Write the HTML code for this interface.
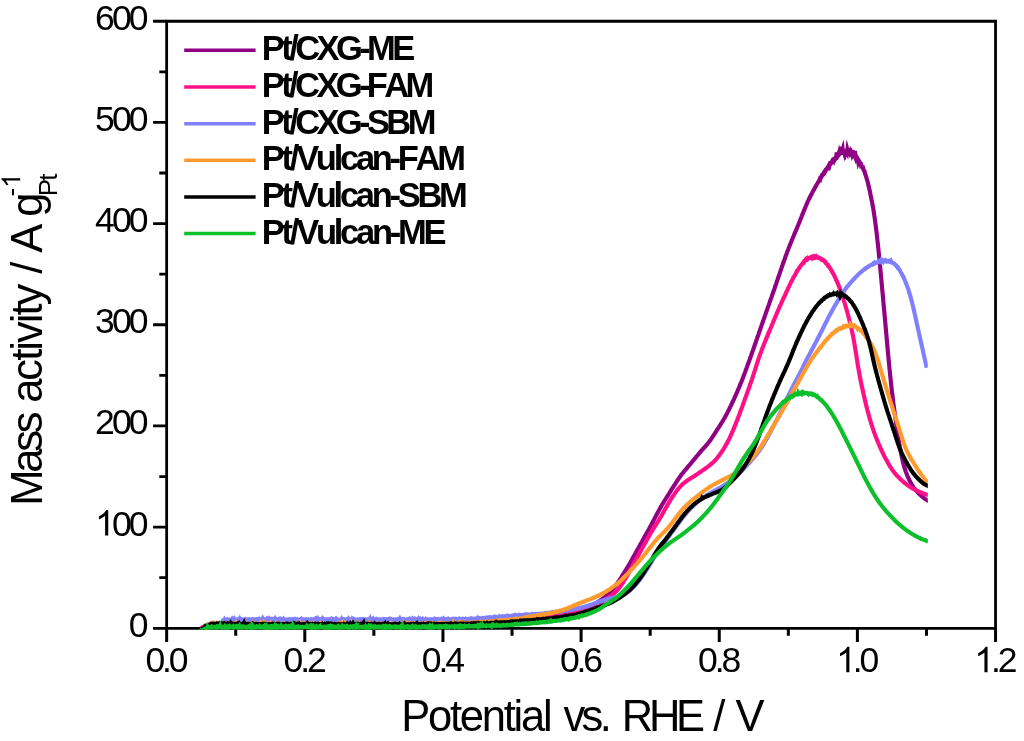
<!DOCTYPE html>
<html><head><meta charset="utf-8"><title>Mass activity</title>
<style>
html,body{margin:0;padding:0;background:#fff;}
svg{display:block;opacity:0.9999;will-change:transform;}
text{font-family:"Liberation Sans",sans-serif;fill:#000;font-kerning:none;white-space:pre;}
.tk{font-size:35px;}
.lg{font-size:34.5px;font-weight:bold;}
.ax{font-size:43.5px;}
</style></head><body>
<svg width="1024" height="741" viewBox="0 0 1024 741">
<rect width="1024" height="741" fill="#fff"/>
<g stroke="#000" stroke-width="2.8" fill="none" stroke-linecap="butt">
<path d="M166.65 19.85 V629.6999999999999 M165.25 21.25 H996.9499999999999 M995.55 19.85 V629.6999999999999 M165.25 628.3 H996.9499999999999"/>
<path stroke-width="3.0" d="M166.65 628.3 v13.60 M235.73 628.3 v7.40 M304.80 628.3 v13.60 M373.88 628.3 v7.40 M442.95 628.3 v13.60 M512.02 628.3 v7.40 M581.10 628.3 v13.60 M650.18 628.3 v7.40 M719.25 628.3 v13.60 M788.33 628.3 v7.40 M857.40 628.3 v13.60 M926.48 628.3 v7.40 M995.55 628.3 v13.60"/>
<path stroke-width="2.8" d="M166.65 628.30 h-13.55 M166.65 577.71 h-7.35 M166.65 527.12 h-13.55 M166.65 476.54 h-7.35 M166.65 425.95 h-13.55 M166.65 375.36 h-7.35 M166.65 324.77 h-13.55 M166.65 274.19 h-7.35 M166.65 223.60 h-13.55 M166.65 173.01 h-7.35 M166.65 122.42 h-13.55 M166.65 71.84 h-7.35 M166.65 21.25 h-13.55"/>
</g>
<clipPath id="cp"><rect x="150" y="0" width="777.8" height="629.70"/></clipPath>
<g clip-path="url(#cp)" fill="none" stroke-width="4.15" stroke-linejoin="miter" stroke-miterlimit="8" stroke-linecap="butt">
<path stroke="#900084" stroke-miterlimit="5" d="M201.0 628.6 L201.4 628.4 L201.8 628.1 L202.2 627.7 L202.6 627.6 L203.0 627.3 L203.4 627.3 L203.8 627.1 L204.2 626.8 L204.6 626.6 L205.0 626.7 L205.4 626.5 L205.8 626.3 L206.2 626.0 L206.6 626.1 L207.0 626.1 L207.4 625.6 L207.8 625.3 L208.2 625.4 L208.6 625.4 L209.0 625.2 L209.4 625.5 L209.8 625.2 L210.2 625.5 L210.6 625.4 L211.0 625.3 L211.4 624.8 L211.8 625.1 L212.2 625.2 L212.6 625.2 L213.0 624.9 L213.4 625.1 L213.8 625.0 L214.2 625.0 L214.6 625.4 L215.0 625.0 L215.4 625.2 L215.8 625.4 L216.2 625.1 L216.6 625.2 L217.0 625.2 L217.4 625.2 L217.8 624.9 L218.2 625.2 L218.6 625.5 L219.0 624.9 L219.4 625.4 L219.8 625.2 L220.2 625.1 L220.6 626.1 L221.0 625.4 L221.4 625.0 L221.8 625.2 L222.2 625.3 L222.6 625.2 L223.0 625.3 L223.4 625.2 L223.8 625.3 L224.2 625.5 L224.6 625.1 L225.0 625.2 L225.4 625.1 L225.8 625.2 L226.2 625.2 L226.6 625.1 L227.0 625.2 L227.4 625.4 L227.8 625.4 L228.2 624.9 L228.6 625.0 L229.0 625.3 L229.4 624.8 L229.8 625.1 L230.2 625.2 L230.6 625.5 L231.0 625.3 L231.4 625.1 L231.8 625.1 L232.2 625.1 L232.6 625.5 L233.0 625.1 L233.4 625.1 L233.8 625.3 L234.2 625.2 L234.6 625.2 L235.0 625.0 L235.4 625.2 L235.8 625.1 L236.2 625.4 L236.6 625.3 L237.0 625.2 L237.4 625.3 L237.8 625.1 L238.2 625.4 L238.6 625.2 L239.0 625.3 L239.4 624.9 L239.8 625.3 L240.2 624.8 L240.6 624.8 L241.0 625.1 L241.4 625.0 L241.8 625.2 L242.2 625.7 L242.6 625.0 L243.0 625.1 L243.4 625.2 L243.8 625.3 L244.2 625.2 L244.6 625.2 L245.0 625.3 L245.4 625.3 L245.8 625.0 L246.2 625.2 L246.6 625.2 L247.0 625.0 L247.4 625.3 L247.8 625.0 L248.2 625.4 L248.6 625.2 L249.0 625.2 L249.4 625.1 L249.8 625.2 L250.2 624.0 L250.6 625.0 L251.0 625.3 L251.4 624.8 L251.8 625.4 L252.2 624.6 L252.6 625.4 L253.0 625.0 L253.4 625.4 L253.8 625.2 L254.2 624.9 L254.6 625.5 L255.0 625.5 L255.4 625.2 L255.8 625.1 L256.2 625.2 L256.6 625.0 L257.0 625.4 L257.4 625.1 L257.8 625.2 L258.2 625.0 L258.6 625.1 L259.0 624.9 L259.4 625.5 L259.8 625.2 L260.2 625.4 L260.6 625.2 L261.0 625.1 L261.4 625.1 L261.8 624.6 L262.2 625.2 L262.6 625.1 L263.0 625.1 L263.4 624.9 L263.8 625.0 L264.2 625.5 L264.6 625.1 L265.0 625.0 L265.4 625.3 L265.8 625.5 L266.2 624.9 L266.6 625.2 L267.0 625.1 L267.4 624.8 L267.8 625.4 L268.2 625.2 L268.6 625.2 L269.0 623.6 L269.4 625.3 L269.8 625.1 L270.2 625.2 L270.6 625.0 L271.0 624.9 L271.4 625.5 L271.8 625.1 L272.2 624.7 L272.6 625.2 L273.0 625.1 L273.4 625.1 L273.8 625.3 L274.2 625.1 L274.6 625.2 L275.0 625.2 L275.4 625.4 L275.8 625.5 L276.2 625.3 L276.6 625.1 L277.0 624.6 L277.4 625.4 L277.8 625.4 L278.2 625.2 L278.6 625.3 L279.0 625.4 L279.4 625.4 L279.8 625.4 L280.2 625.1 L280.6 625.5 L281.0 624.9 L281.4 625.4 L281.8 625.3 L282.2 625.4 L282.6 625.6 L283.0 625.5 L283.4 625.0 L283.8 624.8 L284.2 625.4 L284.6 625.0 L285.0 625.2 L285.4 625.4 L285.8 624.9 L286.2 624.8 L286.6 625.3 L287.0 625.2 L287.4 625.1 L287.8 625.2 L288.2 625.0 L288.6 624.9 L289.0 625.2 L289.4 625.0 L289.8 625.0 L290.2 625.3 L290.6 625.2 L291.0 625.3 L291.4 625.0 L291.8 625.1 L292.2 625.0 L292.6 625.0 L293.0 625.2 L293.4 625.0 L293.8 625.3 L294.2 625.3 L294.6 626.7 L295.0 624.9 L295.4 625.4 L295.8 625.2 L296.2 625.2 L296.6 624.9 L297.0 625.1 L297.4 625.4 L297.8 625.2 L298.2 625.2 L298.6 625.1 L299.0 625.4 L299.4 625.2 L299.8 624.7 L300.2 625.1 L300.6 624.8 L301.0 624.5 L301.4 625.1 L301.8 625.5 L302.2 625.2 L302.6 625.0 L303.0 625.0 L303.4 625.4 L303.8 625.2 L304.2 625.2 L304.6 625.2 L305.0 625.2 L305.4 625.4 L305.8 625.1 L306.2 625.2 L306.6 625.0 L307.0 625.3 L307.4 625.1 L307.8 625.4 L308.2 624.9 L308.6 625.2 L309.0 625.2 L309.4 624.9 L309.8 625.6 L310.2 625.5 L310.6 625.1 L311.0 625.4 L311.4 625.3 L311.8 624.7 L312.2 625.2 L312.6 625.2 L313.0 625.2 L313.4 625.0 L313.8 625.1 L314.2 625.2 L314.6 625.4 L315.0 625.3 L315.4 625.2 L315.8 625.5 L316.2 625.1 L316.6 625.1 L317.0 624.8 L317.4 625.5 L317.8 625.4 L318.2 625.4 L318.6 625.3 L319.0 625.2 L319.4 625.2 L319.8 625.1 L320.2 625.1 L320.6 625.2 L321.0 625.5 L321.4 625.3 L321.8 625.2 L322.2 625.1 L322.6 625.1 L323.0 625.5 L323.4 625.3 L323.8 625.2 L324.2 625.1 L324.6 625.0 L325.0 625.2 L325.4 625.4 L325.8 625.1 L326.2 625.1 L326.6 625.1 L327.0 625.2 L327.4 624.9 L327.8 625.1 L328.2 625.0 L328.6 625.4 L329.0 625.0 L329.4 625.3 L329.8 625.5 L330.2 625.1 L330.6 625.1 L331.0 625.2 L331.4 625.2 L331.8 625.0 L332.2 625.3 L332.6 625.6 L333.0 625.1 L333.4 625.1 L333.8 625.0 L334.2 625.2 L334.6 624.9 L335.0 624.9 L335.4 625.4 L335.8 625.0 L336.2 625.4 L336.6 625.5 L337.0 625.2 L337.4 625.3 L337.8 625.6 L338.2 625.1 L338.6 624.9 L339.0 624.9 L339.4 625.2 L339.8 626.2 L340.2 625.4 L340.6 625.0 L341.0 625.0 L341.4 625.1 L341.8 625.2 L342.2 625.1 L342.6 625.2 L343.0 625.2 L343.4 625.1 L343.8 625.1 L344.2 625.2 L344.6 625.1 L345.0 625.3 L345.4 625.5 L345.8 625.1 L346.2 625.2 L346.6 624.8 L347.0 625.2 L347.4 624.7 L347.8 624.9 L348.2 625.3 L348.6 625.3 L349.0 625.1 L349.4 625.3 L349.8 625.1 L350.2 625.0 L350.6 625.6 L351.0 625.6 L351.4 625.2 L351.8 625.0 L352.2 624.9 L352.6 625.1 L353.0 625.1 L353.4 624.9 L353.8 625.2 L354.2 624.9 L354.6 625.4 L355.0 625.4 L355.4 625.4 L355.8 625.0 L356.2 625.2 L356.6 625.1 L357.0 625.0 L357.4 625.1 L357.8 624.9 L358.2 624.8 L358.6 625.3 L359.0 625.1 L359.4 625.2 L359.8 625.3 L360.2 624.8 L360.6 625.0 L361.0 625.2 L361.4 625.2 L361.8 625.0 L362.2 625.3 L362.6 625.2 L363.0 624.9 L363.4 624.9 L363.8 625.3 L364.2 625.2 L364.6 624.7 L365.0 625.4 L365.4 625.2 L365.8 625.4 L366.2 625.0 L366.6 625.0 L367.0 624.9 L367.4 625.6 L367.8 625.1 L368.2 625.4 L368.6 625.4 L369.0 625.1 L369.4 624.8 L369.8 625.0 L370.2 625.3 L370.6 624.8 L371.0 625.3 L371.4 625.2 L371.8 624.9 L372.2 625.0 L372.6 625.0 L373.0 625.1 L373.4 625.0 L373.8 624.9 L374.2 625.0 L374.6 624.9 L375.0 624.8 L375.4 625.1 L375.8 625.3 L376.2 624.8 L376.6 625.1 L377.0 624.9 L377.4 624.9 L377.8 625.2 L378.2 625.0 L378.6 624.8 L379.0 624.9 L379.4 625.1 L379.8 625.0 L380.2 624.9 L380.6 625.2 L381.0 625.0 L381.4 625.2 L381.8 625.1 L382.2 624.8 L382.6 625.0 L383.0 625.1 L383.4 625.2 L383.8 624.9 L384.2 625.0 L384.6 624.7 L385.0 625.2 L385.4 625.5 L385.8 624.7 L386.2 625.0 L386.6 625.3 L387.0 624.8 L387.4 624.8 L387.8 624.9 L388.2 624.8 L388.6 625.1 L389.0 624.9 L389.4 624.9 L389.8 625.1 L390.2 624.9 L390.6 625.1 L391.0 624.8 L391.4 624.8 L391.8 624.7 L392.2 625.4 L392.6 625.9 L393.0 625.1 L393.4 625.0 L393.8 625.1 L394.2 625.0 L394.6 625.4 L395.0 624.8 L395.4 624.7 L395.8 624.8 L396.2 624.8 L396.6 625.2 L397.0 625.9 L397.4 624.8 L397.8 624.8 L398.2 624.9 L398.6 625.3 L399.0 624.5 L399.4 625.0 L399.8 624.8 L400.2 625.2 L400.6 624.8 L401.0 624.9 L401.4 624.7 L401.8 624.8 L402.2 625.2 L402.6 625.1 L403.0 624.9 L403.4 624.8 L403.8 624.6 L404.2 624.9 L404.6 625.0 L405.0 625.0 L405.4 625.0 L405.8 624.8 L406.2 625.0 L406.6 625.4 L407.0 625.2 L407.4 625.3 L407.8 624.9 L408.2 624.8 L408.6 625.0 L409.0 624.9 L409.4 624.8 L409.8 624.9 L410.2 624.8 L410.6 625.1 L411.0 624.9 L411.4 625.0 L411.8 624.9 L412.2 624.8 L412.6 624.8 L413.0 624.9 L413.4 624.8 L413.8 625.0 L414.2 624.9 L414.6 623.9 L415.0 624.9 L415.4 624.7 L415.8 624.8 L416.2 624.9 L416.6 624.6 L417.0 624.9 L417.4 624.9 L417.8 624.9 L418.2 624.8 L418.6 624.8 L419.0 624.7 L419.4 624.8 L419.8 624.8 L420.2 624.9 L420.6 624.7 L421.0 624.9 L421.4 624.9 L421.8 624.9 L422.2 624.8 L422.6 625.0 L423.0 624.6 L423.4 624.9 L423.8 624.9 L424.2 624.9 L424.6 624.9 L425.0 624.7 L425.4 624.8 L425.8 625.0 L426.2 624.9 L426.6 624.9 L427.0 624.6 L427.4 624.9 L427.8 625.0 L428.2 625.0 L428.6 624.9 L429.0 624.6 L429.4 625.0 L429.8 624.8 L430.2 624.4 L430.6 624.9 L431.0 624.6 L431.4 624.6 L431.8 624.7 L432.2 625.0 L432.6 624.7 L433.0 624.8 L433.4 625.1 L433.8 625.0 L434.2 624.8 L434.6 624.7 L435.0 624.6 L435.4 624.6 L435.8 624.8 L436.2 624.8 L436.6 624.8 L437.0 624.9 L437.4 624.6 L437.8 624.7 L438.2 624.8 L438.6 624.8 L439.0 624.9 L439.4 624.8 L439.8 624.7 L440.2 624.8 L440.6 624.5 L441.0 624.4 L441.4 624.8 L441.8 624.7 L442.2 624.7 L442.6 624.4 L443.0 623.9 L443.4 624.6 L443.8 624.5 L444.2 624.3 L444.6 625.0 L445.0 624.8 L445.4 624.7 L445.8 624.5 L446.2 624.6 L446.6 624.7 L447.0 624.2 L447.4 624.6 L447.8 624.7 L448.2 624.7 L448.6 624.9 L449.0 624.8 L449.4 624.6 L449.8 624.6 L450.2 624.7 L450.6 624.5 L451.0 624.6 L451.4 624.7 L451.8 624.9 L452.2 624.5 L452.6 624.5 L453.0 624.6 L453.4 624.7 L453.8 624.5 L454.2 624.1 L454.6 624.4 L455.0 624.5 L455.4 624.5 L455.8 624.6 L456.2 624.7 L456.6 624.3 L457.0 624.4 L457.4 624.5 L457.8 624.4 L458.2 624.3 L458.6 624.6 L459.0 624.5 L459.4 624.6 L459.8 624.4 L460.2 624.6 L460.6 624.4 L461.0 624.6 L461.4 624.3 L461.8 624.3 L462.2 624.4 L462.6 624.3 L463.0 624.5 L463.4 624.4 L463.8 624.3 L464.2 624.4 L464.6 624.3 L465.0 624.5 L465.4 624.3 L465.8 624.3 L466.2 624.5 L466.6 624.7 L467.0 624.6 L467.4 624.3 L467.8 624.4 L468.2 624.5 L468.6 624.3 L469.0 624.2 L469.4 624.5 L469.8 624.4 L470.2 624.2 L470.6 624.1 L471.0 624.1 L471.4 624.4 L471.8 624.2 L472.2 624.2 L472.6 624.3 L473.0 624.3 L473.4 624.2 L473.8 624.0 L474.2 624.1 L474.6 624.2 L475.0 624.1 L475.4 624.4 L475.8 624.2 L476.2 624.1 L476.6 624.1 L477.0 624.1 L477.4 624.2 L477.8 623.9 L478.2 624.0 L478.6 624.1 L479.0 624.5 L479.4 624.2 L479.8 624.1 L480.2 624.2 L480.6 624.4 L481.0 624.0 L481.4 624.0 L481.8 624.2 L482.2 624.1 L482.6 624.1 L483.0 623.9 L483.4 624.3 L483.8 624.2 L484.2 624.0 L484.6 624.1 L485.0 623.7 L485.4 624.0 L485.8 623.9 L486.2 624.0 L486.6 624.0 L487.0 623.8 L487.4 623.7 L487.8 623.9 L488.2 623.8 L488.6 623.8 L489.0 623.7 L489.4 623.8 L489.8 623.5 L490.2 623.9 L490.6 623.8 L491.0 623.9 L491.4 624.0 L491.8 623.7 L492.2 623.5 L492.6 623.6 L493.0 623.5 L493.4 623.6 L493.8 623.7 L494.2 623.4 L494.6 623.7 L495.0 623.4 L495.4 623.6 L495.8 623.4 L496.2 623.5 L496.6 623.5 L497.0 623.5 L497.4 623.4 L497.8 623.3 L498.2 623.5 L498.6 623.7 L499.0 623.7 L499.4 623.6 L499.8 623.5 L500.2 623.3 L500.6 623.5 L501.0 623.3 L501.4 623.3 L501.8 623.3 L502.2 623.3 L502.6 623.2 L503.0 623.2 L503.4 623.1 L503.8 623.2 L504.2 623.4 L504.6 623.1 L505.0 623.1 L505.4 623.2 L505.8 623.2 L506.2 622.9 L506.6 623.0 L507.0 622.7 L507.4 622.8 L507.8 623.0 L508.2 623.1 L508.6 622.8 L509.0 622.9 L509.4 622.8 L509.8 623.0 L510.2 622.8 L510.6 622.7 L511.0 622.6 L511.4 622.7 L511.8 622.7 L512.2 622.8 L512.6 622.4 L513.0 622.8 L513.4 622.5 L513.8 622.4 L514.2 622.5 L514.6 622.3 L515.0 622.1 L515.4 622.3 L515.8 622.1 L516.2 622.2 L516.6 622.3 L517.0 622.3 L517.4 622.3 L517.8 622.1 L518.2 621.9 L518.6 622.0 L519.0 621.9 L519.4 621.8 L519.8 622.0 L520.2 621.8 L520.6 621.6 L521.0 622.0 L521.4 621.8 L521.8 621.8 L522.2 621.7 L522.6 621.7 L523.0 621.6 L523.4 621.7 L523.8 621.6 L524.2 621.6 L524.6 621.5 L525.0 621.1 L525.4 621.4 L525.8 621.4 L526.2 621.4 L526.6 621.2 L527.0 621.4 L527.4 621.2 L527.8 621.1 L528.2 621.0 L528.6 621.1 L529.0 621.1 L529.4 621.0 L529.8 621.0 L530.2 620.9 L530.6 621.0 L531.0 620.8 L531.4 620.9 L531.8 620.9 L532.2 621.0 L532.6 620.6 L533.0 620.7 L533.4 620.6 L533.8 620.7 L534.2 620.5 L534.6 620.5 L535.0 620.5 L535.4 620.4 L535.8 620.4 L536.2 620.4 L536.6 620.2 L537.0 620.2 L537.4 620.3 L537.8 620.3 L538.2 620.2 L538.6 620.0 L539.0 620.1 L539.4 620.2 L539.8 620.1 L540.2 620.0 L540.6 619.9 L541.0 620.0 L541.4 619.9 L541.8 619.8 L542.2 619.8 L542.6 619.9 L543.0 619.8 L543.4 619.8 L543.8 619.6 L544.2 619.7 L544.6 619.5 L545.0 619.5 L545.4 619.7 L545.8 619.5 L546.2 619.4 L546.6 619.4 L547.0 619.3 L547.4 619.4 L547.8 619.2 L548.2 618.9 L548.6 619.1 L549.0 619.1 L549.4 619.0 L549.8 619.1 L550.2 618.9 L550.6 618.9 L551.0 618.7 L551.4 618.8 L551.8 618.9 L552.2 618.7 L552.6 618.6 L553.0 618.5 L553.4 618.6 L553.8 618.3 L554.2 618.3 L554.6 618.3 L555.0 618.3 L555.4 618.0 L555.8 618.2 L556.2 618.0 L556.6 618.0 L557.0 617.9 L557.4 617.7 L557.8 617.7 L558.2 617.8 L558.6 617.5 L559.0 617.3 L559.4 617.5 L559.8 617.3 L560.2 617.3 L560.6 617.2 L561.0 617.3 L561.4 617.3 L561.8 617.2 L562.2 616.9 L562.6 616.9 L563.0 616.8 L563.4 616.7 L563.8 616.8 L564.2 616.4 L564.6 616.5 L565.0 616.4 L565.4 616.4 L565.8 616.2 L566.2 616.1 L566.6 616.0 L567.0 616.0 L567.4 615.8 L567.8 615.8 L568.2 615.6 L568.6 615.4 L569.0 615.5 L569.4 615.4 L569.8 615.3 L570.2 615.2 L570.6 615.1 L571.0 614.9 L571.4 614.8 L571.8 614.7 L572.2 614.7 L572.6 614.4 L573.0 614.5 L573.4 614.2 L573.8 614.1 L574.2 614.1 L574.6 613.9 L575.0 613.7 L575.4 613.6 L575.8 613.6 L576.2 613.5 L576.6 613.3 L577.0 613.2 L577.4 613.1 L577.8 612.8 L578.2 612.8 L578.6 612.6 L579.0 612.4 L579.4 612.3 L579.8 612.1 L580.2 612.0 L580.6 611.8 L581.0 611.6 L581.4 611.5 L581.8 611.3 L582.2 611.2 L582.6 611.0 L583.0 610.8 L583.4 610.7 L583.8 610.3 L584.2 610.2 L584.6 609.9 L585.0 609.9 L585.4 609.6 L585.8 609.2 L586.2 609.0 L586.6 608.9 L587.0 608.7 L587.4 608.5 L587.8 608.2 L588.2 608.0 L588.6 607.8 L589.0 607.5 L589.4 607.4 L589.8 606.9 L590.2 606.9 L590.6 606.6 L591.0 606.5 L591.4 606.2 L591.8 605.9 L592.2 605.7 L592.6 605.4 L593.0 605.2 L593.4 604.9 L593.8 604.7 L594.2 604.5 L594.6 604.3 L595.0 604.0 L595.4 603.8 L595.8 603.5 L596.2 603.2 L596.6 603.0 L597.0 602.8 L597.4 602.4 L597.8 602.1 L598.2 601.9 L598.6 601.6 L599.0 601.3 L599.4 601.1 L599.8 600.8 L600.2 600.5 L600.6 600.2 L601.0 600.0 L601.4 599.7 L601.8 599.3 L602.2 599.2 L602.6 598.8 L603.0 598.6 L603.4 598.3 L603.8 597.9 L604.2 597.6 L604.6 597.3 L605.0 597.0 L605.4 596.7 L605.8 596.4 L606.2 595.9 L606.6 595.7 L607.0 595.3 L607.4 595.1 L607.8 594.7 L608.2 594.3 L608.6 594.0 L609.0 593.6 L609.4 593.1 L609.8 592.7 L610.2 592.3 L610.6 591.8 L611.0 591.4 L611.4 591.1 L611.8 590.5 L612.2 590.1 L612.6 589.5 L613.0 589.1 L613.4 588.6 L613.8 588.0 L614.2 587.5 L614.6 587.1 L615.0 586.4 L615.4 585.9 L615.8 585.3 L616.2 584.8 L616.6 584.2 L617.0 583.6 L617.4 583.0 L617.8 582.5 L618.2 581.8 L618.6 581.3 L619.0 580.7 L619.4 580.1 L619.8 579.4 L620.2 578.9 L620.6 578.2 L621.0 577.7 L621.4 577.2 L621.8 576.5 L622.2 575.8 L622.6 575.2 L623.0 574.6 L623.4 574.0 L623.8 573.3 L624.2 572.6 L624.6 572.1 L625.0 571.4 L625.4 570.7 L625.8 570.0 L626.2 569.4 L626.6 568.7 L627.0 568.0 L627.4 567.5 L627.8 566.7 L628.2 566.1 L628.6 565.5 L629.0 564.8 L629.4 564.0 L629.8 563.4 L630.2 562.7 L630.6 561.9 L631.0 561.2 L631.4 560.6 L631.8 559.8 L632.2 559.2 L632.6 558.3 L633.0 557.7 L633.4 557.0 L633.8 556.3 L634.2 555.6 L634.6 554.9 L635.0 554.2 L635.4 553.5 L635.8 552.6 L636.2 552.0 L636.6 551.3 L637.0 550.6 L637.4 549.9 L637.8 549.1 L638.2 548.4 L638.6 547.7 L639.0 547.0 L639.4 546.2 L639.8 545.6 L640.2 544.9 L640.6 544.0 L641.0 543.4 L641.4 542.8 L641.8 541.9 L642.2 541.2 L642.6 540.5 L643.0 539.7 L643.4 539.0 L643.8 538.3 L644.2 537.6 L644.6 536.8 L645.0 536.1 L645.4 535.4 L645.8 534.7 L646.2 534.0 L646.6 533.3 L647.0 532.6 L647.4 531.9 L647.8 531.2 L648.2 530.4 L648.6 529.7 L649.0 529.0 L649.4 528.2 L649.8 527.6 L650.2 526.8 L650.6 526.1 L651.0 525.3 L651.4 524.6 L651.8 523.8 L652.2 523.1 L652.6 522.4 L653.0 521.6 L653.4 520.9 L653.8 520.1 L654.2 519.2 L654.6 518.5 L655.0 517.7 L655.4 517.0 L655.8 516.3 L656.2 515.5 L656.6 514.7 L657.0 513.9 L657.4 513.3 L657.8 512.5 L658.2 511.7 L658.6 511.0 L659.0 510.3 L659.4 509.5 L659.8 508.8 L660.2 508.1 L660.6 507.4 L661.0 506.6 L661.4 505.9 L661.8 505.3 L662.2 504.5 L662.6 503.9 L663.0 503.3 L663.4 502.7 L663.8 501.9 L664.2 501.3 L664.6 500.7 L665.0 500.1 L665.4 499.5 L665.8 498.7 L666.2 498.1 L666.6 497.4 L667.0 496.8 L667.4 496.3 L667.8 495.6 L668.2 494.9 L668.6 494.3 L669.0 493.7 L669.4 493.1 L669.8 492.4 L670.2 491.8 L670.6 491.0 L671.0 490.4 L671.4 489.9 L671.8 489.1 L672.2 488.6 L672.6 488.0 L673.0 487.3 L673.4 486.6 L673.8 486.1 L674.2 485.4 L674.6 484.8 L675.0 484.1 L675.4 483.6 L675.8 482.9 L676.2 482.3 L676.6 481.7 L677.0 481.1 L677.4 480.5 L677.8 479.9 L678.2 479.3 L678.6 478.8 L679.0 478.2 L679.4 477.6 L679.8 477.0 L680.2 476.4 L680.6 475.9 L681.0 475.3 L681.4 474.8 L681.8 474.2 L682.2 473.7 L682.6 473.2 L683.0 472.7 L683.4 472.2 L683.8 471.8 L684.2 471.3 L684.6 470.8 L685.0 470.3 L685.4 469.8 L685.8 469.4 L686.2 468.9 L686.6 468.5 L687.0 468.1 L687.4 467.5 L687.8 466.9 L688.2 466.5 L688.6 466.0 L689.0 465.5 L689.4 465.2 L689.8 464.7 L690.2 464.1 L690.6 463.7 L691.0 463.3 L691.4 462.7 L691.8 462.2 L692.2 461.7 L692.6 461.3 L693.0 460.8 L693.4 460.4 L693.8 459.9 L694.2 459.4 L694.6 458.9 L695.0 458.4 L695.4 457.8 L695.8 457.4 L696.2 456.9 L696.6 456.4 L697.0 456.0 L697.4 455.4 L697.8 454.9 L698.2 454.6 L698.6 454.0 L699.0 453.5 L699.4 453.1 L699.8 452.6 L700.2 452.1 L700.6 451.5 L701.0 451.2 L701.4 450.7 L701.8 450.2 L702.2 449.8 L702.6 449.4 L703.0 448.9 L703.4 448.4 L703.8 448.1 L704.2 447.6 L704.6 447.1 L705.0 446.7 L705.4 446.3 L705.8 445.8 L706.2 445.4 L706.6 444.9 L707.0 444.4 L707.4 444.0 L707.8 443.5 L708.2 443.0 L708.6 442.5 L709.0 442.0 L709.4 441.6 L709.8 440.9 L710.2 440.4 L710.6 439.8 L711.0 439.2 L711.4 438.7 L711.8 438.1 L712.2 437.5 L712.6 436.8 L713.0 436.2 L713.4 435.6 L713.8 435.0 L714.2 434.4 L714.6 433.8 L715.0 433.1 L715.4 432.5 L715.8 431.9 L716.2 431.2 L716.6 430.5 L717.0 429.9 L717.4 429.3 L717.8 428.8 L718.2 428.1 L718.6 427.6 L719.0 426.9 L719.4 426.4 L719.8 425.7 L720.2 425.0 L720.6 424.4 L721.0 423.8 L721.4 423.2 L721.8 422.5 L722.2 421.9 L722.6 421.3 L723.0 420.5 L723.4 419.9 L723.8 419.2 L724.2 418.6 L724.6 417.9 L725.0 417.2 L725.4 416.5 L725.8 415.6 L726.2 415.0 L726.6 414.2 L727.0 413.5 L727.4 412.7 L727.8 411.8 L728.2 411.1 L728.6 410.4 L729.0 409.6 L729.4 408.8 L729.8 407.9 L730.2 407.0 L730.6 406.3 L731.0 405.5 L731.4 404.6 L731.8 403.7 L732.2 402.8 L732.6 402.1 L733.0 401.3 L733.4 400.3 L733.8 399.5 L734.2 398.6 L734.6 397.6 L735.0 396.8 L735.4 395.8 L735.8 394.9 L736.2 394.1 L736.6 393.2 L737.0 392.2 L737.4 391.3 L737.8 390.3 L738.2 389.4 L738.6 388.5 L739.0 387.5 L739.4 386.6 L739.8 385.6 L740.2 384.7 L740.6 383.6 L741.0 382.7 L741.4 381.7 L741.8 380.8 L742.2 379.7 L742.6 378.8 L743.0 377.6 L743.4 376.6 L743.8 375.6 L744.2 374.4 L744.6 373.4 L745.0 372.4 L745.4 371.2 L745.8 370.1 L746.2 369.0 L746.6 368.0 L747.0 366.9 L747.4 365.7 L747.8 364.6 L748.2 363.6 L748.6 362.5 L749.0 361.4 L749.4 360.3 L749.8 359.2 L750.2 358.0 L750.6 356.9 L751.0 355.8 L751.4 354.7 L751.8 353.5 L752.2 352.4 L752.6 351.3 L753.0 350.2 L753.4 348.9 L753.8 348.0 L754.2 346.6 L754.6 345.6 L755.0 344.4 L755.4 343.3 L755.8 342.1 L756.2 340.8 L756.6 339.8 L757.0 338.6 L757.4 337.3 L757.8 336.4 L758.2 335.2 L758.6 334.1 L759.0 332.8 L759.4 331.8 L759.8 330.6 L760.2 329.5 L760.6 328.2 L761.0 327.0 L761.4 325.9 L761.8 324.7 L762.2 323.5 L762.6 322.5 L763.0 321.3 L763.4 320.2 L763.8 319.0 L764.2 318.0 L764.6 316.8 L765.0 315.6 L765.4 314.5 L765.8 313.3 L766.2 312.1 L766.6 311.1 L767.0 309.8 L767.4 308.7 L767.8 307.5 L768.2 306.5 L768.6 305.4 L769.0 304.2 L769.4 303.1 L769.8 301.9 L770.2 300.7 L770.6 299.6 L771.0 298.6 L771.4 297.5 L771.8 296.3 L772.2 295.1 L772.6 294.1 L773.0 292.9 L773.4 291.8 L773.8 290.6 L774.2 289.5 L774.6 288.3 L775.0 287.1 L775.4 286.0 L775.8 284.7 L776.2 283.6 L776.6 282.4 L777.0 281.3 L777.4 280.1 L777.8 278.9 L778.2 277.8 L778.6 276.5 L779.0 275.3 L779.4 274.1 L779.8 273.0 L780.2 271.9 L780.6 270.7 L781.0 269.5 L781.4 268.4 L781.8 267.1 L782.2 266.1 L782.6 264.8 L783.0 263.6 L783.4 262.7 L783.8 261.5 L784.2 260.2 L784.6 259.2 L785.0 258.0 L785.4 256.9 L785.8 255.8 L786.2 254.7 L786.6 253.7 L787.0 252.6 L787.4 251.6 L787.8 250.4 L788.2 249.5 L788.6 248.3 L789.0 247.3 L789.4 246.2 L789.8 245.2 L790.2 244.3 L790.6 243.2 L791.0 242.3 L791.4 241.3 L791.8 240.2 L792.2 239.3 L792.6 238.3 L793.0 237.4 L793.4 236.5 L793.8 235.5 L794.2 234.5 L794.6 233.5 L795.0 232.7 L795.4 231.7 L795.8 230.8 L796.2 229.9 L796.6 228.9 L797.0 227.9 L797.4 226.9 L797.8 225.9 L798.2 225.0 L798.6 224.0 L799.0 223.0 L799.4 222.1 L799.8 221.1 L800.2 220.1 L800.6 219.1 L801.0 218.0 L801.4 217.2 L801.8 216.1 L802.2 215.2 L802.6 214.1 L803.0 213.1 L803.4 212.0 L803.8 211.1 L804.2 210.2 L804.6 209.0 L805.0 208.2 L805.4 207.2 L805.8 206.2 L806.2 205.3 L806.6 204.4 L807.0 203.3 L807.4 202.5 L807.8 201.5 L808.2 200.7 L808.6 199.8 L809.0 199.0 L809.4 198.2 L809.8 197.4 L810.2 196.4 L810.6 195.9 L811.0 195.1 L811.4 194.4 L811.8 193.7 L812.2 192.7 L812.6 192.0 L813.0 191.3 L813.4 190.3 L813.8 189.9 L814.2 189.4 L814.6 188.1 L815.0 187.4 L815.4 187.0 L815.8 186.2 L816.2 185.7 L816.6 184.6 L817.0 184.2 L817.4 183.7 L817.8 182.7 L818.2 182.0 L818.6 181.4 L819.0 180.7 L819.4 180.4 L819.8 179.2 L820.2 179.5 L820.6 177.8 L821.0 177.6 L821.4 176.8 L821.8 175.5 L822.2 175.5 L822.6 174.6 L823.0 174.1 L823.4 174.1 L823.8 172.7 L824.2 172.1 L824.6 172.3 L825.0 171.2 L825.4 171.2 L825.8 169.5 L826.2 169.1 L826.6 168.8 L827.0 168.8 L827.4 168.1 L827.8 167.1 L828.2 166.6 L828.6 166.0 L829.0 165.2 L829.4 166.0 L829.8 164.5 L830.2 163.3 L830.6 163.2 L831.0 163.4 L831.4 162.8 L831.8 161.9 L832.2 161.1 L832.6 161.1 L833.0 159.5 L833.4 159.3 L833.8 160.2 L834.2 158.9 L834.6 158.9 L835.0 159.3 L835.4 158.5 L835.8 157.6 L836.2 158.9 L836.6 152.4 L837.0 156.2 L837.4 156.7 L837.8 156.0 L838.2 154.6 L838.6 155.1 L839.0 154.5 L839.4 152.6 L839.8 153.9 L840.2 153.5 L840.6 153.1 L841.0 151.7 L841.4 152.6 L841.8 152.7 L842.2 150.4 L842.6 149.2 L843.0 152.8 L843.4 150.9 L843.8 151.8 L844.2 153.1 L844.6 151.1 L845.0 151.3 L845.4 152.8 L845.8 151.3 L846.2 151.4 L846.6 151.9 L847.0 152.7 L847.4 149.6 L847.8 151.0 L848.2 150.8 L848.6 150.8 L849.0 151.1 L849.4 151.2 L849.8 152.4 L850.2 151.5 L850.6 152.6 L851.0 153.0 L851.4 152.2 L851.8 153.1 L852.2 154.8 L852.6 153.9 L853.0 153.4 L853.4 154.2 L853.8 153.8 L854.2 155.2 L854.6 156.1 L855.0 150.9 L855.4 156.1 L855.8 157.6 L856.2 156.8 L856.6 157.8 L857.0 157.5 L857.4 158.2 L857.8 159.0 L858.2 161.4 L858.6 160.2 L859.0 160.8 L859.4 161.4 L859.8 162.2 L860.2 163.4 L860.6 163.8 L861.0 165.5 L861.4 165.2 L861.8 166.6 L862.2 166.8 L862.6 167.7 L863.0 167.6 L863.4 169.1 L863.8 170.1 L864.2 171.1 L864.6 171.3 L865.0 173.7 L865.4 174.4 L865.8 175.6 L866.2 176.9 L866.6 178.3 L867.0 179.9 L867.4 180.9 L867.8 182.5 L868.2 184.1 L868.6 186.1 L869.0 187.6 L869.4 189.3 L869.8 190.9 L870.2 193.1 L870.6 195.2 L871.0 196.6 L871.4 199.3 L871.8 201.1 L872.2 202.9 L872.6 205.3 L873.0 207.2 L873.4 209.5 L873.8 212.1 L874.2 214.8 L874.6 217.5 L875.0 220.3 L875.4 223.4 L875.8 226.1 L876.2 229.7 L876.6 232.8 L877.0 236.3 L877.4 239.9 L877.8 243.5 L878.2 247.2 L878.6 251.1 L879.0 255.2 L879.4 259.3 L879.8 263.4 L880.2 267.4 L880.6 271.7 L881.0 275.9 L881.4 280.4 L881.8 284.5 L882.2 289.1 L882.6 293.3 L883.0 297.6 L883.4 302.1 L883.8 306.5 L884.2 310.8 L884.6 315.2 L885.0 319.5 L885.4 324.0 L885.8 328.4 L886.2 332.8 L886.6 337.3 L887.0 341.7 L887.4 346.1 L887.8 350.5 L888.2 354.9 L888.6 359.2 L889.0 363.3 L889.4 367.6 L889.8 371.6 L890.2 375.6 L890.6 379.3 L891.0 383.1 L891.4 386.8 L891.8 390.2 L892.2 393.7 L892.6 396.8 L893.0 400.2 L893.4 403.3 L893.8 406.4 L894.2 409.3 L894.6 412.4 L895.0 415.2 L895.4 418.2 L895.8 420.9 L896.2 423.7 L896.6 426.6 L897.0 429.1 L897.4 431.8 L897.8 434.4 L898.2 436.9 L898.6 439.5 L899.0 442.0 L899.4 444.3 L899.8 446.5 L900.2 448.9 L900.6 451.1 L901.0 453.2 L901.4 455.2 L901.8 457.0 L902.2 458.9 L902.6 460.5 L903.0 462.2 L903.4 463.8 L903.8 465.2 L904.2 466.8 L904.6 468.0 L905.0 469.2 L905.4 470.5 L905.8 471.7 L906.2 472.7 L906.6 473.7 L907.0 474.8 L907.4 475.8 L907.8 476.7 L908.2 477.6 L908.6 478.5 L909.0 479.4 L909.4 480.1 L909.8 481.0 L910.2 481.7 L910.6 482.5 L911.0 483.2 L911.4 484.0 L911.8 484.6 L912.2 485.2 L912.6 485.9 L913.0 486.5 L913.4 487.1 L913.8 487.7 L914.2 488.2 L914.6 488.7 L915.0 489.3 L915.4 489.7 L915.8 490.1 L916.2 490.7 L916.6 491.1 L917.0 491.6 L917.4 492.0 L917.8 492.4 L918.2 492.8 L918.6 493.3 L919.0 493.7 L919.4 494.0 L919.8 494.5 L920.2 494.8 L920.6 495.2 L921.0 495.6 L921.4 496.0 L921.8 496.2 L922.2 496.7 L922.6 496.9 L923.0 497.3 L923.4 497.6 L923.8 498.0 L924.2 498.3 L924.6 498.6 L925.0 498.8 L925.4 499.2 L925.8 499.4 L926.2 499.6 L926.6 500.0 L927.0 500.1 L927.4 500.4 L927.8 500.7 L928.2 500.9 L928.6 501.0 L929.0 501.4 L929.4 501.5 L929.8 501.9 L930.2 502.1 L930.6 502.3 L931.0 502.5"/>
<path stroke="#ff1088" stroke-miterlimit="3" d="M201.0 628.2 L201.4 628.4 L201.8 627.9 L202.2 627.9 L202.6 627.7 L203.0 627.3 L203.4 627.0 L203.8 627.0 L204.2 626.6 L204.6 626.2 L205.0 626.2 L205.4 626.1 L205.8 625.8 L206.2 625.7 L206.6 625.5 L207.0 625.4 L207.4 625.1 L207.8 624.9 L208.2 625.3 L208.6 624.8 L209.0 624.9 L209.4 624.5 L209.8 624.7 L210.2 624.4 L210.6 625.1 L211.0 624.3 L211.4 624.2 L211.8 624.6 L212.2 624.6 L212.6 623.9 L213.0 624.3 L213.4 624.5 L213.8 624.0 L214.2 624.4 L214.6 624.2 L215.0 624.1 L215.4 624.2 L215.8 624.2 L216.2 624.0 L216.6 624.7 L217.0 624.2 L217.4 624.1 L217.8 624.4 L218.2 624.2 L218.6 624.5 L219.0 624.2 L219.4 624.3 L219.8 624.3 L220.2 624.3 L220.6 624.2 L221.0 624.2 L221.4 624.6 L221.8 624.1 L222.2 624.1 L222.6 624.1 L223.0 624.3 L223.4 624.3 L223.8 624.4 L224.2 624.3 L224.6 624.3 L225.0 624.2 L225.4 624.1 L225.8 624.2 L226.2 623.8 L226.6 624.3 L227.0 624.2 L227.4 623.9 L227.8 624.2 L228.2 624.5 L228.6 624.1 L229.0 624.3 L229.4 624.1 L229.8 622.8 L230.2 624.0 L230.6 624.1 L231.0 624.7 L231.4 624.3 L231.8 624.0 L232.2 624.4 L232.6 624.1 L233.0 624.0 L233.4 624.3 L233.8 624.0 L234.2 623.8 L234.6 624.4 L235.0 623.8 L235.4 624.3 L235.8 623.8 L236.2 624.1 L236.6 624.1 L237.0 624.1 L237.4 623.5 L237.8 624.1 L238.2 624.1 L238.6 624.0 L239.0 624.1 L239.4 624.3 L239.8 624.0 L240.2 624.2 L240.6 623.9 L241.0 624.2 L241.4 624.3 L241.8 624.6 L242.2 624.3 L242.6 624.2 L243.0 624.4 L243.4 623.9 L243.8 624.4 L244.2 624.0 L244.6 624.0 L245.0 624.4 L245.4 624.2 L245.8 624.4 L246.2 624.1 L246.6 624.2 L247.0 624.0 L247.4 624.1 L247.8 623.7 L248.2 624.3 L248.6 624.2 L249.0 623.9 L249.4 623.8 L249.8 623.9 L250.2 624.4 L250.6 625.0 L251.0 624.1 L251.4 624.2 L251.8 624.1 L252.2 624.2 L252.6 624.3 L253.0 624.2 L253.4 624.3 L253.8 623.9 L254.2 624.1 L254.6 624.0 L255.0 624.1 L255.4 624.1 L255.8 624.0 L256.2 624.0 L256.6 624.3 L257.0 624.0 L257.4 624.2 L257.8 624.2 L258.2 624.3 L258.6 624.1 L259.0 624.1 L259.4 623.9 L259.8 624.1 L260.2 624.3 L260.6 625.4 L261.0 624.1 L261.4 624.1 L261.8 623.8 L262.2 624.2 L262.6 624.2 L263.0 624.3 L263.4 624.5 L263.8 624.2 L264.2 624.3 L264.6 623.9 L265.0 624.4 L265.4 624.3 L265.8 624.4 L266.2 624.2 L266.6 624.2 L267.0 624.4 L267.4 624.0 L267.8 624.2 L268.2 624.3 L268.6 623.9 L269.0 623.9 L269.4 624.2 L269.8 624.1 L270.2 624.2 L270.6 624.2 L271.0 623.9 L271.4 624.2 L271.8 624.3 L272.2 624.0 L272.6 624.0 L273.0 623.9 L273.4 624.3 L273.8 624.5 L274.2 623.8 L274.6 624.3 L275.0 624.3 L275.4 624.0 L275.8 624.0 L276.2 623.9 L276.6 623.9 L277.0 624.1 L277.4 624.2 L277.8 624.1 L278.2 624.3 L278.6 624.1 L279.0 623.9 L279.4 624.4 L279.8 624.3 L280.2 623.9 L280.6 624.4 L281.0 624.2 L281.4 624.1 L281.8 624.5 L282.2 623.6 L282.6 623.8 L283.0 624.2 L283.4 624.0 L283.8 623.9 L284.2 624.4 L284.6 624.2 L285.0 623.8 L285.4 623.9 L285.8 624.2 L286.2 624.4 L286.6 623.7 L287.0 624.1 L287.4 623.6 L287.8 623.7 L288.2 624.0 L288.6 623.7 L289.0 624.0 L289.4 624.4 L289.8 624.2 L290.2 624.2 L290.6 624.2 L291.0 624.6 L291.4 624.2 L291.8 623.8 L292.2 624.0 L292.6 624.2 L293.0 623.9 L293.4 624.0 L293.8 624.3 L294.2 624.4 L294.6 623.9 L295.0 623.9 L295.4 624.2 L295.8 624.1 L296.2 623.9 L296.6 624.1 L297.0 624.1 L297.4 624.0 L297.8 624.6 L298.2 624.3 L298.6 624.2 L299.0 624.2 L299.4 624.6 L299.8 624.2 L300.2 623.9 L300.6 624.1 L301.0 624.0 L301.4 623.9 L301.8 624.0 L302.2 624.0 L302.6 623.7 L303.0 623.9 L303.4 624.1 L303.8 623.6 L304.2 624.1 L304.6 624.0 L305.0 624.0 L305.4 623.5 L305.8 624.3 L306.2 623.6 L306.6 623.7 L307.0 624.0 L307.4 623.8 L307.8 623.8 L308.2 623.4 L308.6 623.8 L309.0 623.9 L309.4 624.0 L309.8 623.8 L310.2 623.9 L310.6 623.9 L311.0 623.7 L311.4 623.6 L311.8 624.2 L312.2 623.6 L312.6 624.0 L313.0 623.8 L313.4 624.0 L313.8 623.6 L314.2 623.8 L314.6 623.8 L315.0 623.6 L315.4 623.7 L315.8 623.5 L316.2 623.6 L316.6 623.6 L317.0 623.8 L317.4 623.6 L317.8 623.3 L318.2 623.5 L318.6 623.6 L319.0 623.4 L319.4 623.8 L319.8 623.6 L320.2 623.7 L320.6 623.4 L321.0 623.4 L321.4 623.7 L321.8 623.2 L322.2 623.5 L322.6 623.5 L323.0 623.3 L323.4 623.4 L323.8 623.2 L324.2 623.4 L324.6 623.1 L325.0 623.1 L325.4 623.6 L325.8 623.2 L326.2 622.9 L326.6 623.5 L327.0 623.1 L327.4 622.5 L327.8 623.2 L328.2 623.8 L328.6 623.7 L329.0 623.5 L329.4 623.2 L329.8 623.3 L330.2 622.9 L330.6 623.2 L331.0 623.4 L331.4 623.2 L331.8 623.1 L332.2 622.7 L332.6 623.1 L333.0 622.8 L333.4 623.2 L333.8 622.9 L334.2 623.1 L334.6 622.8 L335.0 623.4 L335.4 622.7 L335.8 623.0 L336.2 623.5 L336.6 623.0 L337.0 622.7 L337.4 623.0 L337.8 623.9 L338.2 623.1 L338.6 622.5 L339.0 622.9 L339.4 622.4 L339.8 623.2 L340.2 622.8 L340.6 622.7 L341.0 622.9 L341.4 622.9 L341.8 622.5 L342.2 623.1 L342.6 623.1 L343.0 622.4 L343.4 623.0 L343.8 623.7 L344.2 623.0 L344.6 622.8 L345.0 622.5 L345.4 622.9 L345.8 623.1 L346.2 622.8 L346.6 623.0 L347.0 622.6 L347.4 622.9 L347.8 622.8 L348.2 622.3 L348.6 622.3 L349.0 622.5 L349.4 622.6 L349.8 622.7 L350.2 622.6 L350.6 622.6 L351.0 622.6 L351.4 622.6 L351.8 622.7 L352.2 622.7 L352.6 622.6 L353.0 622.6 L353.4 622.5 L353.8 622.7 L354.2 622.5 L354.6 622.9 L355.0 622.5 L355.4 622.6 L355.8 622.4 L356.2 622.5 L356.6 622.6 L357.0 622.5 L357.4 622.4 L357.8 622.3 L358.2 622.5 L358.6 622.2 L359.0 622.6 L359.4 622.8 L359.8 622.4 L360.2 622.1 L360.6 622.5 L361.0 622.1 L361.4 622.2 L361.8 622.7 L362.2 622.6 L362.6 622.3 L363.0 622.3 L363.4 622.4 L363.8 622.1 L364.2 622.6 L364.6 622.4 L365.0 622.8 L365.4 622.2 L365.8 622.6 L366.2 622.3 L366.6 622.6 L367.0 622.2 L367.4 622.6 L367.8 622.3 L368.2 622.3 L368.6 622.4 L369.0 622.5 L369.4 622.5 L369.8 622.7 L370.2 622.6 L370.6 622.0 L371.0 622.3 L371.4 622.0 L371.8 622.3 L372.2 622.5 L372.6 622.1 L373.0 622.1 L373.4 622.4 L373.8 622.3 L374.2 622.7 L374.6 622.4 L375.0 622.5 L375.4 622.7 L375.8 622.3 L376.2 622.4 L376.6 622.2 L377.0 622.4 L377.4 622.5 L377.8 622.6 L378.2 622.3 L378.6 622.2 L379.0 622.2 L379.4 622.1 L379.8 622.3 L380.2 622.6 L380.6 621.9 L381.0 621.9 L381.4 622.6 L381.8 622.0 L382.2 622.4 L382.6 622.1 L383.0 622.5 L383.4 622.5 L383.8 622.3 L384.2 622.5 L384.6 622.3 L385.0 622.4 L385.4 622.6 L385.8 622.5 L386.2 622.2 L386.6 622.1 L387.0 622.2 L387.4 622.2 L387.8 622.3 L388.2 622.2 L388.6 622.4 L389.0 622.3 L389.4 622.3 L389.8 622.3 L390.2 622.4 L390.6 622.0 L391.0 622.6 L391.4 622.3 L391.8 622.6 L392.2 622.4 L392.6 622.5 L393.0 622.4 L393.4 622.3 L393.8 622.2 L394.2 621.9 L394.6 622.4 L395.0 622.2 L395.4 622.2 L395.8 622.7 L396.2 621.9 L396.6 622.1 L397.0 622.3 L397.4 622.4 L397.8 622.5 L398.2 622.0 L398.6 622.0 L399.0 622.3 L399.4 622.2 L399.8 622.5 L400.2 622.3 L400.6 622.2 L401.0 622.3 L401.4 622.2 L401.8 622.2 L402.2 622.1 L402.6 622.2 L403.0 622.1 L403.4 622.1 L403.8 621.9 L404.2 621.9 L404.6 621.8 L405.0 622.2 L405.4 622.0 L405.8 622.2 L406.2 622.0 L406.6 622.6 L407.0 621.9 L407.4 621.9 L407.8 622.1 L408.2 622.3 L408.6 622.1 L409.0 622.1 L409.4 622.3 L409.8 622.3 L410.2 622.1 L410.6 622.0 L411.0 622.5 L411.4 622.4 L411.8 622.2 L412.2 622.1 L412.6 622.2 L413.0 622.2 L413.4 622.4 L413.8 622.0 L414.2 622.2 L414.6 622.0 L415.0 622.4 L415.4 622.5 L415.8 622.1 L416.2 622.3 L416.6 622.4 L417.0 622.1 L417.4 622.0 L417.8 622.1 L418.2 622.2 L418.6 622.1 L419.0 622.1 L419.4 622.2 L419.8 621.9 L420.2 622.2 L420.6 622.1 L421.0 622.5 L421.4 622.1 L421.8 622.1 L422.2 622.2 L422.6 622.2 L423.0 621.9 L423.4 622.2 L423.8 622.1 L424.2 622.4 L424.6 622.5 L425.0 622.0 L425.4 622.0 L425.8 622.0 L426.2 622.0 L426.6 622.0 L427.0 622.2 L427.4 622.3 L427.8 621.9 L428.2 621.9 L428.6 621.8 L429.0 622.3 L429.4 622.4 L429.8 621.9 L430.2 621.9 L430.6 622.2 L431.0 622.3 L431.4 622.3 L431.8 622.2 L432.2 622.2 L432.6 622.2 L433.0 622.0 L433.4 622.4 L433.8 622.1 L434.2 621.9 L434.6 622.1 L435.0 621.9 L435.4 622.1 L435.8 622.3 L436.2 621.9 L436.6 622.3 L437.0 622.5 L437.4 622.2 L437.8 621.9 L438.2 622.0 L438.6 622.1 L439.0 621.9 L439.4 621.9 L439.8 622.1 L440.2 622.1 L440.6 622.2 L441.0 621.9 L441.4 622.4 L441.8 622.7 L442.2 622.3 L442.6 622.0 L443.0 622.4 L443.4 622.1 L443.8 622.4 L444.2 622.3 L444.6 622.0 L445.0 622.0 L445.4 622.4 L445.8 622.3 L446.2 622.1 L446.6 622.1 L447.0 622.1 L447.4 622.0 L447.8 622.1 L448.2 622.0 L448.6 622.0 L449.0 622.2 L449.4 621.9 L449.8 622.2 L450.2 622.1 L450.6 622.2 L451.0 622.2 L451.4 622.3 L451.8 622.2 L452.2 622.2 L452.6 622.1 L453.0 622.2 L453.4 621.9 L453.8 622.0 L454.2 622.2 L454.6 622.1 L455.0 622.1 L455.4 621.9 L455.8 622.3 L456.2 622.0 L456.6 622.1 L457.0 622.1 L457.4 622.2 L457.8 622.0 L458.2 622.2 L458.6 621.8 L459.0 622.0 L459.4 621.9 L459.8 622.1 L460.2 622.3 L460.6 621.7 L461.0 621.8 L461.4 622.1 L461.8 622.3 L462.2 622.1 L462.6 622.1 L463.0 622.1 L463.4 622.1 L463.8 622.3 L464.2 622.1 L464.6 621.9 L465.0 622.0 L465.4 622.1 L465.8 621.9 L466.2 622.0 L466.6 622.0 L467.0 621.9 L467.4 622.1 L467.8 622.0 L468.2 621.9 L468.6 621.9 L469.0 622.0 L469.4 622.3 L469.8 622.0 L470.2 622.2 L470.6 622.0 L471.0 621.7 L471.4 622.1 L471.8 621.9 L472.2 621.8 L472.6 621.8 L473.0 622.2 L473.4 621.8 L473.8 621.9 L474.2 622.1 L474.6 622.1 L475.0 621.7 L475.4 621.9 L475.8 621.9 L476.2 621.9 L476.6 622.0 L477.0 621.9 L477.4 621.9 L477.8 622.1 L478.2 621.7 L478.6 621.9 L479.0 622.0 L479.4 621.7 L479.8 621.8 L480.2 621.7 L480.6 621.9 L481.0 621.8 L481.4 622.0 L481.8 622.0 L482.2 621.8 L482.6 621.8 L483.0 621.9 L483.4 621.8 L483.8 621.6 L484.2 621.9 L484.6 621.8 L485.0 621.9 L485.4 621.6 L485.8 621.9 L486.2 622.0 L486.6 621.8 L487.0 621.5 L487.4 621.7 L487.8 621.7 L488.2 621.7 L488.6 621.6 L489.0 621.7 L489.4 621.6 L489.8 621.8 L490.2 621.5 L490.6 621.6 L491.0 621.7 L491.4 621.5 L491.8 621.7 L492.2 621.5 L492.6 621.5 L493.0 621.5 L493.4 621.7 L493.8 621.4 L494.2 621.7 L494.6 621.3 L495.0 621.5 L495.4 621.6 L495.8 621.5 L496.2 621.3 L496.6 621.3 L497.0 621.5 L497.4 621.2 L497.8 621.5 L498.2 621.4 L498.6 621.4 L499.0 621.6 L499.4 621.5 L499.8 621.4 L500.2 621.1 L500.6 621.3 L501.0 621.3 L501.4 621.2 L501.8 621.4 L502.2 621.0 L502.6 621.2 L503.0 621.2 L503.4 621.1 L503.8 621.3 L504.2 621.0 L504.6 621.1 L505.0 621.1 L505.4 620.8 L505.8 620.8 L506.2 620.9 L506.6 621.1 L507.0 621.1 L507.4 621.0 L507.8 620.9 L508.2 620.6 L508.6 620.9 L509.0 620.5 L509.4 620.9 L509.8 620.9 L510.2 621.0 L510.6 620.8 L511.0 620.8 L511.4 620.5 L511.8 620.6 L512.2 620.4 L512.6 620.7 L513.0 620.4 L513.4 620.5 L513.8 620.4 L514.2 620.4 L514.6 620.4 L515.0 620.3 L515.4 620.3 L515.8 620.2 L516.2 620.4 L516.6 620.1 L517.0 620.3 L517.4 620.4 L517.8 619.8 L518.2 620.0 L518.6 620.0 L519.0 620.1 L519.4 619.9 L519.8 620.0 L520.2 619.8 L520.6 619.9 L521.0 619.7 L521.4 619.9 L521.8 619.4 L522.2 619.5 L522.6 620.1 L523.0 619.7 L523.4 619.5 L523.8 619.8 L524.2 619.6 L524.6 619.6 L525.0 619.4 L525.4 619.5 L525.8 619.4 L526.2 619.2 L526.6 619.4 L527.0 619.2 L527.4 619.4 L527.8 619.3 L528.2 619.1 L528.6 619.1 L529.0 619.1 L529.4 619.1 L529.8 619.0 L530.2 619.0 L530.6 619.0 L531.0 618.9 L531.4 619.0 L531.8 618.9 L532.2 618.7 L532.6 618.6 L533.0 618.8 L533.4 618.6 L533.8 618.6 L534.2 618.6 L534.6 618.4 L535.0 618.5 L535.4 618.5 L535.8 618.4 L536.2 618.5 L536.6 618.6 L537.0 618.4 L537.4 618.3 L537.8 618.3 L538.2 618.3 L538.6 618.1 L539.0 618.1 L539.4 618.1 L539.8 618.3 L540.2 618.1 L540.6 617.8 L541.0 618.1 L541.4 618.2 L541.8 618.0 L542.2 618.2 L542.6 617.8 L543.0 617.9 L543.4 617.7 L543.8 617.7 L544.2 617.5 L544.6 617.5 L545.0 617.3 L545.4 617.6 L545.8 617.3 L546.2 617.4 L546.6 617.4 L547.0 617.3 L547.4 617.3 L547.8 617.2 L548.2 617.1 L548.6 617.1 L549.0 617.1 L549.4 616.9 L549.8 616.8 L550.2 616.8 L550.6 616.9 L551.0 616.9 L551.4 616.9 L551.8 616.7 L552.2 616.7 L552.6 616.6 L553.0 616.6 L553.4 616.4 L553.8 616.4 L554.2 616.3 L554.6 616.2 L555.0 616.3 L555.4 616.0 L555.8 616.0 L556.2 615.9 L556.6 616.0 L557.0 616.0 L557.4 615.7 L557.8 615.4 L558.2 615.7 L558.6 615.6 L559.0 615.3 L559.4 615.4 L559.8 615.3 L560.2 615.0 L560.6 615.2 L561.0 615.1 L561.4 615.0 L561.8 614.8 L562.2 614.8 L562.6 614.7 L563.0 614.7 L563.4 614.5 L563.8 614.7 L564.2 614.5 L564.6 614.2 L565.0 614.4 L565.4 614.2 L565.8 614.1 L566.2 614.1 L566.6 613.9 L567.0 613.9 L567.4 613.6 L567.8 613.6 L568.2 613.7 L568.6 613.7 L569.0 613.4 L569.4 613.3 L569.8 613.4 L570.2 613.2 L570.6 613.1 L571.0 613.1 L571.4 612.8 L571.8 612.9 L572.2 612.6 L572.6 612.8 L573.0 612.4 L573.4 612.4 L573.8 612.3 L574.2 612.3 L574.6 612.2 L575.0 612.1 L575.4 612.0 L575.8 611.9 L576.2 611.7 L576.6 611.5 L577.0 611.3 L577.4 611.2 L577.8 611.3 L578.2 611.1 L578.6 611.1 L579.0 611.0 L579.4 610.9 L579.8 610.7 L580.2 610.5 L580.6 610.4 L581.0 610.5 L581.4 610.4 L581.8 610.1 L582.2 610.0 L582.6 610.0 L583.0 610.0 L583.4 609.7 L583.8 609.6 L584.2 609.5 L584.6 609.2 L585.0 609.2 L585.4 609.1 L585.8 608.9 L586.2 609.0 L586.6 608.7 L587.0 608.6 L587.4 608.3 L587.8 608.3 L588.2 608.2 L588.6 607.8 L589.0 607.8 L589.4 607.6 L589.8 607.6 L590.2 607.5 L590.6 607.3 L591.0 607.1 L591.4 607.0 L591.8 606.8 L592.2 606.6 L592.6 606.6 L593.0 606.3 L593.4 606.1 L593.8 606.0 L594.2 605.4 L594.6 605.7 L595.0 605.5 L595.4 605.2 L595.8 605.1 L596.2 605.0 L596.6 604.7 L597.0 604.4 L597.4 604.3 L597.8 604.0 L598.2 603.9 L598.6 603.6 L599.0 603.5 L599.4 603.2 L599.8 603.0 L600.2 602.9 L600.6 602.5 L601.0 602.2 L601.4 602.1 L601.8 601.8 L602.2 601.6 L602.6 601.3 L603.0 601.1 L603.4 600.8 L603.8 600.4 L604.2 600.3 L604.6 600.0 L605.0 599.8 L605.4 599.5 L605.8 599.2 L606.2 599.1 L606.6 598.7 L607.0 598.5 L607.4 598.2 L607.8 598.0 L608.2 597.7 L608.6 597.3 L609.0 597.2 L609.4 596.8 L609.8 596.6 L610.2 596.4 L610.6 596.1 L611.0 595.7 L611.4 595.4 L611.8 595.1 L612.2 594.8 L612.6 594.4 L613.0 594.3 L613.4 594.0 L613.8 593.6 L614.2 593.2 L614.6 592.9 L615.0 592.6 L615.4 592.1 L615.8 591.8 L616.2 591.3 L616.6 591.0 L617.0 590.5 L617.4 590.0 L617.8 589.6 L618.2 589.2 L618.6 588.6 L619.0 588.2 L619.4 587.6 L619.8 587.2 L620.2 586.6 L620.6 586.0 L621.0 585.4 L621.4 584.8 L621.8 584.3 L622.2 583.7 L622.6 583.0 L623.0 582.5 L623.4 581.8 L623.8 581.1 L624.2 580.5 L624.6 579.8 L625.0 579.2 L625.4 578.5 L625.8 577.9 L626.2 577.2 L626.6 576.5 L627.0 575.9 L627.4 575.1 L627.8 574.5 L628.2 573.8 L628.6 573.1 L629.0 572.3 L629.4 571.7 L629.8 570.9 L630.2 570.1 L630.6 569.4 L631.0 568.5 L631.4 567.9 L631.8 567.2 L632.2 566.4 L632.6 565.8 L633.0 565.0 L633.4 564.2 L633.8 563.5 L634.2 562.8 L634.6 562.0 L635.0 561.3 L635.4 560.6 L635.8 559.9 L636.2 559.2 L636.6 558.4 L637.0 557.6 L637.4 557.0 L637.8 556.3 L638.2 555.5 L638.6 554.9 L639.0 554.1 L639.4 553.3 L639.8 552.6 L640.2 551.8 L640.6 551.2 L641.0 550.5 L641.4 549.7 L641.8 548.9 L642.2 548.2 L642.6 547.5 L643.0 546.7 L643.4 546.0 L643.8 545.3 L644.2 544.6 L644.6 543.9 L645.0 543.2 L645.4 542.5 L645.8 541.7 L646.2 541.0 L646.6 540.3 L647.0 539.6 L647.4 538.9 L647.8 538.1 L648.2 537.4 L648.6 536.7 L649.0 536.0 L649.4 535.4 L649.8 534.6 L650.2 534.0 L650.6 533.2 L651.0 532.7 L651.4 532.0 L651.8 531.3 L652.2 530.6 L652.6 529.9 L653.0 529.3 L653.4 528.7 L653.8 528.2 L654.2 527.4 L654.6 526.9 L655.0 526.1 L655.4 525.6 L655.8 525.0 L656.2 524.3 L656.6 523.7 L657.0 523.0 L657.4 522.4 L657.8 521.8 L658.2 521.2 L658.6 520.4 L659.0 519.8 L659.4 519.1 L659.8 518.4 L660.2 517.8 L660.6 517.2 L661.0 516.6 L661.4 515.8 L661.8 515.0 L662.2 514.4 L662.6 513.6 L663.0 513.0 L663.4 512.3 L663.8 511.6 L664.2 510.8 L664.6 510.1 L665.0 509.3 L665.4 508.5 L665.8 507.9 L666.2 507.2 L666.6 506.6 L667.0 505.8 L667.4 505.1 L667.8 504.4 L668.2 503.8 L668.6 503.0 L669.0 502.3 L669.4 501.8 L669.8 501.1 L670.2 500.4 L670.6 499.7 L671.0 499.1 L671.4 498.4 L671.8 497.7 L672.2 497.2 L672.6 496.6 L673.0 496.0 L673.4 495.5 L673.8 494.8 L674.2 494.3 L674.6 493.6 L675.0 493.1 L675.4 492.5 L675.8 492.0 L676.2 491.5 L676.6 490.9 L677.0 490.5 L677.4 489.8 L677.8 489.4 L678.2 488.9 L678.6 488.4 L679.0 488.0 L679.4 487.5 L679.8 487.0 L680.2 486.6 L680.6 486.2 L681.0 485.8 L681.4 485.4 L681.8 484.9 L682.2 484.7 L682.6 484.2 L683.0 483.9 L683.4 483.5 L683.8 483.2 L684.2 482.9 L684.6 482.6 L685.0 482.2 L685.4 482.0 L685.8 481.6 L686.2 481.3 L686.6 481.1 L687.0 480.7 L687.4 480.5 L687.8 480.2 L688.2 479.8 L688.6 479.7 L689.0 479.4 L689.4 479.2 L689.8 478.8 L690.2 478.6 L690.6 478.4 L691.0 478.0 L691.4 477.9 L691.8 477.6 L692.2 477.5 L692.6 477.2 L693.0 476.9 L693.4 476.6 L693.8 476.4 L694.2 476.2 L694.6 476.0 L695.0 475.6 L695.4 475.3 L695.8 475.1 L696.2 474.8 L696.6 474.7 L697.0 474.3 L697.4 474.0 L697.8 473.8 L698.2 473.4 L698.6 473.2 L699.0 472.9 L699.4 472.6 L699.8 472.4 L700.2 472.2 L700.6 471.8 L701.0 471.5 L701.4 471.2 L701.8 471.0 L702.2 470.7 L702.6 470.4 L703.0 470.1 L703.4 469.9 L703.8 469.6 L704.2 469.3 L704.6 469.0 L705.0 468.8 L705.4 468.4 L705.8 468.3 L706.2 467.9 L706.6 467.6 L707.0 467.4 L707.4 467.0 L707.8 466.8 L708.2 466.5 L708.6 466.1 L709.0 465.8 L709.4 465.5 L709.8 465.3 L710.2 464.8 L710.6 464.5 L711.0 464.2 L711.4 463.9 L711.8 463.6 L712.2 463.1 L712.6 462.8 L713.0 462.4 L713.4 462.0 L713.8 461.6 L714.2 461.2 L714.6 460.9 L715.0 460.4 L715.4 459.9 L715.8 459.6 L716.2 459.1 L716.6 458.7 L717.0 458.1 L717.4 457.7 L717.8 457.2 L718.2 456.7 L718.6 456.3 L719.0 455.6 L719.4 455.1 L719.8 454.6 L720.2 454.1 L720.6 453.5 L721.0 452.8 L721.4 452.3 L721.8 451.7 L722.2 451.1 L722.6 450.5 L723.0 449.9 L723.4 449.3 L723.8 448.5 L724.2 448.1 L724.6 447.4 L725.0 446.6 L725.4 445.8 L725.8 445.1 L726.2 444.5 L726.6 443.8 L727.0 443.1 L727.4 442.4 L727.8 441.5 L728.2 440.8 L728.6 440.0 L729.0 439.2 L729.4 438.4 L729.8 437.6 L730.2 436.7 L730.6 435.8 L731.0 435.0 L731.4 434.2 L731.8 433.2 L732.2 432.2 L732.6 431.4 L733.0 430.3 L733.4 429.6 L733.8 428.5 L734.2 427.6 L734.6 426.7 L735.0 425.6 L735.4 424.6 L735.8 423.7 L736.2 422.6 L736.6 421.6 L737.0 420.5 L737.4 419.6 L737.8 418.5 L738.2 417.4 L738.6 416.3 L739.0 415.3 L739.4 414.2 L739.8 413.2 L740.2 412.1 L740.6 411.1 L741.0 409.9 L741.4 408.8 L741.8 407.8 L742.2 406.7 L742.6 405.6 L743.0 404.4 L743.4 403.3 L743.8 402.2 L744.2 401.2 L744.6 400.0 L745.0 398.9 L745.4 397.8 L745.8 396.7 L746.2 395.7 L746.6 394.4 L747.0 393.4 L747.4 392.2 L747.8 391.1 L748.2 390.2 L748.6 388.9 L749.0 387.8 L749.4 386.7 L749.8 385.5 L750.2 384.3 L750.6 383.3 L751.0 382.1 L751.4 381.0 L751.8 379.7 L752.2 378.6 L752.6 377.4 L753.0 376.0 L753.4 374.9 L753.8 373.6 L754.2 372.4 L754.6 371.2 L755.0 369.9 L755.4 368.6 L755.8 367.3 L756.2 366.1 L756.6 364.9 L757.0 363.6 L757.4 362.3 L757.8 361.1 L758.2 360.0 L758.6 358.6 L759.0 357.5 L759.4 356.4 L759.8 355.3 L760.2 354.2 L760.6 353.0 L761.0 352.0 L761.4 350.8 L761.8 349.8 L762.2 348.7 L762.6 347.7 L763.0 346.7 L763.4 345.7 L763.8 344.6 L764.2 343.7 L764.6 342.7 L765.0 341.8 L765.4 340.7 L765.8 339.9 L766.2 338.8 L766.6 337.8 L767.0 336.9 L767.4 335.9 L767.8 335.0 L768.2 333.6 L768.6 333.0 L769.0 332.1 L769.4 331.0 L769.8 330.0 L770.2 329.2 L770.6 328.2 L771.0 327.2 L771.4 326.3 L771.8 325.3 L772.2 324.4 L772.6 323.5 L773.0 322.5 L773.4 321.4 L773.8 320.5 L774.2 319.6 L774.6 318.5 L775.0 317.7 L775.4 316.7 L775.8 315.7 L776.2 314.7 L776.6 314.0 L777.0 312.9 L777.4 312.0 L777.8 311.1 L778.2 310.2 L778.6 309.2 L779.0 308.3 L779.4 307.3 L779.8 306.5 L780.2 305.4 L780.6 304.7 L781.0 303.8 L781.4 302.7 L781.8 302.1 L782.2 301.0 L782.6 300.2 L783.0 299.3 L783.4 298.4 L783.8 297.5 L784.2 296.9 L784.6 295.9 L785.0 295.1 L785.4 294.2 L785.8 293.3 L786.2 292.4 L786.6 291.5 L787.0 290.7 L787.4 289.9 L787.8 289.0 L788.2 288.0 L788.6 287.3 L789.0 286.6 L789.4 285.6 L789.8 284.9 L790.2 284.0 L790.6 283.1 L791.0 282.3 L791.4 281.5 L791.8 280.8 L792.2 280.0 L792.6 279.4 L793.0 278.4 L793.4 277.5 L793.8 277.1 L794.2 276.4 L794.6 275.5 L795.0 275.2 L795.4 274.3 L795.8 273.5 L796.2 272.9 L796.6 271.5 L797.0 271.5 L797.4 270.6 L797.8 270.0 L798.2 269.4 L798.6 269.1 L799.0 268.4 L799.4 267.5 L799.8 267.2 L800.2 266.4 L800.6 266.1 L801.0 265.3 L801.4 265.0 L801.8 264.3 L802.2 263.7 L802.6 263.3 L803.0 262.9 L803.4 262.3 L803.8 261.7 L804.2 262.0 L804.6 261.1 L805.0 260.5 L805.4 260.0 L805.8 259.4 L806.2 259.7 L806.6 259.8 L807.0 258.8 L807.4 258.9 L807.8 258.3 L808.2 258.7 L808.6 258.3 L809.0 258.1 L809.4 258.2 L809.8 258.1 L810.2 257.8 L810.6 257.3 L811.0 257.0 L811.4 256.9 L811.8 256.7 L812.2 257.5 L812.6 256.9 L813.0 257.0 L813.4 256.9 L813.8 257.4 L814.2 256.7 L814.6 257.1 L815.0 256.9 L815.4 256.8 L815.8 256.4 L816.2 257.2 L816.6 256.9 L817.0 257.0 L817.4 257.3 L817.8 257.4 L818.2 257.8 L818.6 257.5 L819.0 257.8 L819.4 258.0 L819.8 258.1 L820.2 258.5 L820.6 258.5 L821.0 259.1 L821.4 258.9 L821.8 259.0 L822.2 259.6 L822.6 260.1 L823.0 260.1 L823.4 260.4 L823.8 260.4 L824.2 261.2 L824.6 261.5 L825.0 262.0 L825.4 262.0 L825.8 263.1 L826.2 263.3 L826.6 263.5 L827.0 264.4 L827.4 264.7 L827.8 265.4 L828.2 265.4 L828.6 266.5 L829.0 266.8 L829.4 267.0 L829.8 268.0 L830.2 268.5 L830.6 269.0 L831.0 269.8 L831.4 270.2 L831.8 271.2 L832.2 272.1 L832.6 272.5 L833.0 273.5 L833.4 274.0 L833.8 274.7 L834.2 275.5 L834.6 276.4 L835.0 277.3 L835.4 278.0 L835.8 278.8 L836.2 279.9 L836.6 280.8 L837.0 281.6 L837.4 282.7 L837.8 283.3 L838.2 284.5 L838.6 285.3 L839.0 286.4 L839.4 287.5 L839.8 288.6 L840.2 289.5 L840.6 290.7 L841.0 291.8 L841.4 292.9 L841.8 294.3 L842.2 295.2 L842.6 296.4 L843.0 297.7 L843.4 298.8 L843.8 300.3 L844.2 301.6 L844.6 302.8 L845.0 304.2 L845.4 305.6 L845.8 307.0 L846.2 308.3 L846.6 309.7 L847.0 311.1 L847.4 312.7 L847.8 314.1 L848.2 315.7 L848.6 317.2 L849.0 318.7 L849.4 320.3 L849.8 322.0 L850.2 323.5 L850.6 325.2 L851.0 326.9 L851.4 328.5 L851.8 330.2 L852.2 332.3 L852.6 334.0 L853.0 335.9 L853.4 338.1 L853.8 340.2 L854.2 342.4 L854.6 344.8 L855.0 347.2 L855.4 349.7 L855.8 352.3 L856.2 354.7 L856.6 357.3 L857.0 359.9 L857.4 362.4 L857.8 365.0 L858.2 367.3 L858.6 369.6 L859.0 371.9 L859.4 374.1 L859.8 376.3 L860.2 378.4 L860.6 380.5 L861.0 382.4 L861.4 384.3 L861.8 386.2 L862.2 388.1 L862.6 389.8 L863.0 391.7 L863.4 393.6 L863.8 395.3 L864.2 397.0 L864.6 398.8 L865.0 400.5 L865.4 402.1 L865.8 403.8 L866.2 405.4 L866.6 407.0 L867.0 408.6 L867.4 410.2 L867.8 411.6 L868.2 413.0 L868.6 414.5 L869.0 416.0 L869.4 417.4 L869.8 418.8 L870.2 420.2 L870.6 421.5 L871.0 422.8 L871.4 424.1 L871.8 425.3 L872.2 426.6 L872.6 427.9 L873.0 429.0 L873.4 430.2 L873.8 431.4 L874.2 432.5 L874.6 433.6 L875.0 434.7 L875.4 435.7 L875.8 436.7 L876.2 437.8 L876.6 438.8 L877.0 439.9 L877.4 440.8 L877.8 441.8 L878.2 442.8 L878.6 443.7 L879.0 444.7 L879.4 445.6 L879.8 446.4 L880.2 447.4 L880.6 448.3 L881.0 449.3 L881.4 450.1 L881.8 451.0 L882.2 451.9 L882.6 452.6 L883.0 453.5 L883.4 454.3 L883.8 455.1 L884.2 456.0 L884.6 456.7 L885.0 457.5 L885.4 458.2 L885.8 459.0 L886.2 459.7 L886.6 460.5 L887.0 461.1 L887.4 461.9 L887.8 462.7 L888.2 463.3 L888.6 464.0 L889.0 464.7 L889.4 465.4 L889.8 466.0 L890.2 466.8 L890.6 467.3 L891.0 468.0 L891.4 468.6 L891.8 469.1 L892.2 469.7 L892.6 470.2 L893.0 470.8 L893.4 471.4 L893.8 472.0 L894.2 472.4 L894.6 472.9 L895.0 473.4 L895.4 473.9 L895.8 474.4 L896.2 474.8 L896.6 475.3 L897.0 475.6 L897.4 476.1 L897.8 476.5 L898.2 476.9 L898.6 477.3 L899.0 477.7 L899.4 478.2 L899.8 478.6 L900.2 478.9 L900.6 479.3 L901.0 479.7 L901.4 480.1 L901.8 480.4 L902.2 480.8 L902.6 481.1 L903.0 481.5 L903.4 481.8 L903.8 482.2 L904.2 482.5 L904.6 483.0 L905.0 483.2 L905.4 483.6 L905.8 483.8 L906.2 484.1 L906.6 484.5 L907.0 484.8 L907.4 485.1 L907.8 485.5 L908.2 485.6 L908.6 485.9 L909.0 486.2 L909.4 486.5 L909.8 486.8 L910.2 487.0 L910.6 487.2 L911.0 487.5 L911.4 487.7 L911.8 488.0 L912.2 488.3 L912.6 488.4 L913.0 488.7 L913.4 488.9 L913.8 489.1 L914.2 489.3 L914.6 489.5 L915.0 489.7 L915.4 489.9 L915.8 490.2 L916.2 490.4 L916.6 490.5 L917.0 490.8 L917.4 490.9 L917.8 491.0 L918.2 491.4 L918.6 491.6 L919.0 491.6 L919.4 491.8 L919.8 492.1 L920.2 492.2 L920.6 492.3 L921.0 492.5 L921.4 492.7 L921.8 492.8 L922.2 493.0 L922.6 493.2 L923.0 493.3 L923.4 493.5 L923.8 493.5 L924.2 493.8 L924.6 493.8 L925.0 494.0 L925.4 494.2 L925.8 494.3 L926.2 494.4 L926.6 494.5 L927.0 494.5 L927.4 494.7 L927.8 494.8 L928.2 494.9 L928.6 495.0 L929.0 495.2 L929.4 495.2 L929.8 495.3 L930.2 495.4 L930.6 495.6 L931.0 495.7"/>
<path stroke="#8080ff" stroke-miterlimit="3" d="M221.5 622.5 L221.9 622.4 L222.3 622.1 L222.7 621.3 L223.1 621.6 L223.5 620.8 L223.9 621.1 L224.3 620.9 L224.7 619.9 L225.1 620.5 L225.5 620.2 L225.9 619.9 L226.3 620.2 L226.7 620.4 L227.1 620.0 L227.5 619.6 L227.9 619.9 L228.3 619.5 L228.7 619.5 L229.1 620.1 L229.5 619.8 L229.9 619.8 L230.3 620.0 L230.7 619.8 L231.1 619.8 L231.5 619.5 L231.9 619.0 L232.3 619.7 L232.7 619.4 L233.1 620.2 L233.5 619.8 L233.9 619.6 L234.3 618.9 L234.7 619.5 L235.1 620.0 L235.5 619.7 L235.9 619.4 L236.3 619.5 L236.7 619.6 L237.1 619.5 L237.5 619.4 L237.9 619.8 L238.3 619.4 L238.7 619.8 L239.1 619.5 L239.5 620.0 L239.9 619.1 L240.3 619.8 L240.7 619.7 L241.1 619.7 L241.5 619.5 L241.9 620.1 L242.3 619.6 L242.7 619.8 L243.1 619.6 L243.5 619.6 L243.9 619.7 L244.3 619.8 L244.7 619.4 L245.1 619.6 L245.5 619.3 L245.9 619.8 L246.3 619.5 L246.7 619.5 L247.1 619.8 L247.5 619.7 L247.9 619.8 L248.3 619.6 L248.7 619.8 L249.1 619.7 L249.5 619.4 L249.9 619.7 L250.3 619.6 L250.7 619.6 L251.1 619.7 L251.5 619.5 L251.9 619.4 L252.3 619.9 L252.7 620.1 L253.1 619.6 L253.5 619.9 L253.9 619.7 L254.3 619.5 L254.7 619.4 L255.1 619.6 L255.5 619.5 L255.9 619.6 L256.3 619.6 L256.7 619.4 L257.1 619.9 L257.5 619.3 L257.9 619.4 L258.3 619.9 L258.7 619.8 L259.1 620.0 L259.5 619.2 L259.9 619.5 L260.3 619.9 L260.7 619.6 L261.1 619.6 L261.5 619.4 L261.9 619.7 L262.3 619.0 L262.7 619.8 L263.1 619.1 L263.5 619.8 L263.9 619.2 L264.3 619.2 L264.7 620.2 L265.1 619.5 L265.5 619.3 L265.9 620.1 L266.3 619.5 L266.7 619.3 L267.1 619.9 L267.5 618.9 L267.9 619.2 L268.3 619.3 L268.7 619.4 L269.1 619.1 L269.5 619.8 L269.9 620.0 L270.3 619.6 L270.7 619.5 L271.1 619.2 L271.5 619.7 L271.9 619.4 L272.3 619.8 L272.7 619.9 L273.1 619.6 L273.5 619.1 L273.9 619.4 L274.3 619.9 L274.7 619.7 L275.1 620.0 L275.5 619.0 L275.9 619.6 L276.3 619.6 L276.7 619.2 L277.1 619.4 L277.5 619.8 L277.9 619.7 L278.3 619.5 L278.7 619.7 L279.1 619.9 L279.5 619.3 L279.9 619.7 L280.3 619.9 L280.7 619.4 L281.1 619.9 L281.5 619.6 L281.9 619.9 L282.3 619.8 L282.7 619.7 L283.1 619.5 L283.5 619.0 L283.9 619.6 L284.3 619.7 L284.7 620.0 L285.1 619.6 L285.5 619.7 L285.9 620.0 L286.3 619.7 L286.7 619.7 L287.1 620.0 L287.5 619.6 L287.9 619.7 L288.3 619.8 L288.7 619.6 L289.1 619.3 L289.5 619.6 L289.9 619.5 L290.3 619.9 L290.7 619.8 L291.1 620.0 L291.5 620.8 L291.9 619.4 L292.3 619.2 L292.7 619.5 L293.1 619.5 L293.5 619.4 L293.9 619.8 L294.3 619.4 L294.7 619.7 L295.1 619.8 L295.5 619.2 L295.9 619.5 L296.3 619.9 L296.7 619.8 L297.1 619.6 L297.5 619.3 L297.9 619.4 L298.3 619.6 L298.7 619.9 L299.1 619.7 L299.5 619.6 L299.9 619.7 L300.3 619.8 L300.7 619.2 L301.1 618.9 L301.5 619.6 L301.9 619.9 L302.3 619.9 L302.7 619.4 L303.1 619.6 L303.5 619.4 L303.9 619.5 L304.3 619.6 L304.7 619.5 L305.1 619.5 L305.5 619.3 L305.9 619.2 L306.3 619.5 L306.7 619.6 L307.1 619.8 L307.5 619.4 L307.9 619.4 L308.3 619.9 L308.7 619.7 L309.1 619.8 L309.5 619.5 L309.9 619.4 L310.3 619.3 L310.7 619.8 L311.1 619.3 L311.5 619.2 L311.9 619.4 L312.3 619.9 L312.7 619.6 L313.1 619.7 L313.5 619.6 L313.9 619.6 L314.3 619.6 L314.7 619.2 L315.1 620.0 L315.5 619.6 L315.9 619.9 L316.3 619.2 L316.7 619.7 L317.1 619.3 L317.5 618.8 L317.9 619.7 L318.3 619.9 L318.7 619.9 L319.1 619.9 L319.5 619.5 L319.9 619.8 L320.3 619.4 L320.7 619.5 L321.1 619.7 L321.5 619.6 L321.9 619.8 L322.3 619.1 L322.7 619.9 L323.1 619.4 L323.5 620.0 L323.9 619.9 L324.3 619.4 L324.7 619.6 L325.1 619.8 L325.5 619.4 L325.9 619.4 L326.3 619.5 L326.7 619.8 L327.1 619.8 L327.5 619.5 L327.9 619.8 L328.3 620.0 L328.7 619.8 L329.1 619.4 L329.5 619.4 L329.9 619.7 L330.3 619.8 L330.7 619.7 L331.1 620.1 L331.5 619.4 L331.9 619.9 L332.3 619.6 L332.7 620.1 L333.1 619.3 L333.5 619.5 L333.9 619.4 L334.3 620.1 L334.7 619.9 L335.1 619.5 L335.5 619.1 L335.9 619.9 L336.3 619.6 L336.7 618.9 L337.1 619.2 L337.5 619.7 L337.9 619.5 L338.3 619.6 L338.7 619.7 L339.1 619.5 L339.5 619.5 L339.9 619.8 L340.3 619.6 L340.7 619.5 L341.1 619.8 L341.5 619.1 L341.9 619.9 L342.3 619.7 L342.7 619.4 L343.1 619.6 L343.5 619.9 L343.9 619.7 L344.3 619.2 L344.7 619.3 L345.1 619.6 L345.5 620.0 L345.9 619.8 L346.3 620.5 L346.7 619.7 L347.1 619.6 L347.5 619.5 L347.9 619.7 L348.3 619.1 L348.7 619.9 L349.1 619.7 L349.5 619.5 L349.9 619.4 L350.3 619.3 L350.7 619.7 L351.1 619.6 L351.5 619.8 L351.9 620.0 L352.3 619.0 L352.7 619.4 L353.1 619.4 L353.5 619.1 L353.9 619.5 L354.3 619.4 L354.7 619.7 L355.1 619.7 L355.5 620.0 L355.9 619.7 L356.3 619.5 L356.7 619.5 L357.1 619.6 L357.5 619.7 L357.9 619.8 L358.3 619.5 L358.7 619.6 L359.1 619.9 L359.5 619.6 L359.9 619.7 L360.3 619.3 L360.7 619.4 L361.1 619.1 L361.5 619.3 L361.9 619.7 L362.3 619.9 L362.7 619.5 L363.1 619.3 L363.5 619.6 L363.9 619.9 L364.3 619.6 L364.7 619.8 L365.1 619.6 L365.5 619.3 L365.9 619.4 L366.3 619.5 L366.7 620.2 L367.1 619.7 L367.5 619.5 L367.9 619.7 L368.3 619.7 L368.7 619.5 L369.1 619.6 L369.5 619.5 L369.9 618.8 L370.3 620.0 L370.7 619.9 L371.1 619.5 L371.5 619.7 L371.9 619.4 L372.3 619.3 L372.7 619.6 L373.1 619.0 L373.5 619.6 L373.9 619.8 L374.3 619.8 L374.7 619.8 L375.1 619.6 L375.5 619.3 L375.9 619.0 L376.3 619.5 L376.7 619.8 L377.1 619.7 L377.5 619.5 L377.9 620.0 L378.3 619.8 L378.7 619.6 L379.1 619.5 L379.5 619.4 L379.9 619.3 L380.3 619.7 L380.7 619.5 L381.1 619.5 L381.5 619.7 L381.9 618.0 L382.3 619.8 L382.7 619.5 L383.1 619.3 L383.5 619.8 L383.9 619.4 L384.3 619.7 L384.7 619.7 L385.1 619.6 L385.5 619.2 L385.9 619.3 L386.3 619.3 L386.7 619.3 L387.1 620.2 L387.5 619.4 L387.9 619.3 L388.3 619.5 L388.7 619.6 L389.1 619.2 L389.5 619.7 L389.9 619.8 L390.3 619.5 L390.7 619.8 L391.1 619.2 L391.5 619.5 L391.9 619.6 L392.3 619.6 L392.7 619.9 L393.1 619.5 L393.5 619.4 L393.9 619.6 L394.3 619.6 L394.7 619.7 L395.1 619.5 L395.5 619.6 L395.9 619.5 L396.3 619.7 L396.7 619.5 L397.1 619.5 L397.5 619.9 L397.9 619.4 L398.3 619.6 L398.7 619.7 L399.1 619.5 L399.5 619.8 L399.9 619.0 L400.3 619.8 L400.7 619.3 L401.1 619.3 L401.5 619.6 L401.9 619.9 L402.3 619.9 L402.7 619.4 L403.1 619.6 L403.5 619.5 L403.9 619.1 L404.3 619.3 L404.7 619.5 L405.1 619.9 L405.5 619.7 L405.9 619.5 L406.3 619.4 L406.7 619.6 L407.1 619.7 L407.5 619.5 L407.9 620.2 L408.3 619.6 L408.7 619.3 L409.1 619.0 L409.5 619.8 L409.9 619.7 L410.3 619.5 L410.7 619.4 L411.1 619.4 L411.5 619.3 L411.9 619.5 L412.3 618.9 L412.7 619.5 L413.1 619.9 L413.5 619.6 L413.9 619.5 L414.3 619.6 L414.7 619.9 L415.1 619.2 L415.5 619.6 L415.9 620.1 L416.3 619.8 L416.7 619.4 L417.1 619.6 L417.5 619.5 L417.9 620.1 L418.3 619.4 L418.7 620.3 L419.1 619.5 L419.5 619.3 L419.9 618.9 L420.3 619.5 L420.7 619.6 L421.1 619.4 L421.5 619.6 L421.9 619.7 L422.3 619.7 L422.7 619.2 L423.1 619.8 L423.5 619.7 L423.9 619.6 L424.3 619.5 L424.7 619.5 L425.1 619.4 L425.5 619.6 L425.9 620.6 L426.3 619.4 L426.7 619.7 L427.1 619.4 L427.5 619.6 L427.9 619.5 L428.3 619.7 L428.7 619.9 L429.1 619.5 L429.5 619.4 L429.9 619.4 L430.3 619.6 L430.7 619.4 L431.1 619.7 L431.5 619.5 L431.9 619.5 L432.3 619.3 L432.7 619.3 L433.1 619.3 L433.5 619.5 L433.9 619.3 L434.3 619.6 L434.7 619.0 L435.1 619.3 L435.5 619.4 L435.9 619.1 L436.3 619.3 L436.7 619.8 L437.1 619.3 L437.5 619.4 L437.9 619.6 L438.3 619.3 L438.7 619.6 L439.1 619.3 L439.5 619.4 L439.9 619.4 L440.3 619.4 L440.7 619.6 L441.1 619.3 L441.5 618.9 L441.9 619.2 L442.3 619.3 L442.7 619.6 L443.1 619.4 L443.5 618.9 L443.9 619.6 L444.3 619.0 L444.7 619.3 L445.1 619.5 L445.5 619.4 L445.9 619.5 L446.3 619.5 L446.7 619.4 L447.1 619.1 L447.5 619.4 L447.9 619.2 L448.3 618.9 L448.7 619.3 L449.1 619.4 L449.5 619.3 L449.9 619.3 L450.3 619.6 L450.7 619.4 L451.1 619.5 L451.5 619.4 L451.9 619.6 L452.3 619.2 L452.7 619.5 L453.1 619.6 L453.5 619.2 L453.9 619.5 L454.3 619.0 L454.7 619.3 L455.1 619.4 L455.5 619.1 L455.9 618.9 L456.3 619.2 L456.7 619.2 L457.1 619.3 L457.5 619.3 L457.9 619.4 L458.3 619.5 L458.7 619.3 L459.1 618.9 L459.5 619.3 L459.9 619.7 L460.3 619.2 L460.7 619.4 L461.1 619.2 L461.5 619.1 L461.9 619.2 L462.3 618.9 L462.7 619.3 L463.1 619.1 L463.5 619.4 L463.9 619.2 L464.3 619.2 L464.7 619.1 L465.1 618.9 L465.5 619.5 L465.9 619.1 L466.3 619.2 L466.7 619.1 L467.1 619.2 L467.5 619.2 L467.9 619.0 L468.3 619.1 L468.7 619.0 L469.1 618.8 L469.5 618.8 L469.9 619.1 L470.3 619.2 L470.7 619.4 L471.1 618.8 L471.5 619.2 L471.9 619.2 L472.3 618.8 L472.7 619.0 L473.1 619.2 L473.5 618.9 L473.9 619.0 L474.3 618.7 L474.7 618.8 L475.1 618.9 L475.5 618.8 L475.9 618.8 L476.3 618.8 L476.7 618.5 L477.1 618.9 L477.5 618.6 L477.9 618.0 L478.3 618.5 L478.7 618.6 L479.1 618.4 L479.5 618.7 L479.9 618.4 L480.3 618.6 L480.7 618.3 L481.1 618.3 L481.5 618.2 L481.9 618.4 L482.3 618.1 L482.7 618.4 L483.1 618.2 L483.5 618.4 L483.9 618.1 L484.3 618.3 L484.7 618.0 L485.1 617.9 L485.5 618.1 L485.9 617.9 L486.3 618.1 L486.7 617.8 L487.1 618.0 L487.5 617.8 L487.9 617.6 L488.3 618.0 L488.7 617.7 L489.1 617.9 L489.5 617.7 L489.9 617.4 L490.3 617.7 L490.7 617.8 L491.1 617.8 L491.5 617.8 L491.9 617.5 L492.3 617.4 L492.7 617.4 L493.1 617.2 L493.5 617.5 L493.9 617.4 L494.3 617.3 L494.7 616.9 L495.1 617.3 L495.5 617.1 L495.9 617.3 L496.3 617.0 L496.7 617.0 L497.1 617.0 L497.5 616.9 L497.9 616.8 L498.3 616.9 L498.7 616.6 L499.1 617.3 L499.5 616.9 L499.9 616.9 L500.3 616.7 L500.7 616.8 L501.1 616.7 L501.5 616.7 L501.9 616.5 L502.3 616.6 L502.7 616.3 L503.1 616.5 L503.5 616.4 L503.9 616.4 L504.3 616.4 L504.7 616.6 L505.1 616.6 L505.5 616.4 L505.9 616.2 L506.3 616.6 L506.7 616.1 L507.1 616.2 L507.5 616.8 L507.9 616.1 L508.3 616.4 L508.7 616.2 L509.1 616.3 L509.5 616.1 L509.9 616.2 L510.3 616.1 L510.7 616.0 L511.1 616.1 L511.5 616.0 L511.9 616.2 L512.3 615.9 L512.7 615.7 L513.1 615.8 L513.5 615.5 L513.9 615.8 L514.3 615.7 L514.7 615.9 L515.1 615.4 L515.5 616.0 L515.9 615.6 L516.3 615.4 L516.7 615.7 L517.1 615.6 L517.5 615.6 L517.9 615.8 L518.3 615.4 L518.7 615.1 L519.1 615.5 L519.5 615.3 L519.9 615.4 L520.3 615.5 L520.7 615.2 L521.1 615.3 L521.5 615.4 L521.9 615.5 L522.3 615.0 L522.7 615.2 L523.1 615.1 L523.5 615.3 L523.9 615.1 L524.3 615.3 L524.7 614.9 L525.1 615.0 L525.5 614.6 L525.9 615.1 L526.3 615.1 L526.7 614.8 L527.1 614.9 L527.5 614.8 L527.9 614.6 L528.3 614.6 L528.7 614.7 L529.1 614.7 L529.5 614.6 L529.9 614.6 L530.3 614.6 L530.7 614.6 L531.1 614.4 L531.5 614.5 L531.9 614.5 L532.3 614.2 L532.7 614.6 L533.1 614.5 L533.5 614.3 L533.9 614.4 L534.3 614.2 L534.7 614.1 L535.1 614.1 L535.5 614.1 L535.9 614.3 L536.3 614.1 L536.7 614.0 L537.1 614.1 L537.5 614.2 L537.9 614.0 L538.3 613.9 L538.7 613.9 L539.1 614.0 L539.5 613.8 L539.9 613.9 L540.3 613.8 L540.7 613.7 L541.1 613.7 L541.5 613.7 L541.9 613.6 L542.3 613.7 L542.7 613.6 L543.1 613.5 L543.5 613.5 L543.9 613.5 L544.3 613.4 L544.7 613.4 L545.1 613.4 L545.5 613.2 L545.9 613.1 L546.3 613.1 L546.7 613.1 L547.1 613.2 L547.5 613.0 L547.9 613.1 L548.3 612.9 L548.7 612.9 L549.1 613.0 L549.5 613.0 L549.9 612.8 L550.3 612.9 L550.7 612.8 L551.1 612.5 L551.5 612.6 L551.9 612.4 L552.3 612.4 L552.7 612.5 L553.1 612.2 L553.5 612.4 L553.9 612.3 L554.3 612.2 L554.7 612.2 L555.1 612.0 L555.5 611.9 L555.9 612.0 L556.3 611.9 L556.7 611.9 L557.1 611.7 L557.5 611.7 L557.9 611.6 L558.3 611.5 L558.7 611.5 L559.1 611.5 L559.5 611.5 L559.9 611.7 L560.3 611.3 L560.7 611.1 L561.1 611.3 L561.5 611.1 L561.9 611.2 L562.3 611.0 L562.7 611.0 L563.1 610.9 L563.5 610.9 L563.9 610.8 L564.3 610.9 L564.7 610.8 L565.1 610.6 L565.5 610.5 L565.9 610.4 L566.3 610.5 L566.7 610.4 L567.1 610.5 L567.5 610.2 L567.9 610.3 L568.3 610.0 L568.7 609.9 L569.1 609.9 L569.5 610.0 L569.9 610.0 L570.3 609.7 L570.7 609.8 L571.1 609.6 L571.5 609.6 L571.9 609.5 L572.3 609.6 L572.7 609.4 L573.1 609.4 L573.5 609.3 L573.9 609.2 L574.3 609.1 L574.7 609.2 L575.1 608.9 L575.5 608.8 L575.9 608.7 L576.3 608.7 L576.7 608.7 L577.1 608.5 L577.5 608.6 L577.9 608.4 L578.3 608.2 L578.7 608.2 L579.1 608.0 L579.5 608.3 L579.9 608.0 L580.3 607.9 L580.7 607.7 L581.1 607.6 L581.5 607.7 L581.9 607.4 L582.3 607.4 L582.7 607.3 L583.1 607.1 L583.5 607.0 L583.9 606.9 L584.3 606.8 L584.7 606.6 L585.1 606.6 L585.5 606.5 L585.9 606.3 L586.3 606.3 L586.7 606.1 L587.1 605.8 L587.5 605.7 L587.9 605.8 L588.3 605.7 L588.7 605.5 L589.1 605.3 L589.5 605.2 L589.9 605.2 L590.3 605.0 L590.7 604.7 L591.1 604.8 L591.5 604.6 L591.9 604.4 L592.3 604.3 L592.7 604.2 L593.1 604.0 L593.5 603.8 L593.9 603.7 L594.3 603.6 L594.7 603.4 L595.1 603.2 L595.5 603.2 L595.9 603.0 L596.3 602.9 L596.7 602.7 L597.1 602.3 L597.5 602.5 L597.9 602.2 L598.3 602.0 L598.7 601.8 L599.1 601.7 L599.5 601.5 L599.9 601.4 L600.3 601.3 L600.7 601.1 L601.1 601.0 L601.5 600.8 L601.9 600.7 L602.3 600.5 L602.7 600.4 L603.1 600.3 L603.5 600.1 L603.9 600.1 L604.3 600.0 L604.7 599.7 L605.1 599.7 L605.5 599.6 L605.9 599.3 L606.3 599.2 L606.7 599.2 L607.1 599.1 L607.5 599.0 L607.9 598.9 L608.3 598.8 L608.7 598.7 L609.1 598.6 L609.5 598.5 L609.9 598.4 L610.3 598.4 L610.7 598.2 L611.1 598.1 L611.5 598.0 L611.9 598.0 L612.3 597.9 L612.7 597.8 L613.1 597.7 L613.5 597.6 L613.9 597.6 L614.3 597.5 L614.7 597.5 L615.1 597.3 L615.5 597.2 L615.9 597.2 L616.3 597.1 L616.7 597.1 L617.1 596.9 L617.5 596.9 L617.9 596.7 L618.3 596.6 L618.7 596.4 L619.1 596.4 L619.5 596.3 L619.9 596.1 L620.3 596.0 L620.7 595.8 L621.1 595.6 L621.5 595.5 L621.9 595.4 L622.3 595.2 L622.7 595.0 L623.1 594.8 L623.5 594.6 L623.9 594.3 L624.3 594.2 L624.7 594.0 L625.1 593.6 L625.5 593.5 L625.9 593.3 L626.3 592.9 L626.7 592.8 L627.1 592.4 L627.5 592.2 L627.9 591.9 L628.3 591.6 L628.7 591.2 L629.1 591.1 L629.5 590.6 L629.9 590.4 L630.3 590.1 L630.7 589.7 L631.1 589.4 L631.5 588.9 L631.9 588.6 L632.3 588.2 L632.7 587.8 L633.1 587.5 L633.5 587.2 L633.9 586.7 L634.3 586.3 L634.7 585.9 L635.1 585.5 L635.5 584.9 L635.9 584.6 L636.3 584.1 L636.7 583.6 L637.1 583.1 L637.5 582.7 L637.9 582.2 L638.3 581.7 L638.7 581.1 L639.1 580.7 L639.5 580.1 L639.9 579.7 L640.3 579.1 L640.7 578.6 L641.1 578.1 L641.5 577.4 L641.9 577.0 L642.3 576.3 L642.7 575.8 L643.1 575.2 L643.5 574.6 L643.9 573.9 L644.3 573.4 L644.7 572.9 L645.1 572.3 L645.5 571.5 L645.9 570.9 L646.3 570.3 L646.7 569.8 L647.1 569.1 L647.5 568.5 L647.9 567.8 L648.3 567.2 L648.7 566.5 L649.1 565.9 L649.5 565.3 L649.9 564.7 L650.3 563.9 L650.7 563.4 L651.1 562.7 L651.5 562.0 L651.9 561.4 L652.3 560.5 L652.7 560.0 L653.1 559.4 L653.5 558.7 L653.9 558.0 L654.3 557.3 L654.7 556.7 L655.1 555.9 L655.5 555.2 L655.9 554.6 L656.3 553.9 L656.7 553.2 L657.1 552.7 L657.5 552.0 L657.9 551.3 L658.3 550.8 L658.7 550.2 L659.1 549.5 L659.5 549.0 L659.9 548.5 L660.3 547.9 L660.7 547.2 L661.1 546.7 L661.5 546.2 L661.9 545.7 L662.3 545.1 L662.7 544.6 L663.1 544.2 L663.5 543.6 L663.9 543.1 L664.3 542.5 L664.7 542.1 L665.1 541.5 L665.5 540.9 L665.9 540.4 L666.3 539.8 L666.7 539.3 L667.1 538.7 L667.5 538.2 L667.9 537.7 L668.3 537.2 L668.7 536.7 L669.1 536.1 L669.5 535.5 L669.9 535.0 L670.3 534.4 L670.7 533.9 L671.1 533.2 L671.5 532.7 L671.9 532.3 L672.3 531.7 L672.7 531.1 L673.1 530.7 L673.5 530.0 L673.9 529.6 L674.3 529.0 L674.7 528.4 L675.1 527.8 L675.5 527.4 L675.9 526.7 L676.3 526.2 L676.7 525.8 L677.1 525.1 L677.5 524.7 L677.9 524.1 L678.3 523.6 L678.7 523.0 L679.1 522.4 L679.5 521.9 L679.9 521.3 L680.3 520.9 L680.7 520.3 L681.1 519.8 L681.5 519.3 L681.9 518.8 L682.3 518.2 L682.7 517.7 L683.1 517.2 L683.5 516.7 L683.9 516.1 L684.3 515.6 L684.7 515.1 L685.1 514.7 L685.5 514.1 L685.9 513.6 L686.3 513.2 L686.7 512.8 L687.1 512.3 L687.5 511.8 L687.9 511.3 L688.3 511.0 L688.7 510.6 L689.1 510.1 L689.5 509.7 L689.9 509.2 L690.3 508.9 L690.7 508.5 L691.1 507.9 L691.5 507.5 L691.9 507.2 L692.3 506.9 L692.7 506.4 L693.1 506.0 L693.5 505.7 L693.9 505.2 L694.3 504.8 L694.7 504.4 L695.1 504.2 L695.5 503.6 L695.9 503.3 L696.3 503.0 L696.7 502.7 L697.1 502.4 L697.5 501.9 L697.9 501.6 L698.3 501.3 L698.7 500.9 L699.1 500.6 L699.5 500.3 L699.9 500.0 L700.3 499.7 L700.7 499.3 L701.1 499.1 L701.5 498.8 L701.9 498.5 L702.3 498.2 L702.7 497.9 L703.1 497.6 L703.5 497.2 L703.9 497.0 L704.3 496.8 L704.7 496.6 L705.1 496.2 L705.5 496.0 L705.9 495.8 L706.3 495.4 L706.7 495.2 L707.1 494.9 L707.5 494.7 L707.9 494.4 L708.3 494.3 L708.7 494.0 L709.1 493.8 L709.5 493.5 L709.9 493.2 L710.3 493.1 L710.7 492.8 L711.1 492.5 L711.5 492.4 L711.9 492.1 L712.3 491.9 L712.7 491.6 L713.1 491.4 L713.5 491.2 L713.9 490.9 L714.3 490.8 L714.7 490.6 L715.1 490.3 L715.5 490.2 L715.9 489.9 L716.3 489.6 L716.7 489.5 L717.1 489.3 L717.5 489.0 L717.9 488.7 L718.3 488.6 L718.7 488.4 L719.1 488.2 L719.5 488.1 L719.9 487.7 L720.3 487.5 L720.7 487.3 L721.1 487.1 L721.5 486.9 L721.9 486.6 L722.3 486.4 L722.7 486.1 L723.1 485.8 L723.5 485.7 L723.9 485.4 L724.3 485.1 L724.7 484.9 L725.1 484.6 L725.5 484.4 L725.9 484.2 L726.3 483.9 L726.7 483.6 L727.1 483.2 L727.5 483.1 L727.9 482.8 L728.3 482.4 L728.7 482.2 L729.1 481.9 L729.5 481.6 L729.9 481.3 L730.3 481.1 L730.7 480.6 L731.1 480.3 L731.5 480.1 L731.9 479.7 L732.3 479.3 L732.7 479.1 L733.1 478.8 L733.5 478.5 L733.9 478.1 L734.3 477.7 L734.7 477.4 L735.1 477.0 L735.5 476.7 L735.9 476.3 L736.3 476.0 L736.7 475.6 L737.1 475.3 L737.5 474.8 L737.9 474.6 L738.3 474.2 L738.7 473.7 L739.1 473.3 L739.5 473.0 L739.9 472.6 L740.3 472.1 L740.7 471.9 L741.1 471.4 L741.5 470.9 L741.9 470.6 L742.3 470.2 L742.7 469.8 L743.1 469.3 L743.5 469.0 L743.9 468.5 L744.3 468.2 L744.7 467.7 L745.1 467.3 L745.5 466.9 L745.9 466.5 L746.3 466.0 L746.7 465.5 L747.1 465.1 L747.5 464.7 L747.9 464.3 L748.3 463.9 L748.7 463.5 L749.1 463.1 L749.5 462.7 L749.9 462.1 L750.3 461.7 L750.7 461.3 L751.1 460.8 L751.5 460.3 L751.9 459.9 L752.3 459.4 L752.7 458.9 L753.1 458.5 L753.5 458.1 L753.9 457.6 L754.3 457.0 L754.7 456.5 L755.1 456.0 L755.5 455.6 L755.9 455.1 L756.3 454.6 L756.7 454.1 L757.1 453.6 L757.5 453.0 L757.9 452.5 L758.3 452.1 L758.7 451.5 L759.1 451.0 L759.5 450.4 L759.9 449.9 L760.3 449.2 L760.7 448.6 L761.1 448.0 L761.5 447.5 L761.9 446.9 L762.3 446.1 L762.7 445.6 L763.1 445.0 L763.5 444.3 L763.9 443.7 L764.3 442.9 L764.7 442.2 L765.1 441.7 L765.5 441.0 L765.9 440.2 L766.3 439.4 L766.7 438.8 L767.1 438.0 L767.5 437.4 L767.9 436.6 L768.3 436.0 L768.7 435.2 L769.1 434.5 L769.5 433.7 L769.9 432.9 L770.3 432.1 L770.7 431.5 L771.1 430.6 L771.5 430.0 L771.9 429.1 L772.3 428.3 L772.7 427.6 L773.1 426.8 L773.5 426.0 L773.9 425.2 L774.3 424.4 L774.7 423.7 L775.1 422.9 L775.5 422.1 L775.9 421.4 L776.3 420.5 L776.7 419.8 L777.1 419.0 L777.5 418.2 L777.9 417.4 L778.3 416.6 L778.7 415.8 L779.1 415.0 L779.5 414.1 L779.9 413.4 L780.3 412.6 L780.7 411.7 L781.1 410.9 L781.5 410.0 L781.9 409.3 L782.3 408.3 L782.7 407.6 L783.1 406.7 L783.5 405.9 L783.9 405.0 L784.3 404.3 L784.7 403.4 L785.1 402.6 L785.5 401.7 L785.9 400.8 L786.3 400.0 L786.7 399.2 L787.1 398.4 L787.5 397.5 L787.9 396.7 L788.3 395.9 L788.7 395.0 L789.1 394.2 L789.5 393.4 L789.9 392.6 L790.3 391.7 L790.7 390.9 L791.1 390.2 L791.5 389.3 L791.9 388.5 L792.3 387.7 L792.7 386.9 L793.1 386.2 L793.5 385.3 L793.9 384.6 L794.3 383.8 L794.7 382.9 L795.1 382.2 L795.5 381.5 L795.9 380.7 L796.3 379.9 L796.7 379.2 L797.1 378.4 L797.5 377.7 L797.9 377.0 L798.3 376.2 L798.7 375.5 L799.1 374.7 L799.5 374.0 L799.9 373.2 L800.3 372.4 L800.7 371.7 L801.1 370.8 L801.5 369.9 L801.9 369.2 L802.3 368.5 L802.7 367.7 L803.1 366.8 L803.5 365.9 L803.9 365.1 L804.3 364.5 L804.7 363.6 L805.1 362.8 L805.5 361.9 L805.9 361.1 L806.3 360.3 L806.7 359.5 L807.1 358.8 L807.5 358.0 L807.9 357.3 L808.3 356.5 L808.7 355.7 L809.1 355.0 L809.5 354.3 L809.9 353.5 L810.3 352.7 L810.7 352.0 L811.1 351.1 L811.5 350.4 L811.9 349.7 L812.3 349.0 L812.7 348.3 L813.1 347.5 L813.5 346.7 L813.9 345.9 L814.3 345.1 L814.7 344.4 L815.1 343.7 L815.5 342.9 L815.9 342.2 L816.3 341.5 L816.7 340.7 L817.1 339.8 L817.5 339.1 L817.9 338.3 L818.3 337.6 L818.7 336.8 L819.1 336.1 L819.5 335.2 L819.9 334.4 L820.3 333.6 L820.7 332.9 L821.1 332.1 L821.5 331.3 L821.9 330.5 L822.3 329.8 L822.7 329.0 L823.1 328.1 L823.5 327.2 L823.9 326.5 L824.3 325.7 L824.7 324.8 L825.1 324.1 L825.5 323.2 L825.9 322.5 L826.3 321.6 L826.7 320.9 L827.1 320.2 L827.5 319.4 L827.9 318.5 L828.3 317.8 L828.7 317.1 L829.1 316.3 L829.5 315.5 L829.9 314.8 L830.3 313.9 L830.7 313.3 L831.1 312.6 L831.5 311.9 L831.9 311.1 L832.3 310.3 L832.7 309.7 L833.1 309.0 L833.5 308.2 L833.9 307.5 L834.3 306.8 L834.7 306.1 L835.1 305.3 L835.5 304.6 L835.9 303.9 L836.3 303.3 L836.7 302.7 L837.1 301.9 L837.5 301.3 L837.9 300.7 L838.3 300.1 L838.7 299.3 L839.1 298.6 L839.5 298.0 L839.9 297.3 L840.3 296.7 L840.7 296.1 L841.1 295.5 L841.5 294.7 L841.9 294.1 L842.3 293.6 L842.7 293.0 L843.1 292.5 L843.5 291.8 L843.9 291.2 L844.3 290.6 L844.7 290.0 L845.1 289.5 L845.5 288.9 L845.9 288.4 L846.3 287.9 L846.7 287.4 L847.1 286.9 L847.5 286.4 L847.9 285.9 L848.3 285.4 L848.7 285.0 L849.1 284.5 L849.5 283.8 L849.9 283.5 L850.3 283.1 L850.7 282.6 L851.1 282.2 L851.5 281.7 L851.9 281.3 L852.3 280.8 L852.7 280.4 L853.1 280.0 L853.5 279.4 L853.9 279.0 L854.3 278.7 L854.7 278.2 L855.1 277.8 L855.5 277.3 L855.9 276.9 L856.3 276.5 L856.7 276.1 L857.1 275.7 L857.5 275.2 L857.9 274.9 L858.3 274.5 L858.7 274.0 L859.1 273.7 L859.5 273.3 L859.9 272.9 L860.3 272.7 L860.7 272.4 L861.1 272.0 L861.5 271.5 L861.9 271.2 L862.3 271.0 L862.7 270.6 L863.1 270.3 L863.5 269.9 L863.9 269.5 L864.3 269.5 L864.7 268.9 L865.1 268.6 L865.5 268.6 L865.9 268.1 L866.3 268.1 L866.7 267.7 L867.1 267.4 L867.5 267.1 L867.9 266.7 L868.3 266.4 L868.7 266.4 L869.1 266.1 L869.5 265.7 L869.9 265.5 L870.3 265.3 L870.7 265.2 L871.1 265.0 L871.5 264.9 L871.9 264.5 L872.3 264.6 L872.7 264.2 L873.1 264.2 L873.5 263.5 L873.9 263.6 L874.3 263.5 L874.7 262.8 L875.1 263.2 L875.5 262.9 L875.9 262.9 L876.3 262.6 L876.7 262.6 L877.1 262.2 L877.5 262.0 L877.9 262.2 L878.3 262.1 L878.7 261.5 L879.1 262.0 L879.5 261.9 L879.9 261.8 L880.3 261.3 L880.7 261.7 L881.1 260.8 L881.5 261.5 L881.9 261.2 L882.3 261.1 L882.7 261.0 L883.1 261.5 L883.5 260.5 L883.9 260.8 L884.3 260.8 L884.7 261.0 L885.1 260.9 L885.5 260.4 L885.9 260.8 L886.3 260.9 L886.7 261.4 L887.1 261.2 L887.5 260.8 L887.9 260.8 L888.3 261.0 L888.7 261.3 L889.1 261.1 L889.5 261.5 L889.9 261.2 L890.3 261.7 L890.7 262.0 L891.1 261.3 L891.5 262.1 L891.9 262.3 L892.3 262.5 L892.7 262.7 L893.1 262.9 L893.5 263.2 L893.9 263.5 L894.3 263.8 L894.7 264.4 L895.1 264.7 L895.5 265.0 L895.9 265.1 L896.3 265.6 L896.7 266.4 L897.1 266.5 L897.5 267.4 L897.9 267.4 L898.3 268.6 L898.7 269.0 L899.1 269.3 L899.5 269.9 L899.9 270.3 L900.3 271.3 L900.7 272.2 L901.1 272.8 L901.5 273.3 L901.9 274.4 L902.3 275.0 L902.7 275.7 L903.1 276.4 L903.5 276.7 L903.9 278.4 L904.3 279.1 L904.7 279.8 L905.1 280.9 L905.5 282.2 L905.9 282.8 L906.3 283.8 L906.7 285.0 L907.1 285.9 L907.5 287.2 L907.9 288.2 L908.3 289.4 L908.7 290.6 L909.1 291.9 L909.5 293.4 L909.9 294.7 L910.3 295.9 L910.7 297.4 L911.1 299.0 L911.5 300.3 L911.9 301.8 L912.3 303.4 L912.7 305.2 L913.1 306.8 L913.5 308.5 L913.9 310.2 L914.3 311.9 L914.7 313.9 L915.1 315.5 L915.5 317.4 L915.9 319.2 L916.3 321.0 L916.7 322.9 L917.1 324.8 L917.5 326.5 L917.9 328.4 L918.3 330.2 L918.7 331.9 L919.1 333.9 L919.5 335.6 L919.9 337.3 L920.3 339.2 L920.7 341.0 L921.1 342.7 L921.5 344.5 L921.9 346.3 L922.3 348.1 L922.7 349.8 L923.1 351.6 L923.5 353.5 L923.9 355.2 L924.3 357.0 L924.7 358.8 L925.1 360.6 L925.5 362.4 L925.9 364.1 L926.3 365.9 L926.7 367.7"/>
<path stroke="#ff9a2e" stroke-miterlimit="3" d="M205.0 628.7 L205.4 628.8 L205.8 627.5 L206.2 626.6 L206.6 626.6 L207.0 626.7 L207.4 626.0 L207.8 625.4 L208.2 625.3 L208.6 625.0 L209.0 624.7 L209.4 624.8 L209.8 624.9 L210.2 624.6 L210.6 624.5 L211.0 624.3 L211.4 624.9 L211.8 623.9 L212.2 624.2 L212.6 624.3 L213.0 624.1 L213.4 624.2 L213.8 623.4 L214.2 623.8 L214.6 623.8 L215.0 623.7 L215.4 623.6 L215.8 624.2 L216.2 623.7 L216.6 624.3 L217.0 624.2 L217.4 623.9 L217.8 623.7 L218.2 623.9 L218.6 623.8 L219.0 623.8 L219.4 623.6 L219.8 624.0 L220.2 623.9 L220.6 624.0 L221.0 624.0 L221.4 624.3 L221.8 624.5 L222.2 624.0 L222.6 624.0 L223.0 624.0 L223.4 624.2 L223.8 623.6 L224.2 624.0 L224.6 624.0 L225.0 624.2 L225.4 624.3 L225.8 623.9 L226.2 624.1 L226.6 623.6 L227.0 623.8 L227.4 624.1 L227.8 623.6 L228.2 623.6 L228.6 624.1 L229.0 623.5 L229.4 623.9 L229.8 624.5 L230.2 624.1 L230.6 624.5 L231.0 623.7 L231.4 623.8 L231.8 624.0 L232.2 624.1 L232.6 624.3 L233.0 624.4 L233.4 624.2 L233.8 624.1 L234.2 623.8 L234.6 624.3 L235.0 623.9 L235.4 624.3 L235.8 624.4 L236.2 623.7 L236.6 624.5 L237.0 624.0 L237.4 624.3 L237.8 624.3 L238.2 624.5 L238.6 624.3 L239.0 624.5 L239.4 624.3 L239.8 623.8 L240.2 624.0 L240.6 624.2 L241.0 624.3 L241.4 624.1 L241.8 623.9 L242.2 623.7 L242.6 624.1 L243.0 624.8 L243.4 624.0 L243.8 623.9 L244.2 624.2 L244.6 624.2 L245.0 624.1 L245.4 623.6 L245.8 623.9 L246.2 623.9 L246.6 624.2 L247.0 623.9 L247.4 624.0 L247.8 623.8 L248.2 623.9 L248.6 624.6 L249.0 624.3 L249.4 624.2 L249.8 623.9 L250.2 623.8 L250.6 624.3 L251.0 624.1 L251.4 624.2 L251.8 624.2 L252.2 624.1 L252.6 623.5 L253.0 624.3 L253.4 624.5 L253.8 624.1 L254.2 624.1 L254.6 624.2 L255.0 624.0 L255.4 623.6 L255.8 624.0 L256.2 624.1 L256.6 624.4 L257.0 623.9 L257.4 624.0 L257.8 624.1 L258.2 624.2 L258.6 624.6 L259.0 624.3 L259.4 624.3 L259.8 623.8 L260.2 624.5 L260.6 623.7 L261.0 624.5 L261.4 624.3 L261.8 624.2 L262.2 623.9 L262.6 624.3 L263.0 624.0 L263.4 624.5 L263.8 623.4 L264.2 624.2 L264.6 623.5 L265.0 624.2 L265.4 624.1 L265.8 624.4 L266.2 623.9 L266.6 623.9 L267.0 623.6 L267.4 624.0 L267.8 624.2 L268.2 624.1 L268.6 623.9 L269.0 623.9 L269.4 624.3 L269.8 624.2 L270.2 623.7 L270.6 625.3 L271.0 623.9 L271.4 622.6 L271.8 624.3 L272.2 624.2 L272.6 623.9 L273.0 624.3 L273.4 624.2 L273.8 624.0 L274.2 624.2 L274.6 624.1 L275.0 624.0 L275.4 624.4 L275.8 623.8 L276.2 624.6 L276.6 624.2 L277.0 624.1 L277.4 624.3 L277.8 623.9 L278.2 624.1 L278.6 624.7 L279.0 624.3 L279.4 624.1 L279.8 624.1 L280.2 624.4 L280.6 624.4 L281.0 624.1 L281.4 624.5 L281.8 624.2 L282.2 624.2 L282.6 624.4 L283.0 624.0 L283.4 623.8 L283.8 624.1 L284.2 624.4 L284.6 624.1 L285.0 624.4 L285.4 624.5 L285.8 624.1 L286.2 624.2 L286.6 624.2 L287.0 624.4 L287.4 624.3 L287.8 624.2 L288.2 624.5 L288.6 624.3 L289.0 624.3 L289.4 624.0 L289.8 624.2 L290.2 624.5 L290.6 624.4 L291.0 624.2 L291.4 624.2 L291.8 624.0 L292.2 624.0 L292.6 624.5 L293.0 624.2 L293.4 624.2 L293.8 625.3 L294.2 624.1 L294.6 624.1 L295.0 624.6 L295.4 624.4 L295.8 624.4 L296.2 623.8 L296.6 624.0 L297.0 624.1 L297.4 624.2 L297.8 623.8 L298.2 624.0 L298.6 624.7 L299.0 624.2 L299.4 624.1 L299.8 624.3 L300.2 623.5 L300.6 624.2 L301.0 624.5 L301.4 624.2 L301.8 624.3 L302.2 624.2 L302.6 624.3 L303.0 624.4 L303.4 624.2 L303.8 624.2 L304.2 624.3 L304.6 623.7 L305.0 623.9 L305.4 624.7 L305.8 624.4 L306.2 624.3 L306.6 624.1 L307.0 624.3 L307.4 624.7 L307.8 624.6 L308.2 624.0 L308.6 624.6 L309.0 624.0 L309.4 624.1 L309.8 624.2 L310.2 624.4 L310.6 624.2 L311.0 624.5 L311.4 624.3 L311.8 624.6 L312.2 623.9 L312.6 624.2 L313.0 624.4 L313.4 624.6 L313.8 623.7 L314.2 624.2 L314.6 623.7 L315.0 624.3 L315.4 624.1 L315.8 624.3 L316.2 624.5 L316.6 624.4 L317.0 624.3 L317.4 624.8 L317.8 625.0 L318.2 624.1 L318.6 624.4 L319.0 624.1 L319.4 624.4 L319.8 624.0 L320.2 624.4 L320.6 623.8 L321.0 624.3 L321.4 624.8 L321.8 623.9 L322.2 624.1 L322.6 624.4 L323.0 623.9 L323.4 623.6 L323.8 623.8 L324.2 624.3 L324.6 624.5 L325.0 624.2 L325.4 624.2 L325.8 624.5 L326.2 624.2 L326.6 624.5 L327.0 624.6 L327.4 622.4 L327.8 624.5 L328.2 624.4 L328.6 624.2 L329.0 624.2 L329.4 624.5 L329.8 623.9 L330.2 623.8 L330.6 624.5 L331.0 624.7 L331.4 624.3 L331.8 624.5 L332.2 623.8 L332.6 623.9 L333.0 624.1 L333.4 624.1 L333.8 624.2 L334.2 624.1 L334.6 624.2 L335.0 624.1 L335.4 624.3 L335.8 624.5 L336.2 624.4 L336.6 624.5 L337.0 624.1 L337.4 624.1 L337.8 624.1 L338.2 623.8 L338.6 624.4 L339.0 624.3 L339.4 624.2 L339.8 624.1 L340.2 623.9 L340.6 623.6 L341.0 624.0 L341.4 624.1 L341.8 623.5 L342.2 624.5 L342.6 624.0 L343.0 624.3 L343.4 624.5 L343.8 624.6 L344.2 624.1 L344.6 624.4 L345.0 623.7 L345.4 624.2 L345.8 624.3 L346.2 623.9 L346.6 624.2 L347.0 624.4 L347.4 624.1 L347.8 624.2 L348.2 624.4 L348.6 624.1 L349.0 624.1 L349.4 624.1 L349.8 624.9 L350.2 624.1 L350.6 624.3 L351.0 623.5 L351.4 624.2 L351.8 623.2 L352.2 624.0 L352.6 624.3 L353.0 624.6 L353.4 624.2 L353.8 624.3 L354.2 624.2 L354.6 624.0 L355.0 624.2 L355.4 624.4 L355.8 624.2 L356.2 624.1 L356.6 624.0 L357.0 624.3 L357.4 624.1 L357.8 624.4 L358.2 623.8 L358.6 624.5 L359.0 623.9 L359.4 624.1 L359.8 624.7 L360.2 624.4 L360.6 624.0 L361.0 624.0 L361.4 624.4 L361.8 624.4 L362.2 624.1 L362.6 624.3 L363.0 624.0 L363.4 623.4 L363.8 624.4 L364.2 624.0 L364.6 623.5 L365.0 624.1 L365.4 624.1 L365.8 623.9 L366.2 624.3 L366.6 624.3 L367.0 624.4 L367.4 624.3 L367.8 624.2 L368.2 624.0 L368.6 624.1 L369.0 624.2 L369.4 623.3 L369.8 623.8 L370.2 624.1 L370.6 624.3 L371.0 624.5 L371.4 624.5 L371.8 623.0 L372.2 624.1 L372.6 624.0 L373.0 623.9 L373.4 624.0 L373.8 623.8 L374.2 624.3 L374.6 623.7 L375.0 624.1 L375.4 623.9 L375.8 624.4 L376.2 624.5 L376.6 624.0 L377.0 623.9 L377.4 622.7 L377.8 624.3 L378.2 623.8 L378.6 624.0 L379.0 624.1 L379.4 623.8 L379.8 624.4 L380.2 624.1 L380.6 624.1 L381.0 623.8 L381.4 624.4 L381.8 623.8 L382.2 623.9 L382.6 623.9 L383.0 624.0 L383.4 623.7 L383.8 623.9 L384.2 624.2 L384.6 624.1 L385.0 624.1 L385.4 624.3 L385.8 624.2 L386.2 624.3 L386.6 624.1 L387.0 623.8 L387.4 624.4 L387.8 623.7 L388.2 623.7 L388.6 623.8 L389.0 624.6 L389.4 624.1 L389.8 624.3 L390.2 623.7 L390.6 623.8 L391.0 623.4 L391.4 623.9 L391.8 624.1 L392.2 624.2 L392.6 624.1 L393.0 624.5 L393.4 624.1 L393.8 624.0 L394.2 624.1 L394.6 624.2 L395.0 623.8 L395.4 624.1 L395.8 624.2 L396.2 624.0 L396.6 624.0 L397.0 624.4 L397.4 624.4 L397.8 624.5 L398.2 624.4 L398.6 623.9 L399.0 623.9 L399.4 623.9 L399.8 624.2 L400.2 623.2 L400.6 625.5 L401.0 624.3 L401.4 624.0 L401.8 624.1 L402.2 624.0 L402.6 623.6 L403.0 624.2 L403.4 623.9 L403.8 623.2 L404.2 624.0 L404.6 624.4 L405.0 624.1 L405.4 624.1 L405.8 624.0 L406.2 623.8 L406.6 624.1 L407.0 624.2 L407.4 624.0 L407.8 623.5 L408.2 623.8 L408.6 624.4 L409.0 623.8 L409.4 624.0 L409.8 623.6 L410.2 624.3 L410.6 623.8 L411.0 624.1 L411.4 624.1 L411.8 624.1 L412.2 623.9 L412.6 623.8 L413.0 625.8 L413.4 623.9 L413.8 624.0 L414.2 624.4 L414.6 623.8 L415.0 624.0 L415.4 623.9 L415.8 623.9 L416.2 624.0 L416.6 623.9 L417.0 623.9 L417.4 624.1 L417.8 623.6 L418.2 623.7 L418.6 623.8 L419.0 623.6 L419.4 624.0 L419.8 623.8 L420.2 623.7 L420.6 623.6 L421.0 623.8 L421.4 624.0 L421.8 623.6 L422.2 624.0 L422.6 624.0 L423.0 623.9 L423.4 623.5 L423.8 623.7 L424.2 624.1 L424.6 623.8 L425.0 623.7 L425.4 624.3 L425.8 623.9 L426.2 623.4 L426.6 624.0 L427.0 624.6 L427.4 623.6 L427.8 623.7 L428.2 623.3 L428.6 623.5 L429.0 623.8 L429.4 624.1 L429.8 623.5 L430.2 623.5 L430.6 623.8 L431.0 623.8 L431.4 624.6 L431.8 623.6 L432.2 624.0 L432.6 623.6 L433.0 623.4 L433.4 623.6 L433.8 624.0 L434.2 623.8 L434.6 623.7 L435.0 623.5 L435.4 623.7 L435.8 624.2 L436.2 623.8 L436.6 623.9 L437.0 623.4 L437.4 623.6 L437.8 623.6 L438.2 624.0 L438.6 623.6 L439.0 623.6 L439.4 623.5 L439.8 623.1 L440.2 623.8 L440.6 623.3 L441.0 623.5 L441.4 623.3 L441.8 623.5 L442.2 623.5 L442.6 623.5 L443.0 623.9 L443.4 623.3 L443.8 623.5 L444.2 623.7 L444.6 623.5 L445.0 623.4 L445.4 623.9 L445.8 623.7 L446.2 623.4 L446.6 623.6 L447.0 623.3 L447.4 623.6 L447.8 623.2 L448.2 623.6 L448.6 623.6 L449.0 623.5 L449.4 623.5 L449.8 623.5 L450.2 623.3 L450.6 623.5 L451.0 623.5 L451.4 623.5 L451.8 623.2 L452.2 623.5 L452.6 623.2 L453.0 622.5 L453.4 623.2 L453.8 623.3 L454.2 623.3 L454.6 623.5 L455.0 623.5 L455.4 623.4 L455.8 623.0 L456.2 623.5 L456.6 623.5 L457.0 623.2 L457.4 623.1 L457.8 623.3 L458.2 623.6 L458.6 623.2 L459.0 623.2 L459.4 623.4 L459.8 622.5 L460.2 623.1 L460.6 623.2 L461.0 623.4 L461.4 623.2 L461.8 623.1 L462.2 622.9 L462.6 623.5 L463.0 623.0 L463.4 623.4 L463.8 623.2 L464.2 623.3 L464.6 623.4 L465.0 623.0 L465.4 623.2 L465.8 623.5 L466.2 623.3 L466.6 623.0 L467.0 623.3 L467.4 623.1 L467.8 622.9 L468.2 623.2 L468.6 623.2 L469.0 623.0 L469.4 623.0 L469.8 623.1 L470.2 623.3 L470.6 622.8 L471.0 623.1 L471.4 623.3 L471.8 622.8 L472.2 623.0 L472.6 623.3 L473.0 622.9 L473.4 623.1 L473.8 622.6 L474.2 622.8 L474.6 622.6 L475.0 622.7 L475.4 623.1 L475.8 622.6 L476.2 622.7 L476.6 622.6 L477.0 622.8 L477.4 622.6 L477.8 622.5 L478.2 622.5 L478.6 622.6 L479.0 622.4 L479.4 622.2 L479.8 622.7 L480.2 622.5 L480.6 622.1 L481.0 622.4 L481.4 622.5 L481.8 622.2 L482.2 622.3 L482.6 622.2 L483.0 622.5 L483.4 621.9 L483.8 622.0 L484.2 622.4 L484.6 622.0 L485.0 622.0 L485.4 621.9 L485.8 621.7 L486.2 622.0 L486.6 622.1 L487.0 622.0 L487.4 621.7 L487.8 621.8 L488.2 622.1 L488.6 621.8 L489.0 621.6 L489.4 621.9 L489.8 621.7 L490.2 621.4 L490.6 621.5 L491.0 621.7 L491.4 621.5 L491.8 621.5 L492.2 621.6 L492.6 621.3 L493.0 621.2 L493.4 621.4 L493.8 621.3 L494.2 621.3 L494.6 621.2 L495.0 621.1 L495.4 621.0 L495.8 621.2 L496.2 621.5 L496.6 620.9 L497.0 621.2 L497.4 621.1 L497.8 620.9 L498.2 620.8 L498.6 621.0 L499.0 620.8 L499.4 620.8 L499.8 620.6 L500.2 621.1 L500.6 620.5 L501.0 620.8 L501.4 620.9 L501.8 620.7 L502.2 620.9 L502.6 620.6 L503.0 620.6 L503.4 620.6 L503.8 620.4 L504.2 620.4 L504.6 620.5 L505.0 620.3 L505.4 620.7 L505.8 620.4 L506.2 620.1 L506.6 620.2 L507.0 620.2 L507.4 620.0 L507.8 620.2 L508.2 620.2 L508.6 619.9 L509.0 620.5 L509.4 619.9 L509.8 619.9 L510.2 619.9 L510.6 619.8 L511.0 619.8 L511.4 619.7 L511.8 619.9 L512.2 619.8 L512.6 619.5 L513.0 619.6 L513.4 619.9 L513.8 619.4 L514.2 619.6 L514.6 619.6 L515.0 619.3 L515.4 619.4 L515.8 618.9 L516.2 619.4 L516.6 619.2 L517.0 619.2 L517.4 619.0 L517.8 619.1 L518.2 619.0 L518.6 618.9 L519.0 618.7 L519.4 618.7 L519.8 618.7 L520.2 618.6 L520.6 618.4 L521.0 618.3 L521.4 618.4 L521.8 618.2 L522.2 618.2 L522.6 618.0 L523.0 617.9 L523.4 618.0 L523.8 617.9 L524.2 618.1 L524.6 617.8 L525.0 617.9 L525.4 617.7 L525.8 617.6 L526.2 617.3 L526.6 617.5 L527.0 617.4 L527.4 617.1 L527.8 617.3 L528.2 617.1 L528.6 616.8 L529.0 616.9 L529.4 617.0 L529.8 616.9 L530.2 616.6 L530.6 616.8 L531.0 616.7 L531.4 616.3 L531.8 616.3 L532.2 616.3 L532.6 616.2 L533.0 616.2 L533.4 616.2 L533.8 615.9 L534.2 615.9 L534.6 615.8 L535.0 616.1 L535.4 615.7 L535.8 615.7 L536.2 615.8 L536.6 615.6 L537.0 615.4 L537.4 615.3 L537.8 615.5 L538.2 615.4 L538.6 615.1 L539.0 615.1 L539.4 615.2 L539.8 615.3 L540.2 614.9 L540.6 615.1 L541.0 614.7 L541.4 614.6 L541.8 614.6 L542.2 614.7 L542.6 614.6 L543.0 614.6 L543.4 614.3 L543.8 614.6 L544.2 614.3 L544.6 614.5 L545.0 614.2 L545.4 613.9 L545.8 614.0 L546.2 613.9 L546.6 614.0 L547.0 613.8 L547.4 613.8 L547.8 613.5 L548.2 613.5 L548.6 613.5 L549.0 613.4 L549.4 613.2 L549.8 613.3 L550.2 613.3 L550.6 613.0 L551.0 612.9 L551.4 612.8 L551.8 612.8 L552.2 612.7 L552.6 612.7 L553.0 612.6 L553.4 612.4 L553.8 612.3 L554.2 612.2 L554.6 612.3 L555.0 612.0 L555.4 612.1 L555.8 611.8 L556.2 611.9 L556.6 611.7 L557.0 611.5 L557.4 611.6 L557.8 611.4 L558.2 611.4 L558.6 611.2 L559.0 611.0 L559.4 610.8 L559.8 610.9 L560.2 610.9 L560.6 610.5 L561.0 610.5 L561.4 610.4 L561.8 610.3 L562.2 610.2 L562.6 610.0 L563.0 609.9 L563.4 609.9 L563.8 609.5 L564.2 609.6 L564.6 609.3 L565.0 609.3 L565.4 609.1 L565.8 609.0 L566.2 608.8 L566.6 608.7 L567.0 608.4 L567.4 608.4 L567.8 608.2 L568.2 608.1 L568.6 607.8 L569.0 607.9 L569.4 607.5 L569.8 607.5 L570.2 607.1 L570.6 607.0 L571.0 606.8 L571.4 606.6 L571.8 606.4 L572.2 606.4 L572.6 606.1 L573.0 606.1 L573.4 606.0 L573.8 605.7 L574.2 605.3 L574.6 605.4 L575.0 605.2 L575.4 604.8 L575.8 604.7 L576.2 604.5 L576.6 604.5 L577.0 604.1 L577.4 604.0 L577.8 603.8 L578.2 603.8 L578.6 603.6 L579.0 603.3 L579.4 603.3 L579.8 603.1 L580.2 602.8 L580.6 602.8 L581.0 602.7 L581.4 602.5 L581.8 602.3 L582.2 602.2 L582.6 602.0 L583.0 601.8 L583.4 601.8 L583.8 601.5 L584.2 601.3 L584.6 601.1 L585.0 601.0 L585.4 600.8 L585.8 600.7 L586.2 600.5 L586.6 600.5 L587.0 600.2 L587.4 600.0 L587.8 600.0 L588.2 600.0 L588.6 599.8 L589.0 599.7 L589.4 599.4 L589.8 599.2 L590.2 599.2 L590.6 599.0 L591.0 598.8 L591.4 598.7 L591.8 598.6 L592.2 598.3 L592.6 598.1 L593.0 598.0 L593.4 597.7 L593.8 597.8 L594.2 597.4 L594.6 597.2 L595.0 597.2 L595.4 596.9 L595.8 596.6 L596.2 596.6 L596.6 596.5 L597.0 596.1 L597.4 596.0 L597.8 595.9 L598.2 595.8 L598.6 595.5 L599.0 595.3 L599.4 595.1 L599.8 594.9 L600.2 594.8 L600.6 594.5 L601.0 594.2 L601.4 594.1 L601.8 594.0 L602.2 593.6 L602.6 593.4 L603.0 593.2 L603.4 593.1 L603.8 592.7 L604.2 592.5 L604.6 592.3 L605.0 592.2 L605.4 591.9 L605.8 591.7 L606.2 591.4 L606.6 591.1 L607.0 591.0 L607.4 590.7 L607.8 590.5 L608.2 590.2 L608.6 589.9 L609.0 589.6 L609.4 589.4 L609.8 589.3 L610.2 588.9 L610.6 588.7 L611.0 588.3 L611.4 588.2 L611.8 587.8 L612.2 587.4 L612.6 587.2 L613.0 587.0 L613.4 586.7 L613.8 586.3 L614.2 586.1 L614.6 585.8 L615.0 585.5 L615.4 585.1 L615.8 584.8 L616.2 584.6 L616.6 584.2 L617.0 583.8 L617.4 583.7 L617.8 583.2 L618.2 582.9 L618.6 582.4 L619.0 582.2 L619.4 581.7 L619.8 581.5 L620.2 581.1 L620.6 580.7 L621.0 580.3 L621.4 580.0 L621.8 579.6 L622.2 579.1 L622.6 578.9 L623.0 578.3 L623.4 578.0 L623.8 577.6 L624.2 577.3 L624.6 576.7 L625.0 576.5 L625.4 576.0 L625.8 575.4 L626.2 575.1 L626.6 574.7 L627.0 574.3 L627.4 573.9 L627.8 573.5 L628.2 573.1 L628.6 572.6 L629.0 572.3 L629.4 571.8 L629.8 571.4 L630.2 571.0 L630.6 570.5 L631.0 570.1 L631.4 569.7 L631.8 569.2 L632.2 568.8 L632.6 568.3 L633.0 568.0 L633.4 567.5 L633.8 567.1 L634.2 566.7 L634.6 566.2 L635.0 565.7 L635.4 565.3 L635.8 564.9 L636.2 564.5 L636.6 563.9 L637.0 563.4 L637.4 563.1 L637.8 562.6 L638.2 562.1 L638.6 561.6 L639.0 560.9 L639.4 560.7 L639.8 560.2 L640.2 559.8 L640.6 559.3 L641.0 558.9 L641.4 558.4 L641.8 557.9 L642.2 557.5 L642.6 557.0 L643.0 556.5 L643.4 556.0 L643.8 555.5 L644.2 555.0 L644.6 554.5 L645.0 554.0 L645.4 553.5 L645.8 553.1 L646.2 552.5 L646.6 551.9 L647.0 551.5 L647.4 550.9 L647.8 550.4 L648.2 550.0 L648.6 549.4 L649.0 548.9 L649.4 548.4 L649.8 547.9 L650.2 547.4 L650.6 546.9 L651.0 546.3 L651.4 545.9 L651.8 545.3 L652.2 544.8 L652.6 544.2 L653.0 543.8 L653.4 543.4 L653.8 542.8 L654.2 542.3 L654.6 541.8 L655.0 541.3 L655.4 541.0 L655.8 540.6 L656.2 540.1 L656.6 539.6 L657.0 539.1 L657.4 538.7 L657.8 538.3 L658.2 537.8 L658.6 537.5 L659.0 537.0 L659.4 536.5 L659.8 536.1 L660.2 535.8 L660.6 535.5 L661.0 535.0 L661.4 534.7 L661.8 534.2 L662.2 533.8 L662.6 533.4 L663.0 533.1 L663.4 532.5 L663.8 532.3 L664.2 531.9 L664.6 531.4 L665.0 531.0 L665.4 530.7 L665.8 530.2 L666.2 529.8 L666.6 529.4 L667.0 528.9 L667.4 528.6 L667.8 528.0 L668.2 527.6 L668.6 527.0 L669.0 526.6 L669.4 526.1 L669.8 525.7 L670.2 525.1 L670.6 524.6 L671.0 524.2 L671.4 523.7 L671.8 523.2 L672.2 522.7 L672.6 522.2 L673.0 521.6 L673.4 521.2 L673.8 520.5 L674.2 520.0 L674.6 519.6 L675.0 518.9 L675.4 518.4 L675.8 517.8 L676.2 517.3 L676.6 516.8 L677.0 516.3 L677.4 515.7 L677.8 515.3 L678.2 514.7 L678.6 514.1 L679.0 513.7 L679.4 513.1 L679.8 512.6 L680.2 512.1 L680.6 511.7 L681.0 511.1 L681.4 510.6 L681.8 510.2 L682.2 509.7 L682.6 509.2 L683.0 508.9 L683.4 508.3 L683.8 507.9 L684.2 507.5 L684.6 507.1 L685.0 506.7 L685.4 506.3 L685.8 505.8 L686.2 505.6 L686.6 505.1 L687.0 504.7 L687.4 504.3 L687.8 503.9 L688.2 503.6 L688.6 503.3 L689.0 502.9 L689.4 502.5 L689.8 502.3 L690.2 501.9 L690.6 501.6 L691.0 501.2 L691.4 500.9 L691.8 500.6 L692.2 500.3 L692.6 500.0 L693.0 499.6 L693.4 499.3 L693.8 498.9 L694.2 498.6 L694.6 498.3 L695.0 498.0 L695.4 497.7 L695.8 497.4 L696.2 497.0 L696.6 496.7 L697.0 496.4 L697.4 496.1 L697.8 495.8 L698.2 495.4 L698.6 495.1 L699.0 494.7 L699.4 494.5 L699.8 494.1 L700.2 493.9 L700.6 493.5 L701.0 493.3 L701.4 492.9 L701.8 492.6 L702.2 492.3 L702.6 492.0 L703.0 491.7 L703.4 491.3 L703.8 491.1 L704.2 490.8 L704.6 490.5 L705.0 490.2 L705.4 489.9 L705.8 489.7 L706.2 489.4 L706.6 489.1 L707.0 488.9 L707.4 488.5 L707.8 488.3 L708.2 488.1 L708.6 487.8 L709.0 487.4 L709.4 487.2 L709.8 486.9 L710.2 486.8 L710.6 486.5 L711.0 486.2 L711.4 486.0 L711.8 485.7 L712.2 485.5 L712.6 485.2 L713.0 485.0 L713.4 484.8 L713.8 484.5 L714.2 484.3 L714.6 484.0 L715.0 483.8 L715.4 483.7 L715.8 483.5 L716.2 483.2 L716.6 483.0 L717.0 482.6 L717.4 482.5 L717.8 482.3 L718.2 482.1 L718.6 481.9 L719.0 481.8 L719.4 481.5 L719.8 481.4 L720.2 481.2 L720.6 481.0 L721.0 480.7 L721.4 480.5 L721.8 480.4 L722.2 480.2 L722.6 479.9 L723.0 479.8 L723.4 479.5 L723.8 479.3 L724.2 479.2 L724.6 478.9 L725.0 478.8 L725.4 478.6 L725.8 478.3 L726.2 478.2 L726.6 477.9 L727.0 477.7 L727.4 477.6 L727.8 477.4 L728.2 477.2 L728.6 476.9 L729.0 476.8 L729.4 476.5 L729.8 476.4 L730.2 476.0 L730.6 475.9 L731.0 475.6 L731.4 475.5 L731.8 475.2 L732.2 474.9 L732.6 474.7 L733.0 474.5 L733.4 474.3 L733.8 474.1 L734.2 473.7 L734.6 473.5 L735.0 473.2 L735.4 473.1 L735.8 472.7 L736.2 472.5 L736.6 472.2 L737.0 471.9 L737.4 471.6 L737.8 471.3 L738.2 471.1 L738.6 470.8 L739.0 470.5 L739.4 470.2 L739.8 469.9 L740.2 469.6 L740.6 469.3 L741.0 468.9 L741.4 468.5 L741.8 468.1 L742.2 467.9 L742.6 467.5 L743.0 467.1 L743.4 466.8 L743.8 466.6 L744.2 466.1 L744.6 465.8 L745.0 465.4 L745.4 465.0 L745.8 464.6 L746.2 464.3 L746.6 463.9 L747.0 463.5 L747.4 463.1 L747.8 462.7 L748.2 462.3 L748.6 461.8 L749.0 461.4 L749.4 461.0 L749.8 460.6 L750.2 460.2 L750.6 459.7 L751.0 459.3 L751.4 458.8 L751.8 458.4 L752.2 457.9 L752.6 457.5 L753.0 457.0 L753.4 456.5 L753.8 456.0 L754.2 455.5 L754.6 455.0 L755.0 454.5 L755.4 454.0 L755.8 453.6 L756.2 453.0 L756.6 452.5 L757.0 452.0 L757.4 451.4 L757.8 451.0 L758.2 450.4 L758.6 449.8 L759.0 449.2 L759.4 448.6 L759.8 448.0 L760.2 447.4 L760.6 446.9 L761.0 446.3 L761.4 445.7 L761.8 445.0 L762.2 444.4 L762.6 443.8 L763.0 443.2 L763.4 442.6 L763.8 442.0 L764.2 441.4 L764.6 440.8 L765.0 440.1 L765.4 439.3 L765.8 438.7 L766.2 438.1 L766.6 437.4 L767.0 436.8 L767.4 436.1 L767.8 435.3 L768.2 434.8 L768.6 434.1 L769.0 433.3 L769.4 432.7 L769.8 432.1 L770.2 431.3 L770.6 430.6 L771.0 430.0 L771.4 429.2 L771.8 428.5 L772.2 427.9 L772.6 427.3 L773.0 426.5 L773.4 425.9 L773.8 425.2 L774.2 424.5 L774.6 423.8 L775.0 423.1 L775.4 422.4 L775.8 421.8 L776.2 421.1 L776.6 420.4 L777.0 419.7 L777.4 419.1 L777.8 418.3 L778.2 417.8 L778.6 417.0 L779.0 416.4 L779.4 415.6 L779.8 414.9 L780.2 414.3 L780.6 413.6 L781.0 412.8 L781.4 412.1 L781.8 411.4 L782.2 410.7 L782.6 410.1 L783.0 409.3 L783.4 408.8 L783.8 408.1 L784.2 407.3 L784.6 406.7 L785.0 406.0 L785.4 405.3 L785.8 404.4 L786.2 403.8 L786.6 403.2 L787.0 402.4 L787.4 401.8 L787.8 401.0 L788.2 400.4 L788.6 399.6 L789.0 398.9 L789.4 398.1 L789.8 397.5 L790.2 396.7 L790.6 396.1 L791.0 395.3 L791.4 394.6 L791.8 393.9 L792.2 393.1 L792.6 392.4 L793.0 391.7 L793.4 390.9 L793.8 390.3 L794.2 389.4 L794.6 388.7 L795.0 388.1 L795.4 387.3 L795.8 386.6 L796.2 385.9 L796.6 385.0 L797.0 384.4 L797.4 383.7 L797.8 383.0 L798.2 382.3 L798.6 381.6 L799.0 380.8 L799.4 380.1 L799.8 379.4 L800.2 378.7 L800.6 377.9 L801.0 377.3 L801.4 376.5 L801.8 375.8 L802.2 375.1 L802.6 374.3 L803.0 373.7 L803.4 372.9 L803.8 372.2 L804.2 371.5 L804.6 370.8 L805.0 370.1 L805.4 369.4 L805.8 368.7 L806.2 368.0 L806.6 367.3 L807.0 366.6 L807.4 365.9 L807.8 365.2 L808.2 364.5 L808.6 363.8 L809.0 363.1 L809.4 362.6 L809.8 361.9 L810.2 361.3 L810.6 360.6 L811.0 360.0 L811.4 359.4 L811.8 358.8 L812.2 358.3 L812.6 357.6 L813.0 357.1 L813.4 356.5 L813.8 356.0 L814.2 355.4 L814.6 354.9 L815.0 354.3 L815.4 353.8 L815.8 353.3 L816.2 352.6 L816.6 352.1 L817.0 351.7 L817.4 351.2 L817.8 350.6 L818.2 350.2 L818.6 349.6 L819.0 349.0 L819.4 348.6 L819.8 348.1 L820.2 347.4 L820.6 347.1 L821.0 346.4 L821.4 346.1 L821.8 345.5 L822.2 345.1 L822.6 344.5 L823.0 344.0 L823.4 343.4 L823.8 343.1 L824.2 342.4 L824.6 342.1 L825.0 341.5 L825.4 340.9 L825.8 340.7 L826.2 340.1 L826.6 339.7 L827.0 339.3 L827.4 338.7 L827.8 338.4 L828.2 337.9 L828.6 337.5 L829.0 337.2 L829.4 336.6 L829.8 336.2 L830.2 335.9 L830.6 335.6 L831.0 335.1 L831.4 334.8 L831.8 333.9 L832.2 333.8 L832.6 333.6 L833.0 333.5 L833.4 333.0 L833.8 332.5 L834.2 332.2 L834.6 332.1 L835.0 331.7 L835.4 331.1 L835.8 330.7 L836.2 331.0 L836.6 330.5 L837.0 330.2 L837.4 330.0 L837.8 329.7 L838.2 329.4 L838.6 329.2 L839.0 328.6 L839.4 328.7 L839.8 328.4 L840.2 328.5 L840.6 328.3 L841.0 328.5 L841.4 327.7 L841.8 327.6 L842.2 327.7 L842.6 327.4 L843.0 326.9 L843.4 327.2 L843.8 326.6 L844.2 326.9 L844.6 326.6 L845.0 326.2 L845.4 326.4 L845.8 326.5 L846.2 326.4 L846.6 326.3 L847.0 325.7 L847.4 325.8 L847.8 326.1 L848.2 325.9 L848.6 325.9 L849.0 325.9 L849.4 325.9 L849.8 326.0 L850.2 324.6 L850.6 325.2 L851.0 325.8 L851.4 325.6 L851.8 325.4 L852.2 325.8 L852.6 325.7 L853.0 325.9 L853.4 325.6 L853.8 326.3 L854.2 326.3 L854.6 326.5 L855.0 326.1 L855.4 326.6 L855.8 327.1 L856.2 327.3 L856.6 327.3 L857.0 327.4 L857.4 327.9 L857.8 328.9 L858.2 328.5 L858.6 328.5 L859.0 329.0 L859.4 329.3 L859.8 329.5 L860.2 330.0 L860.6 330.1 L861.0 330.9 L861.4 331.0 L861.8 331.4 L862.2 331.9 L862.6 332.3 L863.0 332.7 L863.4 333.3 L863.8 333.6 L864.2 334.2 L864.6 334.7 L865.0 335.2 L865.4 335.6 L865.8 336.4 L866.2 337.1 L866.6 337.3 L867.0 338.1 L867.4 338.5 L867.8 339.1 L868.2 339.6 L868.6 340.3 L869.0 340.9 L869.4 341.6 L869.8 342.2 L870.2 343.6 L870.6 343.5 L871.0 344.4 L871.4 345.1 L871.8 345.5 L872.2 346.3 L872.6 347.3 L873.0 347.7 L873.4 348.9 L873.8 349.3 L874.2 350.3 L874.6 351.3 L875.0 352.3 L875.4 353.4 L875.8 354.2 L876.2 355.4 L876.6 356.4 L877.0 357.5 L877.4 358.7 L877.8 359.9 L878.2 361.1 L878.6 362.5 L879.0 363.7 L879.4 365.2 L879.8 366.7 L880.2 367.8 L880.6 369.3 L881.0 370.5 L881.4 371.9 L881.8 373.4 L882.2 374.7 L882.6 376.1 L883.0 377.5 L883.4 378.7 L883.8 380.1 L884.2 381.5 L884.6 382.8 L885.0 384.2 L885.4 385.3 L885.8 386.8 L886.2 388.1 L886.6 389.4 L887.0 390.7 L887.4 392.0 L887.8 393.3 L888.2 394.7 L888.6 395.9 L889.0 397.1 L889.4 398.4 L889.8 399.7 L890.2 401.0 L890.6 402.2 L891.0 403.5 L891.4 404.7 L891.8 406.0 L892.2 407.2 L892.6 408.4 L893.0 409.6 L893.4 410.9 L893.8 412.1 L894.2 413.3 L894.6 414.6 L895.0 415.8 L895.4 417.0 L895.8 418.2 L896.2 419.5 L896.6 420.7 L897.0 421.9 L897.4 423.1 L897.8 424.4 L898.2 425.6 L898.6 426.8 L899.0 428.1 L899.4 429.4 L899.8 430.7 L900.2 431.9 L900.6 433.3 L901.0 434.6 L901.4 435.9 L901.8 437.1 L902.2 438.4 L902.6 439.6 L903.0 440.8 L903.4 442.0 L903.8 443.1 L904.2 444.3 L904.6 445.5 L905.0 446.4 L905.4 447.4 L905.8 448.5 L906.2 449.3 L906.6 450.3 L907.0 451.1 L907.4 452.0 L907.8 452.8 L908.2 453.6 L908.6 454.3 L909.0 455.1 L909.4 455.9 L909.8 456.6 L910.2 457.3 L910.6 458.0 L911.0 458.7 L911.4 459.3 L911.8 460.0 L912.2 460.6 L912.6 461.2 L913.0 462.0 L913.4 462.5 L913.8 463.3 L914.2 463.9 L914.6 464.5 L915.0 465.2 L915.4 465.8 L915.8 466.5 L916.2 467.1 L916.6 467.7 L917.0 468.4 L917.4 469.0 L917.8 469.6 L918.2 470.2 L918.6 470.8 L919.0 471.4 L919.4 471.9 L919.8 472.5 L920.2 472.6 L920.6 473.7 L921.0 474.3 L921.4 474.9 L921.8 475.3 L922.2 476.0 L922.6 476.3 L923.0 476.9 L923.4 477.4 L923.8 478.0 L924.2 478.5 L924.6 479.0 L925.0 479.4 L925.4 480.1 L925.8 480.4 L926.2 480.8 L926.6 481.1 L927.0 481.6 L927.4 482.0 L927.8 482.4 L928.2 482.8 L928.6 483.2 L929.0 483.2 L929.4 484.1 L929.8 484.5 L930.2 484.9 L930.6 485.3 L931.0 485.8"/>
<path stroke="#000000" stroke-miterlimit="3" d="M200.5 630.5 L200.9 630.1 L201.3 629.9 L201.7 629.7 L202.1 629.4 L202.5 628.8 L202.9 628.5 L203.3 628.4 L203.7 628.0 L204.1 627.7 L204.5 627.2 L204.9 627.1 L205.3 626.4 L205.7 626.7 L206.1 626.4 L206.5 626.4 L206.9 626.1 L207.3 625.8 L207.7 625.7 L208.1 625.6 L208.5 625.5 L208.9 625.4 L209.3 625.2 L209.7 624.8 L210.1 625.0 L210.5 624.4 L210.9 624.1 L211.3 624.6 L211.7 624.4 L212.1 624.1 L212.5 624.0 L212.9 624.3 L213.3 624.2 L213.7 623.9 L214.1 623.9 L214.5 624.1 L214.9 624.3 L215.3 624.5 L215.7 624.0 L216.1 624.1 L216.5 623.8 L216.9 624.0 L217.3 623.5 L217.7 623.6 L218.1 624.2 L218.5 624.1 L218.9 623.9 L219.3 623.5 L219.7 624.0 L220.1 623.9 L220.5 623.8 L220.9 624.0 L221.3 624.3 L221.7 623.9 L222.1 624.4 L222.5 624.1 L222.9 624.2 L223.3 624.0 L223.7 623.7 L224.1 624.2 L224.5 623.8 L224.9 624.2 L225.3 624.2 L225.7 624.0 L226.1 623.8 L226.5 623.9 L226.9 624.1 L227.3 623.8 L227.7 623.4 L228.1 623.7 L228.5 624.2 L228.9 624.1 L229.3 623.8 L229.7 623.9 L230.1 623.9 L230.5 624.5 L230.9 623.3 L231.3 623.8 L231.7 624.0 L232.1 624.1 L232.5 623.9 L232.9 624.1 L233.3 624.0 L233.7 623.9 L234.1 623.9 L234.5 624.0 L234.9 624.0 L235.3 624.1 L235.7 624.3 L236.1 624.0 L236.5 624.2 L236.9 624.2 L237.3 623.9 L237.7 623.6 L238.1 624.0 L238.5 624.1 L238.9 624.3 L239.3 623.6 L239.7 624.2 L240.1 624.0 L240.5 624.1 L240.9 624.3 L241.3 624.1 L241.7 624.2 L242.1 624.1 L242.5 623.8 L242.9 624.1 L243.3 624.0 L243.7 624.1 L244.1 623.2 L244.5 624.2 L244.9 624.1 L245.3 624.0 L245.7 624.0 L246.1 624.3 L246.5 624.1 L246.9 624.2 L247.3 624.2 L247.7 624.0 L248.1 624.1 L248.5 624.2 L248.9 624.0 L249.3 624.2 L249.7 624.1 L250.1 624.3 L250.5 624.1 L250.9 624.1 L251.3 623.9 L251.7 624.0 L252.1 624.2 L252.5 624.3 L252.9 623.7 L253.3 624.0 L253.7 624.1 L254.1 624.2 L254.5 623.9 L254.9 623.9 L255.3 624.0 L255.7 624.2 L256.1 624.2 L256.5 624.0 L256.9 624.2 L257.3 624.0 L257.7 624.0 L258.1 624.3 L258.5 624.1 L258.9 624.2 L259.3 624.2 L259.7 624.0 L260.1 624.0 L260.5 624.1 L260.9 624.1 L261.3 625.3 L261.7 624.2 L262.1 624.1 L262.5 623.9 L262.9 624.0 L263.3 624.5 L263.7 623.8 L264.1 623.8 L264.5 624.2 L264.9 624.2 L265.3 624.0 L265.7 624.1 L266.1 624.1 L266.5 624.1 L266.9 624.3 L267.3 624.3 L267.7 624.6 L268.1 624.4 L268.5 624.2 L268.9 624.1 L269.3 624.3 L269.7 624.2 L270.1 624.2 L270.5 624.3 L270.9 624.1 L271.3 624.0 L271.7 624.3 L272.1 624.5 L272.5 624.0 L272.9 624.3 L273.3 624.0 L273.7 623.9 L274.1 624.5 L274.5 624.3 L274.9 624.1 L275.3 624.2 L275.7 624.2 L276.1 624.0 L276.5 624.0 L276.9 623.9 L277.3 624.3 L277.7 624.3 L278.1 624.5 L278.5 624.2 L278.9 624.5 L279.3 624.2 L279.7 624.4 L280.1 624.5 L280.5 624.1 L280.9 624.2 L281.3 624.1 L281.7 624.1 L282.1 624.2 L282.5 624.4 L282.9 624.5 L283.3 624.1 L283.7 624.2 L284.1 624.6 L284.5 624.1 L284.9 624.2 L285.3 624.6 L285.7 624.2 L286.1 624.4 L286.5 624.3 L286.9 623.9 L287.3 624.3 L287.7 623.8 L288.1 623.9 L288.5 624.5 L288.9 624.3 L289.3 624.2 L289.7 624.4 L290.1 624.5 L290.5 624.3 L290.9 623.9 L291.3 624.0 L291.7 624.4 L292.1 624.2 L292.5 624.5 L292.9 624.0 L293.3 624.3 L293.7 623.8 L294.1 624.3 L294.5 624.3 L294.9 624.4 L295.3 623.8 L295.7 624.0 L296.1 624.1 L296.5 624.3 L296.9 624.5 L297.3 624.5 L297.7 623.9 L298.1 624.1 L298.5 624.5 L298.9 624.4 L299.3 623.9 L299.7 624.3 L300.1 624.3 L300.5 624.4 L300.9 624.2 L301.3 624.3 L301.7 624.4 L302.1 624.3 L302.5 624.4 L302.9 624.4 L303.3 624.4 L303.7 624.2 L304.1 624.4 L304.5 624.4 L304.9 624.1 L305.3 624.0 L305.7 624.3 L306.1 624.4 L306.5 624.1 L306.9 624.3 L307.3 624.7 L307.7 623.8 L308.1 624.3 L308.5 624.3 L308.9 624.3 L309.3 624.2 L309.7 624.3 L310.1 624.2 L310.5 624.1 L310.9 624.4 L311.3 624.6 L311.7 624.2 L312.1 624.4 L312.5 624.5 L312.9 624.0 L313.3 624.2 L313.7 624.1 L314.1 624.2 L314.5 624.5 L314.9 624.1 L315.3 624.5 L315.7 624.7 L316.1 624.1 L316.5 624.3 L316.9 624.4 L317.3 624.0 L317.7 623.8 L318.1 624.3 L318.5 624.1 L318.9 624.3 L319.3 624.1 L319.7 624.1 L320.1 624.1 L320.5 624.3 L320.9 624.4 L321.3 624.3 L321.7 624.3 L322.1 624.0 L322.5 624.6 L322.9 624.5 L323.3 624.6 L323.7 624.2 L324.1 624.1 L324.5 624.4 L324.9 624.0 L325.3 624.2 L325.7 624.2 L326.1 624.2 L326.5 623.9 L326.9 624.4 L327.3 624.0 L327.7 624.3 L328.1 624.2 L328.5 623.9 L328.9 624.4 L329.3 624.2 L329.7 624.6 L330.1 624.6 L330.5 624.1 L330.9 623.8 L331.3 624.2 L331.7 624.4 L332.1 624.2 L332.5 624.6 L332.9 624.3 L333.3 624.1 L333.7 624.2 L334.1 624.3 L334.5 624.5 L334.9 624.1 L335.3 624.3 L335.7 624.4 L336.1 624.2 L336.5 624.3 L336.9 624.4 L337.3 624.4 L337.7 624.4 L338.1 624.1 L338.5 624.0 L338.9 624.1 L339.3 624.2 L339.7 624.4 L340.1 624.2 L340.5 624.2 L340.9 624.2 L341.3 624.3 L341.7 624.2 L342.1 624.5 L342.5 624.4 L342.9 624.3 L343.3 624.1 L343.7 624.6 L344.1 624.6 L344.5 624.5 L344.9 624.4 L345.3 624.2 L345.7 624.2 L346.1 624.2 L346.5 624.4 L346.9 624.4 L347.3 623.9 L347.7 624.4 L348.1 623.9 L348.5 624.1 L348.9 624.5 L349.3 624.3 L349.7 624.2 L350.1 623.7 L350.5 624.4 L350.9 624.2 L351.3 624.2 L351.7 624.0 L352.1 624.5 L352.5 624.3 L352.9 623.6 L353.3 624.4 L353.7 624.4 L354.1 624.1 L354.5 624.1 L354.9 624.3 L355.3 624.3 L355.7 624.1 L356.1 624.2 L356.5 624.0 L356.9 623.9 L357.3 624.4 L357.7 624.4 L358.1 624.0 L358.5 624.3 L358.9 624.3 L359.3 624.6 L359.7 624.5 L360.1 624.6 L360.5 624.2 L360.9 624.5 L361.3 624.1 L361.7 624.1 L362.1 624.7 L362.5 624.1 L362.9 624.6 L363.3 624.2 L363.7 623.4 L364.1 624.7 L364.5 623.9 L364.9 624.3 L365.3 624.4 L365.7 624.1 L366.1 624.1 L366.5 624.1 L366.9 624.7 L367.3 623.9 L367.7 624.0 L368.1 624.2 L368.5 624.0 L368.9 624.4 L369.3 624.1 L369.7 624.2 L370.1 624.3 L370.5 624.1 L370.9 624.3 L371.3 624.0 L371.7 624.2 L372.1 624.4 L372.5 624.5 L372.9 624.0 L373.3 624.0 L373.7 624.7 L374.1 624.5 L374.5 623.9 L374.9 624.5 L375.3 624.3 L375.7 624.4 L376.1 624.6 L376.5 624.3 L376.9 624.4 L377.3 624.2 L377.7 624.6 L378.1 624.4 L378.5 624.5 L378.9 624.4 L379.3 624.0 L379.7 624.3 L380.1 624.3 L380.5 624.3 L380.9 624.1 L381.3 624.2 L381.7 624.2 L382.1 624.0 L382.5 624.3 L382.9 624.1 L383.3 624.5 L383.7 624.2 L384.1 623.9 L384.5 624.3 L384.9 623.8 L385.3 624.8 L385.7 624.1 L386.1 624.2 L386.5 624.2 L386.9 624.4 L387.3 624.2 L387.7 623.8 L388.1 624.5 L388.5 624.4 L388.9 624.1 L389.3 624.2 L389.7 624.2 L390.1 624.1 L390.5 624.3 L390.9 624.1 L391.3 624.2 L391.7 624.4 L392.1 624.4 L392.5 624.6 L392.9 624.3 L393.3 624.4 L393.7 624.4 L394.1 624.2 L394.5 623.9 L394.9 624.1 L395.3 623.9 L395.7 624.3 L396.1 624.6 L396.5 624.4 L396.9 624.7 L397.3 624.4 L397.7 624.8 L398.1 624.6 L398.5 624.4 L398.9 624.6 L399.3 624.2 L399.7 624.9 L400.1 624.4 L400.5 624.6 L400.9 624.4 L401.3 624.4 L401.7 624.3 L402.1 624.2 L402.5 624.4 L402.9 624.4 L403.3 624.2 L403.7 624.5 L404.1 624.6 L404.5 623.9 L404.9 624.4 L405.3 624.1 L405.7 624.2 L406.1 624.3 L406.5 624.4 L406.9 624.4 L407.3 624.4 L407.7 624.3 L408.1 624.2 L408.5 624.4 L408.9 624.6 L409.3 624.4 L409.7 624.3 L410.1 624.3 L410.5 624.0 L410.9 624.3 L411.3 624.2 L411.7 624.3 L412.1 624.2 L412.5 624.6 L412.9 624.5 L413.3 624.7 L413.7 624.2 L414.1 624.4 L414.5 624.2 L414.9 624.1 L415.3 624.4 L415.7 624.1 L416.1 624.7 L416.5 624.2 L416.9 624.4 L417.3 623.7 L417.7 624.2 L418.1 624.2 L418.5 624.1 L418.9 624.4 L419.3 624.3 L419.7 624.2 L420.1 624.3 L420.5 624.4 L420.9 624.1 L421.3 624.3 L421.7 623.9 L422.1 624.1 L422.5 624.2 L422.9 624.2 L423.3 624.5 L423.7 624.0 L424.1 624.3 L424.5 624.1 L424.9 624.1 L425.3 624.1 L425.7 624.0 L426.1 624.3 L426.5 624.3 L426.9 624.0 L427.3 624.3 L427.7 624.2 L428.1 623.8 L428.5 624.2 L428.9 624.1 L429.3 624.0 L429.7 624.3 L430.1 623.8 L430.5 624.0 L430.9 623.8 L431.3 624.3 L431.7 624.0 L432.1 624.3 L432.5 624.1 L432.9 624.2 L433.3 624.1 L433.7 624.1 L434.1 623.8 L434.5 624.1 L434.9 624.2 L435.3 624.0 L435.7 624.0 L436.1 623.9 L436.5 624.4 L436.9 624.4 L437.3 624.1 L437.7 624.2 L438.1 624.1 L438.5 624.1 L438.9 624.4 L439.3 624.2 L439.7 624.1 L440.1 624.1 L440.5 624.2 L440.9 624.2 L441.3 624.0 L441.7 624.1 L442.1 624.2 L442.5 624.1 L442.9 624.0 L443.3 624.1 L443.7 624.1 L444.1 624.1 L444.5 624.0 L444.9 624.1 L445.3 624.0 L445.7 623.9 L446.1 623.9 L446.5 624.0 L446.9 623.9 L447.3 623.9 L447.7 624.2 L448.1 623.8 L448.5 623.9 L448.9 624.2 L449.3 623.9 L449.7 624.0 L450.1 623.8 L450.5 624.0 L450.9 623.7 L451.3 624.1 L451.7 623.9 L452.1 624.1 L452.5 623.9 L452.9 623.8 L453.3 623.9 L453.7 624.2 L454.1 624.1 L454.5 623.9 L454.9 624.2 L455.3 623.7 L455.7 623.9 L456.1 624.1 L456.5 623.8 L456.9 624.0 L457.3 623.9 L457.7 624.1 L458.1 624.0 L458.5 623.9 L458.9 624.1 L459.3 623.8 L459.7 623.7 L460.1 623.8 L460.5 623.6 L460.9 623.9 L461.3 624.0 L461.7 624.2 L462.1 623.9 L462.5 624.1 L462.9 623.7 L463.3 623.8 L463.7 624.2 L464.1 623.8 L464.5 624.0 L464.9 624.0 L465.3 623.8 L465.7 624.0 L466.1 623.8 L466.5 623.7 L466.9 624.1 L467.3 623.8 L467.7 624.0 L468.1 623.9 L468.5 624.1 L468.9 623.7 L469.3 623.8 L469.7 623.9 L470.1 623.9 L470.5 624.0 L470.9 623.8 L471.3 623.6 L471.7 624.0 L472.1 623.7 L472.5 623.6 L472.9 623.6 L473.3 623.7 L473.7 623.4 L474.1 623.7 L474.5 623.6 L474.9 623.9 L475.3 623.8 L475.7 623.7 L476.1 623.3 L476.5 623.5 L476.9 623.6 L477.3 623.7 L477.7 623.4 L478.1 623.8 L478.5 623.4 L478.9 623.8 L479.3 623.5 L479.7 623.4 L480.1 623.6 L480.5 623.4 L480.9 623.5 L481.3 623.5 L481.7 623.4 L482.1 623.4 L482.5 623.7 L482.9 623.5 L483.3 623.3 L483.7 624.2 L484.1 623.5 L484.5 623.6 L484.9 623.3 L485.3 623.3 L485.7 623.4 L486.1 623.4 L486.5 623.3 L486.9 623.5 L487.3 623.0 L487.7 623.3 L488.1 623.2 L488.5 623.2 L488.9 623.2 L489.3 623.5 L489.7 623.1 L490.1 622.9 L490.5 623.3 L490.9 623.1 L491.3 623.1 L491.7 623.2 L492.1 623.3 L492.5 622.9 L492.9 623.0 L493.3 623.1 L493.7 622.9 L494.1 623.0 L494.5 622.8 L494.9 622.8 L495.3 623.0 L495.7 622.5 L496.1 622.9 L496.5 622.5 L496.9 623.1 L497.3 622.9 L497.7 623.0 L498.1 622.9 L498.5 622.6 L498.9 622.7 L499.3 622.6 L499.7 622.7 L500.1 622.6 L500.5 622.7 L500.9 622.5 L501.3 622.6 L501.7 622.4 L502.1 622.5 L502.5 622.4 L502.9 622.5 L503.3 622.5 L503.7 622.6 L504.1 622.3 L504.5 622.5 L504.9 622.3 L505.3 622.5 L505.7 622.3 L506.1 622.2 L506.5 622.2 L506.9 622.3 L507.3 622.2 L507.7 622.4 L508.1 622.3 L508.5 622.4 L508.9 622.2 L509.3 622.1 L509.7 622.1 L510.1 622.2 L510.5 622.0 L510.9 621.6 L511.3 621.8 L511.7 622.0 L512.1 621.7 L512.5 621.8 L512.9 622.0 L513.3 621.6 L513.7 621.8 L514.1 621.6 L514.5 621.4 L514.9 621.5 L515.3 621.5 L515.7 621.5 L516.1 621.4 L516.5 621.4 L516.9 621.4 L517.3 621.3 L517.7 621.4 L518.1 621.2 L518.5 621.2 L518.9 621.2 L519.3 621.3 L519.7 621.0 L520.1 621.7 L520.5 621.1 L520.9 621.0 L521.3 620.9 L521.7 621.0 L522.1 620.7 L522.5 620.8 L522.9 620.7 L523.3 620.8 L523.7 620.6 L524.1 620.7 L524.5 620.5 L524.9 620.6 L525.3 620.7 L525.7 620.6 L526.1 620.7 L526.5 620.2 L526.9 620.2 L527.3 620.6 L527.7 620.4 L528.1 620.2 L528.5 620.4 L528.9 620.3 L529.3 620.3 L529.7 620.3 L530.1 620.3 L530.5 620.2 L530.9 620.1 L531.3 620.1 L531.7 620.2 L532.1 620.0 L532.5 620.0 L532.9 619.9 L533.3 619.9 L533.7 619.9 L534.1 619.8 L534.5 619.8 L534.9 619.9 L535.3 619.9 L535.7 619.7 L536.1 619.6 L536.5 619.8 L536.9 619.4 L537.3 619.7 L537.7 619.6 L538.1 619.4 L538.5 619.4 L538.9 619.3 L539.3 619.4 L539.7 619.2 L540.1 619.2 L540.5 619.3 L540.9 619.2 L541.3 619.2 L541.7 619.1 L542.1 619.1 L542.5 619.1 L542.9 619.0 L543.3 619.1 L543.7 619.0 L544.1 619.1 L544.5 618.9 L544.9 619.0 L545.3 618.9 L545.7 618.8 L546.1 618.7 L546.5 618.8 L546.9 618.6 L547.3 618.5 L547.7 618.5 L548.1 618.5 L548.5 618.5 L548.9 618.4 L549.3 618.5 L549.7 618.5 L550.1 618.4 L550.5 618.4 L550.9 618.4 L551.3 618.3 L551.7 618.2 L552.1 618.1 L552.5 618.0 L552.9 618.0 L553.3 618.1 L553.7 618.0 L554.1 618.1 L554.5 617.8 L554.9 617.7 L555.3 617.8 L555.7 617.5 L556.1 617.7 L556.5 617.5 L556.9 617.6 L557.3 617.6 L557.7 617.4 L558.1 617.6 L558.5 617.5 L558.9 617.4 L559.3 617.2 L559.7 617.2 L560.1 617.2 L560.5 617.2 L560.9 617.1 L561.3 616.9 L561.7 617.0 L562.1 617.0 L562.5 616.9 L562.9 616.9 L563.3 616.8 L563.7 616.8 L564.1 616.8 L564.5 616.7 L564.9 616.6 L565.3 616.3 L565.7 615.9 L566.1 616.4 L566.5 616.3 L566.9 616.1 L567.3 616.2 L567.7 616.2 L568.1 616.1 L568.5 615.9 L568.9 615.7 L569.3 615.8 L569.7 615.9 L570.1 615.7 L570.5 615.7 L570.9 615.5 L571.3 615.4 L571.7 615.5 L572.1 615.3 L572.5 615.3 L572.9 615.1 L573.3 615.0 L573.7 615.2 L574.1 614.9 L574.5 614.8 L574.9 614.7 L575.3 614.7 L575.7 614.6 L576.1 614.6 L576.5 614.4 L576.9 614.4 L577.3 614.3 L577.7 614.1 L578.1 613.9 L578.5 613.9 L578.9 613.7 L579.3 613.7 L579.7 613.7 L580.1 613.5 L580.5 613.2 L580.9 613.2 L581.3 613.0 L581.7 612.9 L582.1 612.9 L582.5 612.9 L582.9 612.7 L583.3 612.6 L583.7 612.5 L584.1 612.3 L584.5 612.3 L584.9 612.1 L585.3 612.0 L585.7 611.6 L586.1 611.7 L586.5 611.6 L586.9 611.4 L587.3 611.1 L587.7 611.2 L588.1 610.9 L588.5 610.8 L588.9 610.7 L589.3 610.5 L589.7 610.4 L590.1 610.3 L590.5 610.2 L590.9 610.0 L591.3 609.7 L591.7 609.7 L592.1 609.5 L592.5 609.4 L592.9 609.3 L593.3 609.1 L593.7 609.0 L594.1 608.8 L594.5 608.6 L594.9 608.6 L595.3 608.5 L595.7 608.3 L596.1 608.1 L596.5 608.2 L596.9 607.9 L597.3 607.9 L597.7 607.5 L598.1 607.4 L598.5 607.2 L598.9 607.1 L599.3 607.0 L599.7 606.9 L600.1 606.8 L600.5 606.6 L600.9 606.5 L601.3 606.3 L601.7 606.2 L602.1 606.0 L602.5 605.9 L602.9 605.9 L603.3 605.5 L603.7 605.6 L604.1 605.4 L604.5 605.2 L604.9 605.1 L605.3 605.0 L605.7 604.7 L606.1 604.6 L606.5 604.4 L606.9 604.3 L607.3 604.2 L607.7 604.0 L608.1 603.8 L608.5 603.6 L608.9 603.6 L609.3 603.4 L609.7 603.2 L610.1 603.0 L610.5 602.8 L610.9 602.6 L611.3 602.4 L611.7 602.3 L612.1 602.0 L612.5 601.8 L612.9 601.7 L613.3 601.5 L613.7 601.2 L614.1 600.9 L614.5 600.8 L614.9 600.6 L615.3 600.3 L615.7 600.1 L616.1 599.8 L616.5 599.6 L616.9 599.3 L617.3 599.1 L617.7 598.9 L618.1 598.7 L618.5 598.4 L618.9 598.1 L619.3 597.9 L619.7 597.6 L620.1 597.3 L620.5 597.1 L620.9 596.8 L621.3 596.7 L621.7 596.3 L622.1 596.0 L622.5 595.7 L622.9 595.3 L623.3 595.2 L623.7 594.9 L624.1 594.5 L624.5 594.3 L624.9 594.1 L625.3 593.7 L625.7 593.3 L626.1 593.0 L626.5 592.8 L626.9 592.4 L627.3 592.0 L627.7 591.8 L628.1 591.5 L628.5 591.0 L628.9 590.6 L629.3 590.4 L629.7 590.0 L630.1 589.7 L630.5 589.3 L630.9 588.8 L631.3 588.4 L631.7 588.1 L632.1 587.6 L632.5 587.2 L632.9 586.7 L633.3 586.4 L633.7 585.9 L634.1 585.4 L634.5 585.1 L634.9 584.6 L635.3 584.1 L635.7 583.7 L636.1 583.1 L636.5 582.7 L636.9 582.3 L637.3 581.7 L637.7 581.2 L638.1 580.6 L638.5 580.2 L638.9 579.6 L639.3 579.1 L639.7 578.6 L640.1 578.0 L640.5 577.5 L640.9 576.9 L641.3 576.3 L641.7 575.8 L642.1 575.1 L642.5 574.7 L642.9 574.0 L643.3 573.4 L643.7 572.8 L644.1 572.2 L644.5 571.4 L644.9 571.0 L645.3 570.3 L645.7 569.6 L646.1 569.0 L646.5 568.3 L646.9 567.6 L647.3 567.0 L647.7 566.4 L648.1 565.8 L648.5 564.9 L648.9 564.4 L649.3 563.7 L649.7 563.1 L650.1 562.3 L650.5 561.6 L650.9 561.0 L651.3 560.3 L651.7 559.7 L652.1 559.0 L652.5 558.2 L652.9 557.6 L653.3 556.8 L653.7 556.1 L654.1 555.5 L654.5 554.7 L654.9 554.2 L655.3 553.4 L655.7 552.8 L656.1 552.1 L656.5 551.4 L656.9 550.9 L657.3 550.3 L657.7 549.5 L658.1 548.9 L658.5 548.4 L658.9 547.7 L659.3 547.2 L659.7 546.7 L660.1 546.1 L660.5 545.7 L660.9 545.1 L661.3 544.7 L661.7 544.2 L662.1 543.6 L662.5 543.2 L662.9 542.8 L663.3 542.2 L663.7 541.8 L664.1 541.3 L664.5 540.7 L664.9 540.3 L665.3 539.9 L665.7 539.3 L666.1 538.8 L666.5 538.1 L666.9 537.7 L667.3 537.1 L667.7 536.6 L668.1 536.2 L668.5 535.7 L668.9 535.1 L669.3 534.6 L669.7 534.0 L670.1 533.4 L670.5 532.8 L670.9 532.3 L671.3 531.8 L671.7 531.3 L672.1 530.8 L672.5 530.3 L672.9 529.7 L673.3 529.1 L673.7 528.6 L674.1 528.1 L674.5 527.4 L674.9 526.9 L675.3 526.4 L675.7 525.8 L676.1 525.4 L676.5 524.7 L676.9 524.2 L677.3 523.6 L677.7 523.1 L678.1 522.5 L678.5 521.9 L678.9 521.4 L679.3 520.9 L679.7 520.4 L680.1 519.7 L680.5 519.3 L680.9 518.7 L681.3 518.1 L681.7 517.6 L682.1 517.1 L682.5 516.5 L682.9 515.9 L683.3 515.6 L683.7 514.9 L684.1 514.5 L684.5 514.0 L684.9 513.5 L685.3 513.1 L685.7 512.5 L686.1 512.1 L686.5 511.7 L686.9 511.2 L687.3 510.8 L687.7 510.4 L688.1 509.9 L688.5 509.6 L688.9 509.1 L689.3 508.7 L689.7 508.2 L690.1 507.9 L690.5 507.6 L690.9 507.1 L691.3 506.8 L691.7 506.5 L692.1 506.1 L692.5 505.7 L692.9 505.3 L693.3 505.0 L693.7 504.6 L694.1 504.3 L694.5 503.9 L694.9 503.6 L695.3 503.3 L695.7 502.9 L696.1 502.7 L696.5 502.4 L696.9 502.1 L697.3 501.7 L697.7 501.5 L698.1 501.2 L698.5 500.9 L698.9 500.7 L699.3 500.4 L699.7 500.1 L700.1 499.9 L700.5 499.6 L700.9 499.4 L701.3 499.2 L701.7 498.8 L702.1 497.9 L702.5 498.4 L702.9 498.3 L703.3 497.9 L703.7 497.8 L704.1 497.5 L704.5 497.4 L704.9 497.2 L705.3 497.0 L705.7 496.8 L706.1 496.6 L706.5 496.3 L706.9 496.2 L707.3 496.1 L707.7 495.7 L708.1 495.8 L708.5 495.5 L708.9 495.4 L709.3 495.3 L709.7 494.9 L710.1 494.8 L710.5 494.7 L710.9 494.5 L711.3 494.4 L711.7 494.3 L712.1 494.0 L712.5 494.0 L712.9 493.7 L713.3 493.5 L713.7 493.4 L714.1 493.2 L714.5 493.0 L714.9 493.0 L715.3 492.8 L715.7 492.6 L716.1 492.5 L716.5 492.2 L716.9 492.2 L717.3 492.1 L717.7 491.8 L718.1 491.7 L718.5 491.5 L718.9 491.4 L719.3 491.2 L719.7 490.9 L720.1 490.9 L720.5 490.7 L720.9 490.3 L721.3 490.2 L721.7 490.0 L722.1 489.8 L722.5 489.5 L722.9 489.4 L723.3 489.0 L723.7 488.7 L724.1 488.4 L724.5 488.1 L724.9 487.8 L725.3 487.3 L725.7 487.1 L726.1 486.7 L726.5 486.5 L726.9 486.0 L727.3 485.6 L727.7 485.1 L728.1 484.8 L728.5 484.4 L728.9 483.9 L729.3 483.6 L729.7 483.2 L730.1 482.8 L730.5 482.5 L730.9 482.1 L731.3 481.6 L731.7 481.3 L732.1 480.8 L732.5 480.4 L732.9 479.9 L733.3 479.6 L733.7 479.2 L734.1 478.8 L734.5 478.2 L734.9 477.9 L735.3 477.5 L735.7 477.1 L736.1 476.5 L736.5 476.2 L736.9 475.7 L737.3 475.4 L737.7 474.8 L738.1 474.5 L738.5 473.9 L738.9 473.6 L739.3 473.0 L739.7 472.6 L740.1 472.0 L740.5 471.5 L740.9 471.1 L741.3 470.5 L741.7 470.1 L742.1 469.4 L742.5 468.9 L742.9 468.4 L743.3 467.9 L743.7 467.3 L744.1 466.8 L744.5 466.1 L744.9 465.6 L745.3 464.8 L745.7 464.3 L746.1 463.7 L746.5 463.1 L746.9 462.3 L747.3 461.8 L747.7 461.0 L748.1 460.3 L748.5 459.7 L748.9 458.9 L749.3 458.2 L749.7 457.4 L750.1 456.6 L750.5 455.9 L750.9 455.0 L751.3 454.2 L751.7 453.5 L752.1 452.6 L752.5 451.7 L752.9 450.8 L753.3 449.9 L753.7 449.0 L754.1 448.2 L754.5 447.3 L754.9 446.2 L755.3 445.3 L755.7 444.3 L756.1 443.3 L756.5 442.3 L756.9 441.3 L757.3 440.1 L757.7 439.1 L758.1 438.1 L758.5 437.0 L758.9 435.8 L759.3 434.7 L759.7 433.6 L760.1 432.5 L760.5 431.4 L760.9 430.2 L761.3 429.0 L761.7 427.8 L762.1 426.7 L762.5 425.6 L762.9 424.4 L763.3 423.3 L763.7 422.2 L764.1 421.1 L764.5 419.9 L764.9 418.8 L765.3 417.7 L765.7 416.6 L766.1 415.6 L766.5 414.4 L766.9 413.2 L767.3 412.1 L767.7 411.2 L768.1 410.1 L768.5 409.0 L768.9 407.9 L769.3 406.8 L769.7 405.8 L770.1 404.7 L770.5 403.8 L770.9 402.7 L771.3 401.7 L771.7 400.8 L772.1 399.6 L772.5 398.7 L772.9 397.7 L773.3 396.7 L773.7 395.8 L774.1 394.8 L774.5 393.8 L774.9 392.9 L775.3 391.9 L775.7 390.9 L776.1 390.0 L776.5 389.1 L776.9 388.1 L777.3 387.2 L777.7 386.2 L778.1 385.2 L778.5 384.5 L778.9 383.5 L779.3 382.6 L779.7 381.6 L780.1 380.8 L780.5 379.9 L780.9 379.0 L781.3 378.2 L781.7 377.2 L782.1 376.3 L782.5 375.5 L782.9 374.7 L783.3 373.8 L783.7 372.9 L784.1 372.1 L784.5 371.2 L784.9 370.4 L785.3 369.5 L785.7 368.6 L786.1 367.8 L786.5 366.8 L786.9 366.0 L787.3 365.1 L787.7 364.2 L788.1 363.2 L788.5 362.3 L788.9 361.3 L789.3 360.4 L789.7 359.3 L790.1 358.5 L790.5 357.4 L790.9 356.4 L791.3 355.4 L791.7 354.4 L792.1 353.4 L792.5 352.4 L792.9 351.3 L793.3 350.3 L793.7 349.4 L794.1 348.4 L794.5 347.4 L794.9 346.4 L795.3 345.5 L795.7 344.5 L796.1 343.6 L796.5 342.5 L796.9 341.7 L797.3 340.9 L797.7 339.9 L798.1 339.1 L798.5 338.0 L798.9 337.3 L799.3 336.3 L799.7 335.5 L800.1 334.7 L800.5 333.7 L800.9 332.8 L801.3 332.0 L801.7 331.3 L802.1 330.4 L802.5 329.5 L802.9 328.6 L803.3 327.9 L803.7 327.1 L804.1 326.3 L804.5 325.6 L804.9 324.7 L805.3 324.0 L805.7 323.3 L806.1 322.5 L806.5 321.7 L806.9 321.0 L807.3 320.3 L807.7 319.4 L808.1 318.7 L808.5 318.2 L808.9 317.4 L809.3 316.9 L809.7 316.1 L810.1 315.5 L810.5 314.9 L810.9 314.4 L811.3 313.5 L811.7 313.1 L812.1 312.4 L812.5 311.4 L812.9 310.9 L813.3 310.6 L813.7 310.1 L814.1 309.4 L814.5 308.9 L814.9 308.2 L815.3 307.7 L815.7 307.4 L816.1 306.7 L816.5 306.2 L816.9 305.8 L817.3 305.2 L817.7 304.8 L818.1 304.2 L818.5 303.9 L818.9 303.4 L819.3 302.7 L819.7 302.7 L820.1 302.2 L820.5 301.7 L820.9 301.2 L821.3 301.1 L821.7 300.4 L822.1 300.2 L822.5 299.8 L822.9 299.5 L823.3 299.0 L823.7 298.6 L824.1 298.7 L824.5 297.9 L824.9 297.4 L825.3 297.2 L825.7 297.2 L826.1 296.8 L826.5 296.8 L826.9 296.6 L827.3 295.8 L827.7 295.6 L828.1 295.6 L828.5 295.6 L828.9 295.1 L829.3 295.1 L829.7 294.7 L830.1 295.1 L830.5 295.1 L830.9 294.7 L831.3 294.6 L831.7 294.5 L832.1 294.6 L832.5 294.4 L832.9 294.3 L833.3 294.2 L833.7 293.6 L834.1 294.0 L834.5 293.7 L834.9 293.9 L835.3 293.8 L835.7 293.7 L836.1 293.8 L836.5 293.7 L836.9 293.3 L837.3 294.2 L837.7 293.8 L838.1 293.9 L838.5 293.8 L838.9 293.8 L839.3 293.8 L839.7 295.0 L840.1 294.1 L840.5 295.1 L840.9 294.2 L841.3 294.7 L841.7 294.7 L842.1 294.1 L842.5 294.5 L842.9 294.9 L843.3 295.1 L843.7 295.4 L844.1 295.6 L844.5 295.7 L844.9 296.3 L845.3 296.0 L845.7 296.4 L846.1 296.6 L846.5 297.1 L846.9 297.4 L847.3 297.7 L847.7 298.1 L848.1 298.4 L848.5 299.0 L848.9 299.1 L849.3 299.5 L849.7 300.2 L850.1 300.6 L850.5 301.1 L850.9 301.5 L851.3 301.8 L851.7 302.5 L852.1 302.9 L852.5 303.7 L852.9 304.2 L853.3 304.8 L853.7 305.4 L854.1 306.2 L854.5 306.7 L854.9 307.2 L855.3 308.2 L855.7 309.0 L856.1 309.6 L856.5 310.3 L856.9 311.0 L857.3 311.8 L857.7 312.7 L858.1 313.6 L858.5 314.3 L858.9 315.3 L859.3 316.2 L859.7 316.9 L860.1 317.9 L860.5 318.8 L860.9 319.8 L861.3 320.7 L861.7 321.5 L862.1 322.5 L862.5 323.5 L862.9 324.4 L863.3 325.4 L863.7 326.5 L864.1 327.5 L864.5 328.4 L864.9 329.3 L865.3 330.4 L865.7 331.6 L866.1 332.7 L866.5 334.1 L866.9 334.9 L867.3 336.2 L867.7 337.3 L868.1 338.7 L868.5 339.9 L868.9 341.4 L869.3 342.8 L869.7 344.4 L870.1 345.9 L870.5 347.5 L870.9 349.2 L871.3 351.0 L871.7 352.8 L872.1 354.6 L872.5 356.4 L872.9 358.2 L873.3 360.0 L873.7 361.7 L874.1 363.5 L874.5 365.2 L874.9 366.9 L875.3 368.5 L875.7 370.1 L876.1 371.6 L876.5 373.2 L876.9 374.7 L877.3 376.2 L877.7 377.7 L878.1 379.2 L878.5 380.6 L878.9 382.1 L879.3 383.6 L879.7 385.0 L880.1 386.4 L880.5 387.8 L880.9 389.3 L881.3 390.6 L881.7 392.0 L882.1 393.5 L882.5 394.9 L882.9 396.2 L883.3 397.7 L883.7 399.0 L884.1 400.3 L884.5 401.8 L884.9 403.1 L885.3 404.4 L885.7 405.9 L886.1 407.0 L886.5 408.4 L886.9 409.6 L887.3 410.9 L887.7 412.1 L888.1 413.4 L888.5 414.6 L888.9 415.7 L889.3 416.9 L889.7 418.3 L890.1 419.5 L890.5 420.7 L890.9 421.9 L891.3 423.0 L891.7 424.3 L892.1 425.6 L892.5 426.7 L892.9 428.0 L893.3 429.3 L893.7 430.3 L894.1 431.7 L894.5 432.9 L894.9 434.2 L895.3 435.4 L895.7 436.7 L896.1 437.9 L896.5 439.2 L896.9 440.3 L897.3 441.6 L897.7 442.7 L898.1 443.9 L898.5 445.0 L898.9 446.1 L899.3 447.2 L899.7 448.2 L900.1 449.2 L900.5 450.2 L900.9 451.1 L901.3 452.1 L901.7 453.0 L902.1 453.9 L902.5 454.7 L902.9 455.5 L903.3 456.3 L903.7 457.1 L904.1 457.9 L904.5 458.6 L904.9 459.5 L905.3 460.2 L905.7 461.0 L906.1 461.7 L906.5 462.4 L906.9 463.1 L907.3 463.8 L907.7 464.5 L908.1 465.2 L908.5 466.0 L908.9 466.6 L909.3 467.2 L909.7 467.9 L910.1 468.5 L910.5 469.1 L910.9 469.8 L911.3 470.4 L911.7 471.0 L912.1 471.5 L912.5 472.1 L912.9 472.6 L913.3 473.1 L913.7 473.6 L914.1 474.1 L914.5 474.6 L914.9 475.1 L915.3 475.5 L915.7 476.1 L916.1 476.5 L916.5 477.0 L916.9 477.5 L917.3 477.8 L917.7 478.3 L918.1 478.7 L918.5 479.0 L918.9 479.5 L919.3 479.7 L919.7 480.2 L920.1 480.7 L920.5 481.0 L920.9 481.4 L921.3 481.7 L921.7 482.1 L922.1 482.4 L922.5 482.7 L922.9 483.1 L923.3 483.4 L923.7 483.8 L924.1 483.9 L924.5 484.2 L924.9 484.5 L925.3 484.7 L925.7 484.9 L926.1 485.1 L926.5 485.3 L926.9 485.5 L927.3 485.6 L927.7 485.7 L928.1 485.9 L928.5 486.1 L928.9 486.3 L929.3 486.4 L929.7 486.6 L930.1 486.8 L930.5 486.9 L930.9 487.1"/>
<path stroke="#0cc02c" stroke-miterlimit="3" d="M199.8 631.4 L200.2 631.1 L200.6 631.4 L201.0 630.6 L201.4 630.9 L201.8 631.0 L202.2 630.6 L202.6 630.4 L203.0 629.7 L203.4 629.6 L203.8 629.3 L204.2 630.1 L204.6 629.6 L205.0 629.5 L205.4 629.4 L205.8 629.6 L206.2 628.9 L206.6 629.0 L207.0 628.3 L207.4 628.9 L207.8 627.1 L208.2 627.8 L208.6 627.8 L209.0 627.1 L209.4 627.3 L209.8 627.5 L210.2 627.3 L210.6 627.3 L211.0 627.1 L211.4 626.8 L211.8 627.4 L212.2 626.6 L212.6 626.7 L213.0 626.8 L213.4 627.2 L213.8 627.1 L214.2 626.8 L214.6 626.8 L215.0 627.3 L215.4 627.5 L215.8 627.0 L216.2 626.7 L216.6 627.1 L217.0 627.5 L217.4 626.8 L217.8 627.1 L218.2 626.7 L218.6 627.0 L219.0 627.2 L219.4 627.1 L219.8 626.8 L220.2 625.8 L220.6 626.9 L221.0 627.2 L221.4 626.6 L221.8 626.9 L222.2 627.3 L222.6 627.4 L223.0 627.1 L223.4 627.4 L223.8 627.1 L224.2 627.2 L224.6 627.6 L225.0 626.7 L225.4 627.2 L225.8 626.4 L226.2 626.7 L226.6 627.0 L227.0 627.0 L227.4 627.4 L227.8 627.0 L228.2 627.5 L228.6 626.7 L229.0 627.0 L229.4 626.8 L229.8 626.3 L230.2 626.8 L230.6 627.0 L231.0 626.8 L231.4 626.7 L231.8 626.7 L232.2 626.7 L232.6 626.8 L233.0 626.5 L233.4 627.0 L233.8 626.1 L234.2 626.3 L234.6 626.8 L235.0 627.1 L235.4 626.8 L235.8 626.5 L236.2 626.9 L236.6 626.5 L237.0 627.1 L237.4 627.5 L237.8 627.0 L238.2 626.6 L238.6 627.1 L239.0 627.3 L239.4 626.6 L239.8 627.9 L240.2 626.8 L240.6 627.1 L241.0 627.2 L241.4 626.6 L241.8 626.5 L242.2 627.7 L242.6 627.5 L243.0 627.4 L243.4 627.1 L243.8 627.0 L244.2 628.4 L244.6 626.8 L245.0 626.9 L245.4 627.1 L245.8 627.0 L246.2 626.9 L246.6 626.8 L247.0 627.4 L247.4 626.8 L247.8 626.7 L248.2 627.0 L248.6 626.8 L249.0 626.4 L249.4 626.5 L249.8 626.1 L250.2 626.4 L250.6 627.3 L251.0 626.8 L251.4 625.9 L251.8 626.7 L252.2 627.3 L252.6 626.4 L253.0 627.2 L253.4 626.5 L253.8 626.7 L254.2 626.8 L254.6 627.1 L255.0 626.7 L255.4 626.8 L255.8 626.6 L256.2 627.2 L256.6 627.0 L257.0 626.4 L257.4 626.6 L257.8 626.7 L258.2 626.8 L258.6 626.8 L259.0 627.0 L259.4 626.9 L259.8 628.4 L260.2 626.6 L260.6 627.0 L261.0 627.3 L261.4 627.1 L261.8 627.1 L262.2 626.8 L262.6 626.6 L263.0 626.4 L263.4 626.7 L263.8 626.6 L264.2 627.3 L264.6 626.5 L265.0 627.1 L265.4 627.5 L265.8 627.5 L266.2 626.6 L266.6 627.3 L267.0 626.4 L267.4 626.9 L267.8 627.4 L268.2 626.7 L268.6 627.0 L269.0 627.2 L269.4 626.6 L269.8 626.6 L270.2 626.4 L270.6 626.9 L271.0 626.6 L271.4 627.4 L271.8 626.9 L272.2 627.3 L272.6 626.9 L273.0 627.6 L273.4 627.3 L273.8 626.8 L274.2 626.9 L274.6 626.2 L275.0 627.3 L275.4 626.6 L275.8 627.2 L276.2 627.2 L276.6 626.6 L277.0 627.2 L277.4 626.5 L277.8 626.6 L278.2 626.3 L278.6 626.7 L279.0 626.7 L279.4 627.1 L279.8 627.2 L280.2 626.8 L280.6 627.2 L281.0 627.3 L281.4 626.2 L281.8 626.8 L282.2 626.8 L282.6 627.5 L283.0 627.1 L283.4 627.0 L283.8 626.7 L284.2 627.1 L284.6 627.3 L285.0 626.9 L285.4 626.6 L285.8 627.2 L286.2 626.4 L286.6 626.8 L287.0 627.2 L287.4 626.6 L287.8 626.8 L288.2 626.5 L288.6 627.4 L289.0 626.9 L289.4 627.1 L289.8 626.7 L290.2 627.5 L290.6 627.3 L291.0 626.9 L291.4 627.1 L291.8 626.4 L292.2 627.0 L292.6 627.3 L293.0 625.9 L293.4 626.8 L293.8 626.8 L294.2 627.0 L294.6 627.0 L295.0 627.6 L295.4 627.1 L295.8 626.8 L296.2 626.9 L296.6 626.8 L297.0 626.7 L297.4 627.0 L297.8 626.5 L298.2 626.4 L298.6 626.8 L299.0 627.3 L299.4 626.8 L299.8 626.8 L300.2 626.8 L300.6 626.9 L301.0 627.4 L301.4 627.4 L301.8 627.0 L302.2 626.9 L302.6 627.0 L303.0 627.1 L303.4 627.3 L303.8 626.9 L304.2 626.9 L304.6 627.0 L305.0 626.7 L305.4 626.7 L305.8 626.8 L306.2 627.0 L306.6 626.9 L307.0 626.1 L307.4 626.5 L307.8 626.9 L308.2 626.8 L308.6 626.9 L309.0 626.7 L309.4 628.2 L309.8 627.0 L310.2 627.1 L310.6 626.5 L311.0 627.2 L311.4 626.7 L311.8 627.5 L312.2 626.8 L312.6 626.8 L313.0 626.3 L313.4 627.0 L313.8 626.6 L314.2 626.7 L314.6 627.2 L315.0 627.6 L315.4 626.7 L315.8 626.5 L316.2 626.2 L316.6 626.7 L317.0 627.0 L317.4 626.5 L317.8 626.6 L318.2 627.3 L318.6 627.3 L319.0 627.3 L319.4 626.6 L319.8 626.6 L320.2 626.1 L320.6 626.8 L321.0 626.8 L321.4 627.0 L321.8 627.1 L322.2 627.1 L322.6 627.2 L323.0 627.2 L323.4 626.8 L323.8 626.8 L324.2 626.7 L324.6 627.6 L325.0 628.1 L325.4 626.6 L325.8 626.6 L326.2 626.8 L326.6 626.9 L327.0 626.9 L327.4 626.9 L327.8 627.4 L328.2 626.7 L328.6 626.9 L329.0 627.3 L329.4 626.5 L329.8 626.6 L330.2 627.3 L330.6 626.5 L331.0 627.0 L331.4 626.6 L331.8 627.1 L332.2 627.5 L332.6 627.2 L333.0 626.6 L333.4 626.9 L333.8 626.6 L334.2 626.5 L334.6 626.6 L335.0 626.8 L335.4 627.4 L335.8 627.2 L336.2 627.3 L336.6 627.2 L337.0 626.8 L337.4 626.5 L337.8 627.1 L338.2 626.6 L338.6 627.3 L339.0 626.8 L339.4 626.7 L339.8 627.1 L340.2 627.0 L340.6 627.1 L341.0 627.8 L341.4 627.0 L341.8 626.5 L342.2 625.9 L342.6 626.4 L343.0 627.0 L343.4 627.0 L343.8 627.2 L344.2 627.1 L344.6 626.6 L345.0 626.8 L345.4 627.2 L345.8 627.2 L346.2 626.7 L346.6 627.1 L347.0 627.4 L347.4 626.7 L347.8 627.1 L348.2 627.1 L348.6 626.9 L349.0 627.0 L349.4 627.5 L349.8 627.1 L350.2 627.0 L350.6 626.6 L351.0 626.8 L351.4 626.5 L351.8 626.6 L352.2 626.4 L352.6 626.8 L353.0 626.6 L353.4 626.4 L353.8 627.3 L354.2 626.8 L354.6 627.2 L355.0 627.2 L355.4 627.4 L355.8 626.9 L356.2 626.1 L356.6 627.1 L357.0 626.9 L357.4 626.4 L357.8 626.1 L358.2 627.2 L358.6 627.3 L359.0 627.3 L359.4 627.4 L359.8 627.3 L360.2 627.1 L360.6 627.0 L361.0 627.2 L361.4 627.1 L361.8 627.0 L362.2 627.1 L362.6 626.8 L363.0 626.7 L363.4 627.5 L363.8 627.6 L364.2 627.3 L364.6 626.7 L365.0 626.5 L365.4 627.2 L365.8 626.4 L366.2 626.9 L366.6 627.5 L367.0 626.9 L367.4 626.9 L367.8 626.9 L368.2 626.7 L368.6 627.2 L369.0 626.4 L369.4 626.9 L369.8 627.1 L370.2 626.6 L370.6 627.1 L371.0 626.6 L371.4 627.2 L371.8 627.2 L372.2 627.0 L372.6 626.7 L373.0 626.5 L373.4 626.8 L373.8 627.0 L374.2 627.8 L374.6 627.1 L375.0 627.0 L375.4 626.4 L375.8 626.6 L376.2 626.7 L376.6 626.9 L377.0 626.9 L377.4 627.2 L377.8 627.4 L378.2 627.3 L378.6 626.7 L379.0 626.8 L379.4 626.7 L379.8 626.5 L380.2 626.5 L380.6 627.0 L381.0 626.7 L381.4 627.1 L381.8 626.8 L382.2 626.8 L382.6 626.9 L383.0 626.9 L383.4 627.8 L383.8 626.7 L384.2 627.0 L384.6 626.5 L385.0 626.8 L385.4 627.4 L385.8 627.1 L386.2 627.5 L386.6 626.4 L387.0 626.7 L387.4 627.0 L387.8 626.6 L388.2 626.7 L388.6 626.5 L389.0 627.1 L389.4 626.8 L389.8 626.9 L390.2 626.5 L390.6 626.8 L391.0 627.4 L391.4 627.1 L391.8 626.9 L392.2 626.7 L392.6 626.8 L393.0 626.9 L393.4 628.3 L393.8 627.0 L394.2 626.8 L394.6 626.9 L395.0 626.6 L395.4 627.0 L395.8 626.6 L396.2 626.7 L396.6 626.8 L397.0 627.5 L397.4 627.4 L397.8 626.9 L398.2 627.1 L398.6 627.0 L399.0 627.1 L399.4 626.9 L399.8 627.1 L400.2 627.4 L400.6 626.9 L401.0 627.7 L401.4 626.9 L401.8 627.2 L402.2 626.6 L402.6 628.3 L403.0 626.1 L403.4 626.7 L403.8 626.9 L404.2 627.5 L404.6 627.0 L405.0 627.2 L405.4 627.1 L405.8 626.8 L406.2 626.6 L406.6 626.6 L407.0 626.4 L407.4 627.0 L407.8 626.9 L408.2 626.9 L408.6 627.0 L409.0 627.4 L409.4 626.8 L409.8 627.0 L410.2 627.0 L410.6 627.1 L411.0 626.8 L411.4 627.3 L411.8 626.7 L412.2 626.9 L412.6 626.4 L413.0 626.9 L413.4 626.8 L413.8 626.8 L414.2 626.7 L414.6 627.0 L415.0 627.1 L415.4 627.6 L415.8 626.7 L416.2 627.0 L416.6 626.8 L417.0 627.2 L417.4 626.7 L417.8 626.7 L418.2 626.9 L418.6 626.7 L419.0 626.9 L419.4 626.7 L419.8 626.9 L420.2 627.1 L420.6 626.9 L421.0 627.0 L421.4 627.1 L421.8 627.1 L422.2 626.9 L422.6 626.4 L423.0 626.6 L423.4 626.4 L423.8 626.6 L424.2 627.0 L424.6 627.1 L425.0 626.6 L425.4 626.3 L425.8 626.6 L426.2 627.0 L426.6 627.1 L427.0 627.0 L427.4 627.4 L427.8 627.1 L428.2 626.3 L428.6 626.3 L429.0 626.8 L429.4 626.3 L429.8 627.0 L430.2 626.1 L430.6 628.0 L431.0 626.5 L431.4 626.9 L431.8 627.3 L432.2 626.8 L432.6 626.1 L433.0 626.6 L433.4 626.6 L433.8 626.8 L434.2 627.1 L434.6 626.6 L435.0 626.6 L435.4 626.4 L435.8 626.3 L436.2 626.4 L436.6 626.7 L437.0 626.9 L437.4 626.8 L437.8 626.6 L438.2 626.8 L438.6 626.5 L439.0 627.0 L439.4 626.4 L439.8 626.3 L440.2 626.7 L440.6 626.5 L441.0 627.0 L441.4 626.5 L441.8 626.8 L442.2 626.8 L442.6 627.0 L443.0 627.0 L443.4 626.4 L443.8 626.2 L444.2 626.5 L444.6 626.8 L445.0 626.9 L445.4 626.5 L445.8 627.1 L446.2 626.6 L446.6 627.0 L447.0 626.6 L447.4 626.3 L447.8 626.5 L448.2 626.8 L448.6 626.9 L449.0 626.6 L449.4 627.1 L449.8 626.7 L450.2 626.8 L450.6 626.7 L451.0 626.5 L451.4 626.3 L451.8 626.6 L452.2 626.5 L452.6 626.5 L453.0 626.6 L453.4 626.5 L453.8 626.8 L454.2 626.7 L454.6 626.4 L455.0 626.9 L455.4 626.5 L455.8 626.2 L456.2 626.2 L456.6 626.4 L457.0 626.6 L457.4 626.4 L457.8 626.7 L458.2 627.0 L458.6 626.3 L459.0 626.5 L459.4 626.3 L459.8 626.7 L460.2 626.1 L460.6 626.6 L461.0 626.3 L461.4 626.4 L461.8 626.5 L462.2 626.3 L462.6 626.2 L463.0 626.8 L463.4 626.5 L463.8 626.5 L464.2 626.7 L464.6 626.2 L465.0 626.5 L465.4 626.3 L465.8 626.0 L466.2 626.2 L466.6 626.3 L467.0 626.1 L467.4 626.1 L467.8 626.4 L468.2 626.2 L468.6 626.2 L469.0 625.9 L469.4 626.4 L469.8 626.5 L470.2 626.3 L470.6 626.4 L471.0 626.2 L471.4 626.4 L471.8 626.4 L472.2 626.2 L472.6 626.4 L473.0 626.2 L473.4 626.5 L473.8 626.4 L474.2 626.1 L474.6 626.4 L475.0 626.2 L475.4 626.1 L475.8 626.2 L476.2 626.0 L476.6 626.2 L477.0 625.9 L477.4 626.1 L477.8 626.5 L478.2 625.6 L478.6 626.0 L479.0 626.3 L479.4 625.9 L479.8 625.4 L480.2 626.3 L480.6 626.3 L481.0 625.9 L481.4 626.0 L481.8 625.9 L482.2 625.2 L482.6 626.1 L483.0 626.1 L483.4 625.9 L483.8 625.7 L484.2 625.9 L484.6 625.8 L485.0 625.8 L485.4 625.9 L485.8 625.9 L486.2 625.6 L486.6 626.0 L487.0 625.7 L487.4 625.7 L487.8 625.6 L488.2 625.6 L488.6 625.5 L489.0 625.7 L489.4 625.6 L489.8 625.6 L490.2 625.9 L490.6 625.6 L491.0 625.8 L491.4 625.5 L491.8 626.0 L492.2 625.3 L492.6 625.6 L493.0 625.7 L493.4 625.0 L493.8 625.4 L494.2 625.6 L494.6 625.6 L495.0 625.4 L495.4 625.5 L495.8 625.6 L496.2 625.6 L496.6 625.2 L497.0 625.6 L497.4 625.3 L497.8 625.5 L498.2 625.5 L498.6 625.4 L499.0 625.6 L499.4 625.5 L499.8 625.4 L500.2 625.7 L500.6 625.3 L501.0 625.3 L501.4 625.6 L501.8 625.3 L502.2 625.1 L502.6 625.3 L503.0 625.3 L503.4 625.0 L503.8 625.3 L504.2 625.1 L504.6 625.2 L505.0 625.2 L505.4 625.4 L505.8 625.2 L506.2 625.3 L506.6 625.0 L507.0 625.1 L507.4 624.9 L507.8 625.2 L508.2 625.0 L508.6 624.9 L509.0 625.1 L509.4 625.0 L509.8 625.0 L510.2 624.9 L510.6 624.9 L511.0 624.9 L511.4 624.8 L511.8 624.7 L512.2 624.8 L512.6 624.6 L513.0 624.9 L513.4 624.7 L513.8 624.6 L514.2 624.3 L514.6 624.5 L515.0 624.5 L515.4 624.2 L515.8 624.4 L516.2 624.3 L516.6 624.4 L517.0 624.5 L517.4 624.1 L517.8 624.4 L518.2 624.5 L518.6 624.5 L519.0 624.3 L519.4 624.0 L519.8 624.3 L520.2 624.2 L520.6 624.2 L521.0 624.2 L521.4 624.1 L521.8 623.8 L522.2 623.9 L522.6 623.8 L523.0 624.0 L523.4 623.9 L523.8 623.7 L524.2 623.6 L524.6 623.9 L525.0 623.6 L525.4 623.5 L525.8 623.9 L526.2 623.7 L526.6 623.6 L527.0 623.6 L527.4 623.8 L527.8 623.6 L528.2 623.7 L528.6 623.6 L529.0 623.5 L529.4 623.6 L529.8 623.3 L530.2 623.2 L530.6 623.3 L531.0 623.5 L531.4 623.2 L531.8 623.2 L532.2 623.1 L532.6 623.2 L533.0 623.1 L533.4 623.2 L533.8 623.0 L534.2 623.0 L534.6 623.1 L535.0 622.9 L535.4 622.8 L535.8 622.8 L536.2 622.6 L536.6 623.0 L537.0 622.8 L537.4 622.9 L537.8 622.7 L538.2 622.7 L538.6 622.8 L539.0 622.7 L539.4 622.4 L539.8 622.5 L540.2 622.2 L540.6 622.3 L541.0 622.3 L541.4 622.4 L541.8 622.2 L542.2 622.2 L542.6 622.2 L543.0 622.0 L543.4 622.2 L543.8 622.1 L544.2 622.2 L544.6 622.2 L545.0 622.0 L545.4 622.2 L545.8 621.9 L546.2 621.8 L546.6 621.8 L547.0 621.7 L547.4 621.9 L547.8 621.5 L548.2 621.7 L548.6 621.7 L549.0 621.6 L549.4 621.7 L549.8 621.6 L550.2 621.6 L550.6 621.0 L551.0 621.4 L551.4 621.5 L551.8 621.0 L552.2 621.3 L552.6 621.1 L553.0 621.1 L553.4 621.2 L553.8 621.1 L554.2 620.9 L554.6 620.9 L555.0 620.8 L555.4 620.9 L555.8 620.9 L556.2 620.9 L556.6 620.7 L557.0 620.7 L557.4 620.7 L557.8 620.7 L558.2 620.5 L558.6 620.5 L559.0 620.4 L559.4 620.4 L559.8 620.2 L560.2 620.2 L560.6 620.4 L561.0 620.0 L561.4 620.1 L561.8 620.0 L562.2 619.8 L562.6 619.9 L563.0 619.7 L563.4 619.6 L563.8 619.7 L564.2 619.4 L564.6 619.4 L565.0 619.4 L565.4 619.4 L565.8 619.4 L566.2 619.1 L566.6 619.3 L567.0 619.1 L567.4 619.1 L567.8 618.9 L568.2 618.8 L568.6 619.2 L569.0 618.8 L569.4 618.7 L569.8 618.8 L570.2 618.7 L570.6 618.2 L571.0 618.4 L571.4 618.4 L571.8 618.2 L572.2 618.1 L572.6 618.2 L573.0 618.0 L573.4 617.9 L573.8 617.8 L574.2 617.8 L574.6 617.7 L575.0 617.6 L575.4 617.6 L575.8 617.4 L576.2 617.1 L576.6 617.1 L577.0 617.2 L577.4 617.0 L577.8 616.9 L578.2 616.9 L578.6 617.1 L579.0 616.5 L579.4 616.7 L579.8 616.5 L580.2 616.3 L580.6 616.1 L581.0 616.0 L581.4 616.1 L581.8 615.7 L582.2 616.0 L582.6 615.7 L583.0 615.6 L583.4 615.3 L583.8 615.3 L584.2 615.3 L584.6 615.1 L585.0 615.0 L585.4 614.8 L585.8 614.7 L586.2 614.5 L586.6 614.6 L587.0 614.2 L587.4 614.1 L587.8 614.1 L588.2 613.8 L588.6 613.6 L589.0 613.6 L589.4 613.4 L589.8 613.4 L590.2 613.3 L590.6 613.1 L591.0 612.9 L591.4 612.8 L591.8 612.5 L592.2 612.3 L592.6 612.3 L593.0 612.2 L593.4 612.0 L593.8 611.9 L594.2 611.7 L594.6 611.4 L595.0 611.1 L595.4 611.1 L595.8 611.0 L596.2 610.7 L596.6 610.5 L597.0 610.2 L597.4 610.0 L597.8 609.8 L598.2 609.6 L598.6 609.5 L599.0 609.3 L599.4 608.9 L599.8 608.8 L600.2 608.5 L600.6 608.3 L601.0 608.0 L601.4 607.9 L601.8 607.5 L602.2 607.2 L602.6 606.9 L603.0 606.6 L603.4 606.2 L603.8 606.1 L604.2 605.9 L604.6 605.4 L605.0 605.2 L605.4 604.8 L605.8 604.7 L606.2 604.4 L606.6 604.2 L607.0 603.7 L607.4 603.6 L607.8 603.3 L608.2 603.0 L608.6 602.8 L609.0 602.6 L609.4 602.2 L609.8 601.9 L610.2 601.7 L610.6 601.6 L611.0 601.2 L611.4 600.9 L611.8 600.7 L612.2 600.3 L612.6 600.1 L613.0 599.8 L613.4 599.5 L613.8 599.4 L614.2 599.1 L614.6 598.8 L615.0 598.5 L615.4 598.3 L615.8 597.9 L616.2 597.7 L616.6 597.4 L617.0 597.1 L617.4 596.8 L617.8 596.4 L618.2 596.1 L618.6 595.8 L619.0 595.4 L619.4 595.2 L619.8 594.7 L620.2 594.3 L620.6 594.0 L621.0 593.8 L621.4 593.3 L621.8 592.9 L622.2 592.6 L622.6 592.3 L623.0 591.8 L623.4 591.5 L623.8 591.0 L624.2 590.6 L624.6 590.2 L625.0 589.7 L625.4 589.4 L625.8 588.8 L626.2 588.6 L626.6 588.2 L627.0 587.7 L627.4 587.2 L627.8 586.8 L628.2 586.4 L628.6 586.0 L629.0 585.5 L629.4 585.1 L629.8 584.7 L630.2 584.3 L630.6 583.7 L631.0 583.4 L631.4 582.9 L631.8 582.4 L632.2 581.9 L632.6 581.4 L633.0 581.0 L633.4 580.5 L633.8 580.0 L634.2 579.6 L634.6 579.1 L635.0 578.6 L635.4 578.2 L635.8 577.7 L636.2 577.2 L636.6 576.7 L637.0 576.2 L637.4 575.6 L637.8 575.3 L638.2 574.8 L638.6 574.4 L639.0 573.9 L639.4 573.3 L639.8 572.8 L640.2 572.3 L640.6 572.0 L641.0 571.5 L641.4 571.0 L641.8 570.6 L642.2 570.1 L642.6 569.6 L643.0 569.1 L643.4 568.6 L643.8 568.2 L644.2 567.6 L644.6 567.1 L645.0 566.7 L645.4 566.3 L645.8 565.9 L646.2 565.2 L646.6 565.0 L647.0 564.4 L647.4 564.0 L647.8 563.6 L648.2 563.0 L648.6 562.7 L649.0 562.2 L649.4 561.8 L649.8 561.3 L650.2 560.8 L650.6 560.4 L651.0 560.0 L651.4 559.7 L651.8 559.2 L652.2 558.7 L652.6 558.3 L653.0 558.0 L653.4 557.5 L653.8 557.2 L654.2 556.8 L654.6 556.3 L655.0 555.9 L655.4 555.5 L655.8 555.2 L656.2 554.7 L656.6 554.4 L657.0 554.0 L657.4 553.6 L657.8 553.2 L658.2 552.7 L658.6 552.5 L659.0 552.1 L659.4 551.8 L659.8 551.3 L660.2 550.9 L660.6 550.5 L661.0 550.3 L661.4 549.9 L661.8 549.6 L662.2 549.2 L662.6 548.8 L663.0 548.5 L663.4 548.1 L663.8 547.9 L664.2 547.5 L664.6 547.2 L665.0 546.8 L665.4 546.5 L665.8 546.1 L666.2 545.8 L666.6 545.5 L667.0 545.2 L667.4 544.8 L667.8 544.5 L668.2 544.3 L668.6 544.0 L669.0 543.6 L669.4 543.4 L669.8 543.0 L670.2 542.6 L670.6 542.5 L671.0 542.1 L671.4 541.8 L671.8 541.6 L672.2 541.2 L672.6 541.0 L673.0 540.7 L673.4 540.4 L673.8 540.2 L674.2 539.8 L674.6 539.7 L675.0 539.4 L675.4 539.1 L675.8 538.8 L676.2 538.6 L676.6 538.3 L677.0 538.1 L677.4 537.8 L677.8 537.5 L678.2 537.2 L678.6 537.0 L679.0 536.7 L679.4 536.3 L679.8 536.2 L680.2 535.9 L680.6 535.5 L681.0 535.3 L681.4 535.0 L681.8 534.8 L682.2 534.4 L682.6 534.1 L683.0 533.8 L683.4 533.5 L683.8 533.2 L684.2 533.0 L684.6 532.6 L685.0 532.2 L685.4 532.0 L685.8 531.6 L686.2 531.4 L686.6 531.0 L687.0 530.7 L687.4 530.4 L687.8 530.1 L688.2 529.8 L688.6 529.4 L689.0 529.1 L689.4 528.7 L689.8 528.4 L690.2 528.2 L690.6 527.8 L691.0 527.5 L691.4 527.1 L691.8 526.9 L692.2 526.5 L692.6 526.2 L693.0 525.9 L693.4 525.5 L693.8 525.2 L694.2 525.0 L694.6 524.5 L695.0 524.2 L695.4 523.8 L695.8 523.5 L696.2 523.1 L696.6 522.7 L697.0 522.5 L697.4 522.1 L697.8 521.6 L698.2 521.2 L698.6 521.0 L699.0 520.5 L699.4 520.1 L699.8 519.7 L700.2 519.3 L700.6 518.9 L701.0 518.5 L701.4 518.0 L701.8 517.6 L702.2 517.2 L702.6 516.8 L703.0 516.4 L703.4 516.0 L703.8 515.5 L704.2 515.1 L704.6 514.8 L705.0 514.3 L705.4 513.8 L705.8 513.4 L706.2 512.9 L706.6 512.5 L707.0 512.2 L707.4 511.7 L707.8 511.2 L708.2 510.7 L708.6 510.3 L709.0 509.8 L709.4 509.3 L709.8 508.8 L710.2 508.4 L710.6 507.9 L711.0 507.4 L711.4 507.0 L711.8 506.4 L712.2 505.9 L712.6 505.3 L713.0 504.9 L713.4 504.3 L713.8 503.8 L714.2 503.3 L714.6 502.7 L715.0 502.3 L715.4 501.7 L715.8 501.1 L716.2 500.5 L716.6 500.1 L717.0 499.5 L717.4 499.1 L717.8 498.4 L718.2 498.0 L718.6 497.2 L719.0 496.7 L719.4 496.2 L719.8 495.6 L720.2 495.0 L720.6 494.6 L721.0 494.0 L721.4 493.5 L721.8 492.9 L722.2 492.3 L722.6 491.7 L723.0 491.2 L723.4 490.7 L723.8 490.0 L724.2 489.6 L724.6 489.0 L725.0 488.4 L725.4 487.8 L725.8 487.3 L726.2 486.7 L726.6 486.2 L727.0 485.6 L727.4 485.0 L727.8 484.4 L728.2 483.8 L728.6 483.3 L729.0 482.7 L729.4 482.1 L729.8 481.5 L730.2 480.8 L730.6 480.2 L731.0 479.7 L731.4 478.9 L731.8 478.3 L732.2 477.7 L732.6 477.0 L733.0 476.3 L733.4 475.7 L733.8 474.9 L734.2 474.3 L734.6 473.5 L735.0 472.9 L735.4 472.2 L735.8 471.5 L736.2 470.7 L736.6 470.1 L737.0 469.4 L737.4 468.8 L737.8 468.1 L738.2 467.4 L738.6 466.6 L739.0 465.9 L739.4 465.3 L739.8 464.6 L740.2 463.9 L740.6 463.3 L741.0 462.7 L741.4 461.9 L741.8 461.2 L742.2 460.6 L742.6 460.0 L743.0 459.4 L743.4 458.8 L743.8 458.1 L744.2 457.4 L744.6 456.8 L745.0 456.4 L745.4 455.7 L745.8 455.2 L746.2 454.6 L746.6 454.0 L747.0 453.4 L747.4 452.8 L747.8 452.3 L748.2 451.7 L748.6 451.1 L749.0 450.5 L749.4 449.9 L749.8 449.5 L750.2 448.9 L750.6 448.3 L751.0 447.7 L751.4 447.2 L751.8 446.7 L752.2 446.0 L752.6 445.4 L753.0 444.8 L753.4 444.2 L753.8 443.6 L754.2 443.0 L754.6 442.4 L755.0 441.8 L755.4 441.1 L755.8 440.4 L756.2 439.8 L756.6 439.1 L757.0 438.5 L757.4 437.7 L757.8 437.0 L758.2 436.3 L758.6 435.7 L759.0 435.0 L759.4 434.3 L759.8 433.5 L760.2 432.8 L760.6 432.0 L761.0 431.3 L761.4 430.5 L761.8 429.9 L762.2 429.0 L762.6 428.4 L763.0 427.7 L763.4 427.0 L763.8 426.4 L764.2 425.7 L764.6 425.0 L765.0 424.3 L765.4 423.7 L765.8 423.0 L766.2 422.5 L766.6 421.7 L767.0 421.1 L767.4 420.6 L767.8 420.0 L768.2 419.4 L768.6 419.0 L769.0 418.2 L769.4 417.8 L769.8 417.2 L770.2 416.7 L770.6 416.2 L771.0 415.6 L771.4 415.1 L771.8 414.5 L772.2 414.0 L772.6 413.7 L773.0 413.3 L773.4 412.7 L773.8 412.2 L774.2 411.8 L774.6 411.3 L775.0 410.7 L775.4 410.4 L775.8 409.9 L776.2 409.4 L776.6 408.9 L777.0 408.5 L777.4 408.1 L777.8 407.7 L778.2 407.3 L778.6 406.9 L779.0 406.4 L779.4 406.1 L779.8 405.7 L780.2 405.2 L780.6 404.9 L781.0 404.4 L781.4 404.1 L781.8 403.8 L782.2 403.2 L782.6 402.7 L783.0 402.6 L783.4 401.9 L783.8 402.0 L784.2 401.8 L784.6 401.2 L785.0 400.8 L785.4 400.8 L785.8 400.3 L786.2 399.8 L786.6 399.7 L787.0 399.1 L787.4 399.1 L787.8 398.8 L788.2 398.4 L788.6 398.0 L789.0 397.9 L789.4 398.0 L789.8 397.1 L790.2 397.3 L790.6 396.9 L791.0 396.7 L791.4 396.3 L791.8 396.6 L792.2 396.0 L792.6 395.6 L793.0 395.4 L793.4 395.8 L793.8 395.4 L794.2 394.7 L794.6 394.6 L795.0 394.6 L795.4 394.0 L795.8 394.3 L796.2 394.1 L796.6 394.3 L797.0 394.3 L797.4 393.9 L797.8 394.0 L798.2 392.8 L798.6 393.5 L799.0 393.4 L799.4 393.6 L799.8 393.4 L800.2 393.6 L800.6 393.2 L801.0 393.2 L801.4 392.8 L801.8 393.4 L802.2 392.8 L802.6 393.5 L803.0 393.1 L803.4 393.5 L803.8 393.3 L804.2 392.7 L804.6 392.9 L805.0 392.9 L805.4 392.9 L805.8 393.1 L806.2 393.1 L806.6 393.0 L807.0 393.0 L807.4 393.4 L807.8 393.2 L808.2 393.2 L808.6 393.9 L809.0 393.4 L809.4 393.4 L809.8 393.6 L810.2 393.8 L810.6 393.9 L811.0 393.8 L811.4 393.6 L811.8 394.0 L812.2 394.6 L812.6 394.8 L813.0 394.4 L813.4 394.3 L813.8 394.6 L814.2 394.9 L814.6 394.9 L815.0 395.5 L815.4 395.5 L815.8 395.6 L816.2 395.8 L816.6 396.3 L817.0 396.1 L817.4 397.3 L817.8 397.4 L818.2 397.6 L818.6 397.7 L819.0 398.0 L819.4 398.4 L819.8 399.1 L820.2 399.3 L820.6 399.7 L821.0 400.1 L821.4 400.1 L821.8 400.4 L822.2 401.0 L822.6 401.3 L823.0 401.9 L823.4 402.3 L823.8 402.8 L824.2 403.1 L824.6 403.5 L825.0 404.2 L825.4 404.5 L825.8 405.1 L826.2 405.4 L826.6 406.0 L827.0 406.5 L827.4 407.2 L827.8 407.8 L828.2 408.2 L828.6 408.9 L829.0 409.3 L829.4 410.0 L829.8 410.4 L830.2 411.0 L830.6 411.7 L831.0 412.3 L831.4 412.8 L831.8 413.4 L832.2 414.1 L832.6 414.7 L833.0 415.3 L833.4 415.9 L833.8 416.7 L834.2 417.4 L834.6 418.1 L835.0 418.8 L835.4 419.5 L835.8 419.9 L836.2 420.9 L836.6 421.5 L837.0 422.2 L837.4 423.0 L837.8 423.6 L838.2 424.5 L838.6 425.3 L839.0 425.9 L839.4 426.7 L839.8 427.4 L840.2 428.2 L840.6 428.9 L841.0 429.7 L841.4 430.4 L841.8 431.4 L842.2 432.1 L842.6 432.9 L843.0 433.7 L843.4 434.5 L843.8 435.3 L844.2 436.1 L844.6 436.9 L845.0 437.6 L845.4 438.4 L845.8 439.3 L846.2 440.0 L846.6 440.9 L847.0 441.6 L847.4 442.5 L847.8 443.2 L848.2 444.0 L848.6 444.8 L849.0 445.7 L849.4 446.5 L849.8 447.3 L850.2 448.1 L850.6 448.9 L851.0 449.8 L851.4 450.6 L851.8 451.3 L852.2 452.1 L852.6 452.9 L853.0 453.8 L853.4 454.6 L853.8 455.4 L854.2 456.2 L854.6 457.0 L855.0 457.8 L855.4 458.6 L855.8 459.4 L856.2 460.3 L856.6 461.1 L857.0 461.9 L857.4 462.8 L857.8 463.5 L858.2 464.4 L858.6 465.2 L859.0 466.0 L859.4 466.9 L859.8 467.7 L860.2 468.5 L860.6 469.3 L861.0 470.2 L861.4 471.0 L861.8 471.8 L862.2 472.6 L862.6 473.4 L863.0 474.2 L863.4 475.1 L863.8 475.9 L864.2 476.7 L864.6 477.5 L865.0 478.2 L865.4 479.1 L865.8 479.7 L866.2 480.5 L866.6 481.3 L867.0 482.0 L867.4 482.8 L867.8 483.6 L868.2 484.3 L868.6 485.1 L869.0 485.7 L869.4 486.5 L869.8 487.3 L870.2 487.9 L870.6 488.7 L871.0 489.3 L871.4 490.1 L871.8 490.7 L872.2 491.4 L872.6 492.1 L873.0 492.8 L873.4 493.4 L873.8 494.1 L874.2 494.7 L874.6 495.5 L875.0 495.9 L875.4 496.7 L875.8 497.2 L876.2 497.9 L876.6 498.5 L877.0 499.0 L877.4 499.7 L877.8 500.3 L878.2 501.0 L878.6 501.6 L879.0 502.1 L879.4 502.6 L879.8 503.2 L880.2 503.7 L880.6 504.3 L881.0 504.8 L881.4 505.3 L881.8 505.9 L882.2 506.3 L882.6 506.8 L883.0 507.3 L883.4 507.9 L883.8 508.4 L884.2 508.9 L884.6 509.3 L885.0 509.8 L885.4 510.2 L885.8 510.7 L886.2 511.2 L886.6 511.8 L887.0 512.0 L887.4 512.6 L887.8 512.9 L888.2 513.5 L888.6 513.9 L889.0 514.3 L889.4 514.8 L889.8 515.2 L890.2 515.7 L890.6 516.1 L891.0 516.5 L891.4 516.8 L891.8 517.2 L892.2 517.7 L892.6 518.1 L893.0 518.6 L893.4 518.9 L893.8 519.3 L894.2 519.7 L894.6 520.1 L895.0 520.5 L895.4 521.0 L895.8 521.3 L896.2 521.6 L896.6 522.0 L897.0 522.5 L897.4 522.7 L897.8 523.1 L898.2 523.5 L898.6 523.9 L899.0 524.2 L899.4 524.6 L899.8 524.9 L900.2 525.2 L900.6 525.7 L901.0 525.9 L901.4 526.2 L901.8 526.5 L902.2 527.0 L902.6 527.3 L903.0 527.6 L903.4 527.8 L903.8 528.3 L904.2 528.6 L904.6 528.8 L905.0 529.0 L905.4 529.4 L905.8 529.7 L906.2 530.0 L906.6 530.4 L907.0 530.6 L907.4 530.9 L907.8 531.2 L908.2 531.5 L908.6 531.7 L909.0 532.0 L909.4 532.2 L909.8 532.5 L910.2 532.7 L910.6 533.1 L911.0 533.3 L911.4 533.5 L911.8 533.7 L912.2 534.0 L912.6 534.3 L913.0 534.6 L913.4 534.7 L913.8 535.0 L914.2 535.2 L914.6 535.5 L915.0 535.6 L915.4 535.9 L915.8 536.1 L916.2 536.4 L916.6 536.5 L917.0 536.8 L917.4 537.0 L917.8 537.2 L918.2 537.4 L918.6 537.6 L919.0 537.8 L919.4 537.9 L919.8 538.1 L920.2 538.2 L920.6 538.6 L921.0 538.8 L921.4 538.8 L921.8 539.0 L922.2 539.2 L922.6 539.3 L923.0 539.5 L923.4 539.7 L923.8 539.8 L924.2 539.9 L924.6 540.0 L925.0 540.2 L925.4 540.4 L925.8 540.4 L926.2 540.6 L926.6 540.7 L927.0 540.8 L927.4 541.1 L927.8 541.1 L928.2 541.2 L928.6 541.3 L929.0 541.5 L929.4 541.5 L929.8 541.7 L930.2 541.8 L930.6 542.1 L931.0 542.1"/>
</g>
<text x="145.43" y="672.3" font-size="35.5" letter-spacing="-3.080">0.0</text>
<text x="283.58" y="672.3" font-size="35.5" letter-spacing="-3.080">0.2</text>
<text x="421.73" y="672.3" font-size="35.5" letter-spacing="-3.080">0.4</text>
<text x="559.88" y="672.3" font-size="35.5" letter-spacing="-3.080">0.6</text>
<text x="698.03" y="672.3" font-size="35.5" letter-spacing="-3.080">0.8</text>
<path d="M763 0H583V1147Q518 1085 412.5 1023T223 930V1104Q374 1175 487 1276T647 1472H763Z" fill="#000" transform="translate(836.18 672.30) scale(0.01733 -0.01733)"/><text x="852.84" y="672.30" font-size="35.5" letter-spacing="-3.080">.0</text>
<path d="M763 0H583V1147Q518 1085 412.5 1023T223 930V1104Q374 1175 487 1276T647 1472H763Z" fill="#000" transform="translate(974.33 672.30) scale(0.01733 -0.01733)"/><text x="990.99" y="672.30" font-size="35.5" letter-spacing="-3.080">.2</text>
<text x="128.73" y="636.70" font-size="35.5" letter-spacing="-2.851">0</text>
<path d="M763 0H583V1147Q518 1085 412.5 1023T223 930V1104Q374 1175 487 1276T647 1472H763Z" fill="#000" transform="translate(95.02 535.52) scale(0.01733 -0.01733)"/><text x="111.91" y="535.52" font-size="35.5" letter-spacing="-2.851">00</text>
<text x="95.02" y="434.35" font-size="35.5" letter-spacing="-2.851">200</text>
<text x="95.02" y="333.17" font-size="35.5" letter-spacing="-2.851">300</text>
<text x="95.02" y="232.00" font-size="35.5" letter-spacing="-2.851">400</text>
<text x="95.02" y="130.82" font-size="35.5" letter-spacing="-2.851">500</text>
<text x="95.02" y="29.65" font-size="35.5" letter-spacing="-2.851">600</text>
<path d="M184.2 50.35 H255.6" stroke="#900084" stroke-width="3.5" fill="none"/>
<text x="261.87" y="60.30" font-size="34.5" font-weight="bold" letter-spacing="-3.596">Pt/CXG-ME</text>
<path d="M184.2 87.00 H255.6" stroke="#ff1088" stroke-width="3.5" fill="none"/>
<text x="261.87" y="96.95" font-size="34.5" font-weight="bold" letter-spacing="-3.618">Pt/CXG-FAM</text>
<path d="M184.2 123.65 H255.6" stroke="#8080ff" stroke-width="3.5" fill="none"/>
<text x="261.87" y="133.60" font-size="34.5" font-weight="bold" letter-spacing="-3.605">Pt/CXG-SBM</text>
<path d="M184.2 160.30 H255.6" stroke="#ff9a2e" stroke-width="3.5" fill="none"/>
<text x="261.87" y="170.25" font-size="34.5" font-weight="bold" letter-spacing="-3.273">Pt/Vulcan-FAM</text>
<path d="M184.2 196.95 H255.6" stroke="#000000" stroke-width="3.5" fill="none"/>
<text x="261.87" y="206.90" font-size="34.5" font-weight="bold" letter-spacing="-3.288">Pt/Vulcan-SBM</text>
<path d="M184.2 233.60 H255.6" stroke="#0cc02c" stroke-width="3.5" fill="none"/>
<text x="261.87" y="243.55" font-size="34.5" font-weight="bold" letter-spacing="-3.252">Pt/Vulcan-ME</text>
<text x="401.21" y="730.60" font-size="43.5" letter-spacing="-2.235">Potential</text>
<text x="563.38" y="730.60" font-size="43.5" letter-spacing="-3.519">vs.</text>
<text x="621.71" y="730.60" font-size="43.5" letter-spacing="-4.228">RHE</text>
<text x="713.20" y="730.60" font-size="43.5" letter-spacing="0.000">/</text>
<text x="735.48" y="730.60" font-size="43.5" letter-spacing="0.000">V</text>
<g transform="translate(41.8 600.0) rotate(-90)"><text x="94.31" y="0.00" font-size="43.5" letter-spacing="-3.215">Mass</text><text x="197.15" y="0.00" font-size="43.5" letter-spacing="-1.962">activity</text><text x="326.20" y="0.00" font-size="43.5" letter-spacing="0.000">/</text><text x="347.19" y="0.00" font-size="43.5" letter-spacing="0.000">A</text><text x="383.15" y="0.00" font-size="43.5" letter-spacing="0.000">g</text><text x="403.43" y="-21.60" font-size="26">-</text><path d="M763 0H583V1147Q518 1085 412.5 1023T223 930V1104Q374 1175 487 1276T647 1472H763Z" fill="#000" transform="translate(412.11 -21.60) scale(0.01270 -0.01270)"/><text x="403.86" y="15.20" font-size="26" letter-spacing="-2.030">Pt</text></g>
</svg></body></html>
